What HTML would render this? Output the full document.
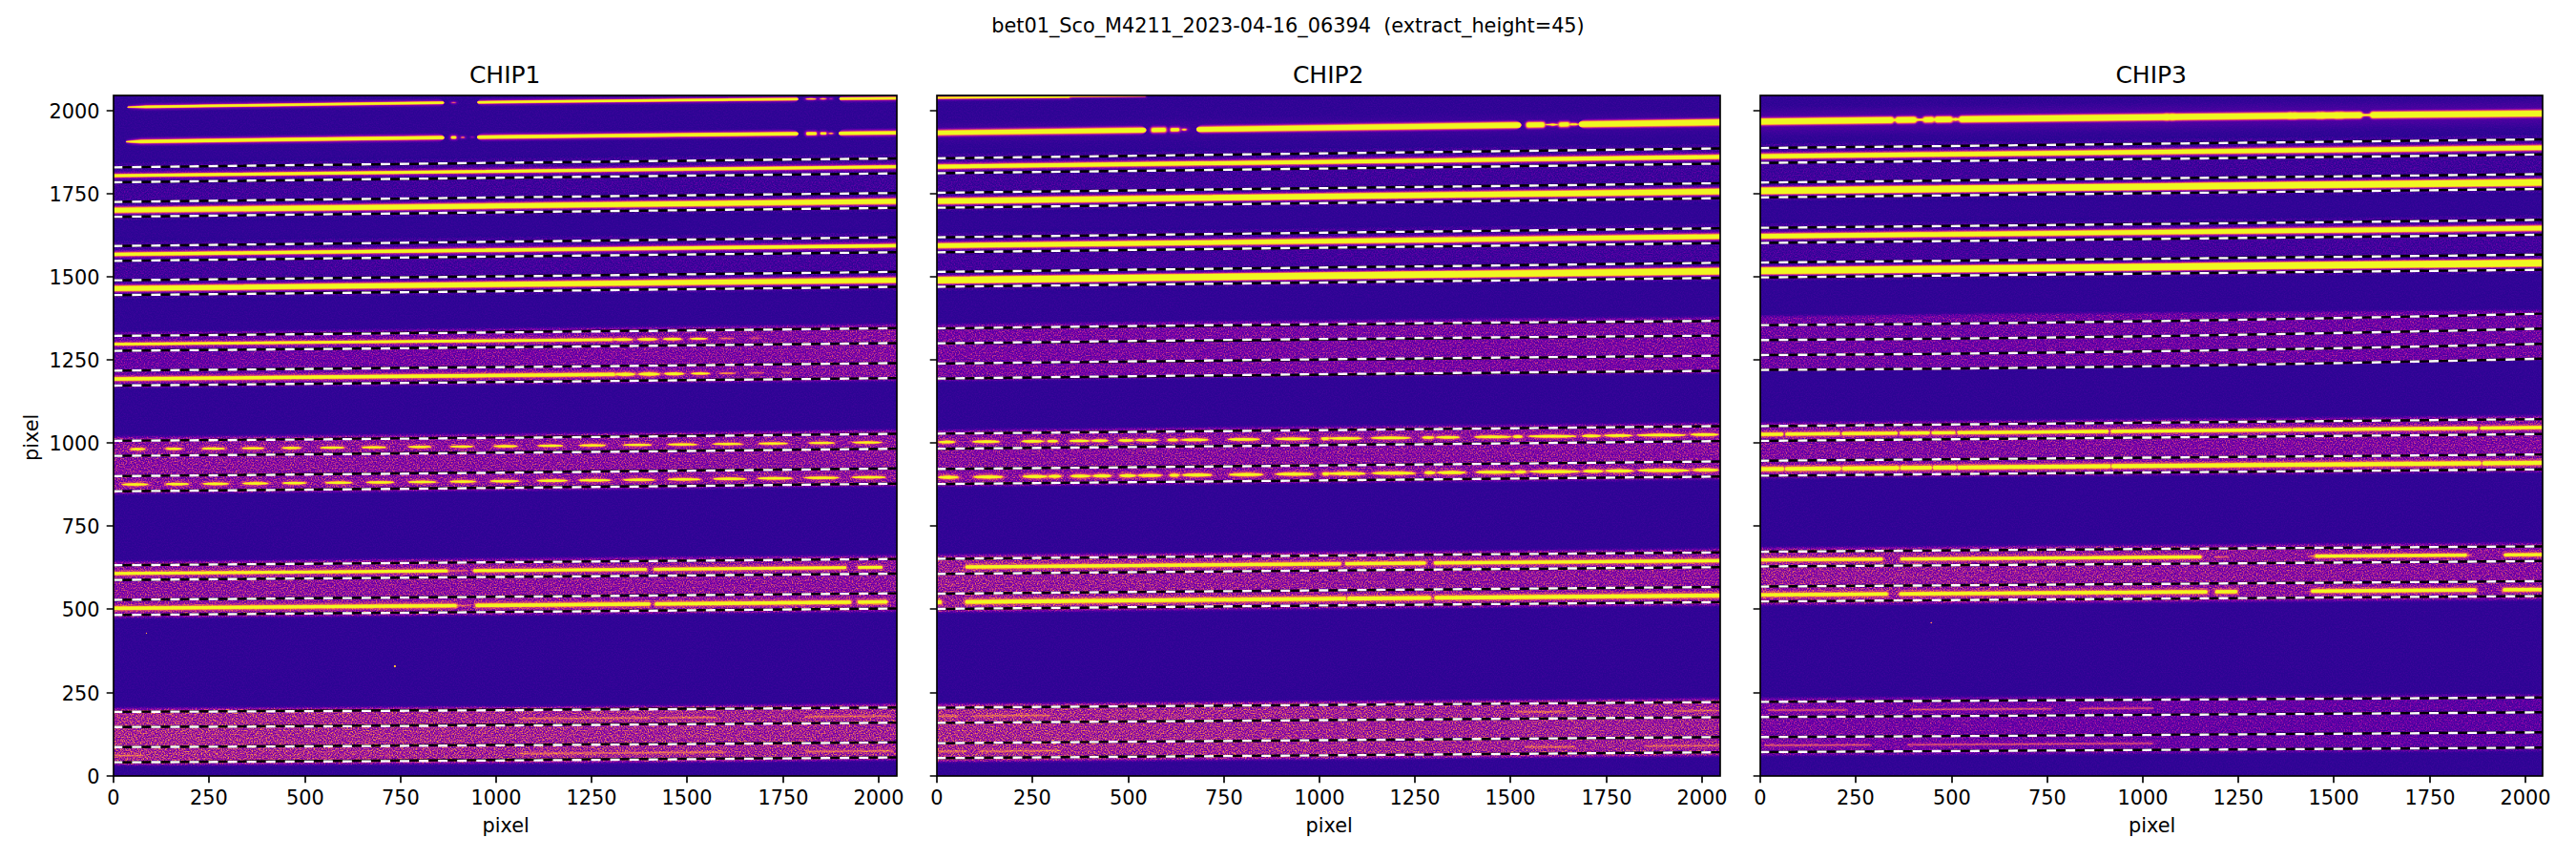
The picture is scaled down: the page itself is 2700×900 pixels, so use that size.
<!DOCTYPE html>
<html lang="en"><head><meta charset="utf-8"><title>bet01_Sco_M4211_2023-04-16_06394</title>
<style>html,body{margin:0;padding:0;background:#fff}svg{display:block}text{font-family:"DejaVu Sans","Liberation Sans",sans-serif;fill:#000}</style></head><body>
<svg width="2700" height="900" viewBox="0 0 2700 900">
<defs>
<filter id="cm" filterUnits="userSpaceOnUse" x="0" y="0" width="2700" height="900" color-interpolation-filters="sRGB">
<feComponentTransfer><feFuncR type="table" tableValues="0.0504 0.1324 0.1934 0.2480 0.2999 0.3502 0.3994 0.4477 0.4949 0.5406 0.5844 0.6260 0.6651 0.7018 0.7360 0.7681 0.7982 0.8266 0.8533 0.8784 0.9018 0.9233 0.9426 0.9594 0.9734 0.9842 0.9914 0.9945 0.9930 0.9865 0.9744 0.9568 0.9400"/><feFuncG type="table" tableValues="0.0298 0.0223 0.0184 0.0144 0.0096 0.0044 0.0009 0.0021 0.0120 0.0350 0.0686 0.1033 0.1386 0.1740 0.2094 0.2448 0.2802 0.3157 0.3516 0.3879 0.4251 0.4633 0.5026 0.5434 0.5858 0.6297 0.6754 0.7227 0.7717 0.8224 0.8746 0.9282 0.9752"/><feFuncB type="table" tableValues="0.5280 0.5633 0.5903 0.6129 0.6316 0.6463 0.6561 0.6602 0.6579 0.6486 0.6328 0.6113 0.5856 0.5573 0.5279 0.4985 0.4695 0.4413 0.4137 0.3866 0.3597 0.3328 0.3058 0.2787 0.2515 0.2246 0.1985 0.1744 0.1548 0.1436 0.1441 0.1524 0.1313"/><feFuncA type="linear" slope="0" intercept="1"/></feComponentTransfer>
</filter>
<filter id="noiseLo" filterUnits="userSpaceOnUse" x="0" y="0" width="2700" height="900" color-interpolation-filters="sRGB">
<feTurbulence type="fractalNoise" baseFrequency="0.72" numOctaves="2" seed="7" result="t"/>
<feColorMatrix in="t" type="matrix" values="2.1 0 0 0 -0.55  2.1 0 0 0 -0.55  2.1 0 0 0 -0.55  0 0 0 0 1" result="n0"/>
<feComponentTransfer in="n0" result="n"><feFuncR type="gamma" exponent="1.6"/><feFuncG type="gamma" exponent="1.6"/><feFuncB type="gamma" exponent="1.6"/></feComponentTransfer>
<feComposite in="SourceGraphic" in2="n" operator="arithmetic" k1="0.6" k2="0.79" k3="0" k4="0" result="m"/>
<feComposite in="m" in2="SourceGraphic" operator="in"/>
</filter>
<filter id="noiseHi" filterUnits="userSpaceOnUse" x="0" y="0" width="2700" height="900" color-interpolation-filters="sRGB">
<feTurbulence type="fractalNoise" baseFrequency="0.72" numOctaves="2" seed="7" result="t"/>
<feColorMatrix in="t" type="matrix" values="2.1 0 0 0 -0.55  2.1 0 0 0 -0.55  2.1 0 0 0 -0.55  0 0 0 0 1" result="n0"/>
<feComponentTransfer in="n0" result="n"><feFuncR type="gamma" exponent="1.6"/><feFuncG type="gamma" exponent="1.6"/><feFuncB type="gamma" exponent="1.6"/></feComponentTransfer>
<feComposite in="SourceGraphic" in2="n" operator="arithmetic" k1="1.45" k2="0.49" k3="0" k4="0" result="m"/>
<feComposite in="m" in2="SourceGraphic" operator="in"/>
</filter>
<filter id="tsm" filterUnits="userSpaceOnUse" x="0" y="0" width="2700" height="900" color-interpolation-filters="sRGB"><feGaussianBlur stdDeviation="0.7 0.4"/></filter>
<filter id="soft" filterUnits="userSpaceOnUse" x="0" y="0" width="2700" height="900" color-interpolation-filters="sRGB">
<feGaussianBlur stdDeviation="1 1.5"/></filter>
<filter id="halo" filterUnits="userSpaceOnUse" x="0" y="0" width="2700" height="900" color-interpolation-filters="sRGB">
<feGaussianBlur stdDeviation="2 3"/></filter>
<clipPath id="c0"><rect x="119" y="100" width="821" height="713"/></clipPath>
<linearGradient id="g0_2" gradientUnits="userSpaceOnUse" x1="119" y1="0" x2="940" y2="0"><stop offset="0" stop-color="#303030"/><stop offset="1" stop-color="#474747"/></linearGradient>
<linearGradient id="g0_5" gradientUnits="userSpaceOnUse" x1="119" y1="0" x2="940" y2="0"><stop offset="0" stop-color="#636363"/><stop offset="1" stop-color="#5c5c5c"/></linearGradient>
<clipPath id="c1"><rect x="982" y="100" width="821" height="713"/></clipPath>
<linearGradient id="g1_4" gradientUnits="userSpaceOnUse" x1="982" y1="0" x2="1803" y2="0"><stop offset="0" stop-color="#575757"/><stop offset="1" stop-color="#4a4a4a"/></linearGradient>
<linearGradient id="g1_5" gradientUnits="userSpaceOnUse" x1="982" y1="0" x2="1803" y2="0"><stop offset="0" stop-color="#636363"/><stop offset="1" stop-color="#575757"/></linearGradient>
<clipPath id="c2"><rect x="1845" y="100" width="820" height="713"/></clipPath>
<linearGradient id="g2_4" gradientUnits="userSpaceOnUse" x1="1845" y1="0" x2="2665" y2="0"><stop offset="0" stop-color="#545454"/><stop offset="1" stop-color="#474747"/></linearGradient>
<linearGradient id="g2_5" gradientUnits="userSpaceOnUse" x1="1845" y1="0" x2="2665" y2="0"><stop offset="0" stop-color="#3d3d3d"/><stop offset="1" stop-color="#292929"/></linearGradient>
</defs>
<rect width="2700" height="900" fill="#fff"/>
<g clip-path="url(#c0)">
<g filter="url(#cm)">
<rect x="117" y="98" width="825" height="717" fill="#101010" filter="url(#noiseLo)"/>
<g filter="url(#noiseHi)">
<g filter="url(#soft)">
<path d="M115 169.41Q529.5 164.21 944 159.99L944 222.79Q529.5 227.21 115 232.21Z" fill="#181818"/>
<path d="M115 251.8Q529.5 247.12 944 242.59L944 305.48Q529.5 310.47 115 314.19Z" fill="#1a1a1a"/>
<path d="M115 346.89Q529.5 343.67 944 338.78L944 399.49Q529.5 403.87 115 407.39Z" fill="url(#g0_2)"/>
<path d="M115 456.88Q529.5 454.33 944 449.48L944 510.08Q529.5 514.97 115 518.19Z" fill="#4a4a4a"/>
<path d="M115 587.69Q529.5 584.56 944 581L944 641.5Q529.5 645.37 115 648.38Z" fill="#4c4c4c"/>
<path d="M115 741.46Q529.5 740.37 944 736.8L944 797.1Q529.5 801.03 115 802.26Z" fill="url(#g0_5)"/>
</g>
</g>
<g filter="url(#tsm)" fill="none" stroke="#fff" stroke-linecap="round">
<path d="M138.55 108.56L141 108.3L153 107.34L178.55 106.95L218.56 106.35L258.57 105.77L298.57 105.21L338.58 104.66L378.59 104.12L418.59 103.61L458.6 103.11A6.9 4.6 0 0 1 458.6 112.3L418.59 112.8L378.59 113.32L338.58 113.85L298.57 114.4L258.57 114.97L218.56 115.55L178.55 116.15L153 116.54L141 115.95L138.55 115.76A5.05 3.36 0 0 1 138.55 108.56ZM507.2 102.52L547.54 102.05L587.87 101.6L628.21 101.16L668.55 100.74L708.89 100.34L749.23 99.95L789.56 99.58L829.9 99.22A6.9 4.6 0 0 1 829.9 108.42L789.56 108.78L749.23 109.15L708.89 109.53L668.55 109.94L628.21 110.36L587.87 110.79L547.54 111.25L507.2 111.72A6.9 4.6 0 0 1 507.2 102.52ZM886.5 98.75L940 98.34L943 98.32L943 107.51L940 107.54L886.5 107.95A6.9 4.6 0 0 1 886.5 98.75Z" stroke="none" fill="#fff" fill-opacity="0.04"/>
<path d="M137.03 109.7L141 109.24L153 108.1L177.37 107.73L217.71 107.13L258.05 106.54L298.38 105.97L338.72 105.41L379.06 104.88L419.4 104.36L459.74 103.85A5.76 3.84 0 0 1 459.74 111.53L419.4 112.03L379.06 112.56L338.72 113.09L298.38 113.65L258.05 114.22L217.71 114.8L177.37 115.41L153 115.78L141 115.01L137.03 114.67A3.53 2.35 0 0 1 137.03 109.7ZM506.06 103.29L546.68 102.82L587.3 102.36L627.93 101.92L668.55 101.5L709.17 101.09L749.8 100.7L790.42 100.33L831.04 99.97A5.76 3.84 0 0 1 831.04 107.65L790.42 108.01L749.8 108.38L709.17 108.77L668.55 109.18L627.93 109.6L587.3 110.04L546.68 110.5L506.06 110.97A5.76 3.84 0 0 1 506.06 103.29ZM885.36 99.52L940 99.1L943 99.08L943 106.75L940 106.78L885.36 107.2A5.76 3.84 0 0 1 885.36 99.52Z" stroke="none" fill="#fff" fill-opacity="0.042"/>
<path d="M136.26 110.31L141 109.93L153 108.74L176.81 108.37L217.37 107.77L257.92 107.18L298.47 106.6L339.03 106.05L379.58 105.5L420.14 104.98L460.69 104.47A4.81 3.2 0 0 1 460.69 110.88L420.14 111.39L379.58 111.91L339.03 112.45L298.47 113.01L257.92 113.58L217.37 114.17L176.81 114.78L153 115.14L141 114.32L136.26 114.09A2.76 1.84 0 0 1 136.26 110.31ZM505.11 103.94L545.97 103.46L586.83 103L627.69 102.56L668.55 102.13L709.41 101.73L750.27 101.33L791.13 100.96L831.99 100.6A4.81 3.2 0 0 1 831.99 107.01L791.13 107.37L750.27 107.74L709.41 108.13L668.55 108.54L627.69 108.97L586.83 109.41L545.97 109.87L505.11 110.35A4.81 3.2 0 0 1 505.11 103.94ZM884.41 100.16L940 99.73L943 99.71L943 106.12L940 106.14L884.41 106.57A4.81 3.2 0 0 1 884.41 100.16Z" stroke="none" fill="#fff" fill-opacity="0.054"/>
<path d="M135.82 110.63L141 110.3L153 109.3L176.54 108.94L217.25 108.33L257.97 107.74L298.68 107.17L339.4 106.61L380.11 106.07L420.83 105.54L461.54 105.03A3.96 2.64 0 0 1 461.54 110.31L420.83 110.81L380.11 111.34L339.4 111.88L298.68 112.44L257.97 113.02L217.25 113.61L176.54 114.22L153 114.58L141 113.95L135.82 113.79A2.32 1.55 0 0 1 135.82 110.63ZM504.26 104.51L545.33 104.04L586.4 103.57L627.48 103.13L668.55 102.7L709.62 102.29L750.7 101.9L791.77 101.52L832.84 101.16A3.96 2.64 0 0 1 832.84 106.43L791.77 106.79L750.7 107.17L709.62 107.57L668.55 107.98L627.48 108.4L586.4 108.85L545.33 109.31L504.26 109.79A3.96 2.64 0 0 1 504.26 104.51ZM883.56 100.74L940 100.3L943 100.28L943 105.55L940 105.57L883.56 106.01A3.96 2.64 0 0 1 883.56 100.74Z" stroke="none" fill="#fff" fill-opacity="0.069"/>
<path d="M135.46 110.88L141 110.57L153 109.78L176.31 109.42L217.16 108.81L258.01 108.22L298.86 107.64L339.71 107.08L380.56 106.53L421.41 106.01L462.26 105.5A3.24 2.16 0 0 1 462.26 109.82L421.41 110.33L380.56 110.86L339.71 111.4L298.86 111.96L258.01 112.54L217.16 113.14L176.31 113.75L153 114.1L141 113.68L135.46 113.54A1.96 1.31 0 0 1 135.46 110.88ZM503.54 105L544.8 104.52L586.05 104.05L627.3 103.61L668.55 103.18L709.8 102.76L751.05 102.37L792.3 101.99L833.56 101.63A3.24 2.16 0 0 1 833.56 105.95L792.3 106.31L751.05 106.69L709.8 107.09L668.55 107.5L627.3 107.93L586.05 108.38L544.8 108.84L503.54 109.32A3.24 2.16 0 0 1 503.54 105ZM882.84 101.22L940 100.77L943 100.75L943 105.08L940 105.1L882.84 105.54A3.24 2.16 0 0 1 882.84 101.22Z" stroke="none" fill="#fff" fill-opacity="0.099"/>
<path d="M135.13 111.11L141 110.79L153 110.09L176.08 109.73L217.03 109.12L257.98 108.53L298.93 107.95L339.87 107.39L380.82 106.84L421.77 106.31L462.72 105.8A2.78 1.85 0 0 1 462.72 109.51L421.77 110.02L380.82 110.55L339.87 111.09L298.93 111.65L257.98 112.23L217.03 112.83L176.08 113.44L153 113.79L141 113.46L135.13 113.32A1.63 1.09 0 0 1 135.13 111.11ZM503.08 105.31L544.45 104.83L585.81 104.37L627.18 103.92L668.55 103.49L709.92 103.07L751.29 102.68L792.65 102.3L834.02 101.93A2.78 1.85 0 0 1 834.02 105.64L792.65 106L751.29 106.38L709.92 106.78L668.55 107.19L627.18 107.62L585.81 108.07L544.45 108.54L503.08 109.02A2.78 1.85 0 0 1 503.08 105.31ZM882.38 101.53L940 101.08L943 101.06L943 104.77L940 104.79L882.38 105.24A2.78 1.85 0 0 1 882.38 101.53Z" stroke="none" fill="#fff" fill-opacity="0.137"/>
<path d="M134.81 111.34L141 110.98L153 110.31L175.84 109.96L216.87 109.35L257.9 108.75L298.93 108.17L339.96 107.61L380.99 107.06L422.02 106.53L463.05 106.02A2.45 1.63 0 0 1 463.05 109.28L422.02 109.79L380.99 110.32L339.96 110.87L298.93 111.43L257.9 112.01L216.87 112.61L175.84 113.22L153 113.57L141 113.27L134.81 113.11A1.31 0.87 0 0 1 134.81 111.34ZM502.75 105.54L544.2 105.05L585.65 104.59L627.1 104.14L668.55 103.71L710 103.29L751.45 102.89L792.9 102.51L834.35 102.15A2.45 1.63 0 0 1 834.35 105.42L792.9 105.78L751.45 106.16L710 106.56L668.55 106.97L627.1 107.4L585.65 107.85L544.2 108.32L502.75 108.8A2.45 1.63 0 0 1 502.75 105.54ZM882.05 101.76L940 101.31L943 101.28L943 104.55L940 104.57L882.05 105.02A2.45 1.63 0 0 1 882.05 101.76Z" stroke="none" fill="#fff" fill-opacity="0.19"/>
<path d="M134.45 111.58L141 111.17L153 110.49L175.56 110.14L216.67 109.53L257.78 108.93L298.89 108.35L339.99 107.78L381.1 107.24L422.21 106.71L463.32 106.19A2.18 1.45 0 0 1 463.32 109.1L422.21 109.61L381.1 110.14L339.99 110.69L298.89 111.26L257.78 111.84L216.67 112.43L175.56 113.05L153 113.39L141 113.09L134.45 112.88A0.95 0.64 0 0 1 134.45 111.58ZM502.48 105.72L544 105.23L585.52 104.77L627.03 104.32L668.55 103.88L710.07 103.47L751.58 103.07L793.1 102.69L834.62 102.33A2.18 1.45 0 0 1 834.62 105.24L793.1 105.6L751.58 105.98L710.07 106.38L668.55 106.79L627.03 107.23L585.52 107.68L544 108.14L502.48 108.63A2.18 1.45 0 0 1 502.48 105.72ZM881.78 101.94L940 101.48L943 101.46L943 104.37L940 104.39L881.78 104.84A2.18 1.45 0 0 1 881.78 101.94Z" stroke="none" fill="#fff" fill-opacity="0.275"/>
<path d="M133.93 111.94L141 111.37L153 110.65L175.13 110.31L216.34 109.69L257.54 109.09L298.75 108.51L339.95 107.95L381.15 107.4L422.36 106.87L463.56 106.35A1.94 1.29 0 0 1 463.56 108.93L422.36 109.45L381.15 109.98L339.95 110.53L298.75 111.09L257.54 111.68L216.34 112.28L175.13 112.89L153 113.23L141 112.88L133.93 112.53A0.43 0.29 0 0 1 133.93 111.94ZM502.24 105.88L543.82 105.4L585.39 104.93L626.97 104.48L668.55 104.05L710.13 103.63L751.71 103.23L793.28 102.85L834.86 102.49A1.94 1.29 0 0 1 834.86 105.07L793.28 105.43L751.71 105.82L710.13 106.21L668.55 106.63L626.97 107.06L585.39 107.51L543.82 107.98L502.24 108.47A1.94 1.29 0 0 1 502.24 105.88ZM881.54 102.1L940 101.65L943 101.62L943 104.21L940 104.23L881.54 104.68A1.94 1.29 0 0 1 881.54 102.1Z" stroke="none" fill="#fff" fill-opacity="0.459"/>
<path d="M134.18 111.78L141 111.61L153 110.8L175.38 110.46L216.58 109.84L257.78 109.24L298.98 108.66L340.19 108.1L381.39 107.55L422.59 107.02L463.79 106.5A1.71 1.14 0 0 1 463.79 108.78L422.59 109.29L381.39 109.82L340.19 110.37L298.98 110.94L257.78 111.52L216.58 112.12L175.38 112.73L153 113.08L141 112.64L134.18 112.68A0.68 0.45 0 0 1 134.18 111.78ZM502.01 106.04L543.64 105.56L585.28 105.09L626.91 104.64L668.55 104.2L710.19 103.79L751.82 103.39L793.46 103L835.09 102.64A1.71 1.14 0 0 1 835.09 104.91L793.46 105.28L751.82 105.66L710.19 106.06L668.55 106.48L626.91 106.91L585.28 107.36L543.64 107.83L502.01 108.32A1.71 1.14 0 0 1 502.01 106.04ZM881.31 102.26L940 101.8L943 101.78L943 104.05L940 104.07L881.31 104.53A1.71 1.14 0 0 1 881.31 102.26Z" stroke="none" fill="#fff" fill-opacity="1"/>
<path d="M137.1 144.2L138 143.99L148 143.02L177.2 142.62L217.3 142.07L257.4 141.53L297.5 141L337.6 140.49L377.7 139.98L417.79 139.48L457.89 139A7.81 5.2 0 0 1 457.89 149.4L417.79 149.89L377.7 150.39L337.6 150.9L297.5 151.41L257.4 151.94L217.3 152.48L177.2 153.03L148 153.43L138 152.74L137.1 152.56A5.1 3.4 0 0 1 137.1 144.2ZM507.81 138.4L547.96 137.94L588.1 137.48L628.25 137.04L668.4 136.6L708.55 136.18L748.7 135.77L788.84 135.36L828.99 134.97A7.81 5.2 0 0 1 828.99 145.38L788.84 145.77L748.7 146.17L708.55 146.59L668.4 147.01L628.25 147.45L588.1 147.89L547.96 148.35L507.81 148.81A7.81 5.2 0 0 1 507.81 138.4ZM886.81 134.42L940 133.93L943 133.9L943 144.31L940 144.34L886.81 144.83A7.81 5.2 0 0 1 886.81 134.42Z" stroke="none" fill="#fff" fill-opacity="0.04"/>
<path d="M135.59 145.46L138 144.79L148 143.68L176 143.29L216.41 142.74L256.82 142.2L297.23 141.66L337.64 141.14L378.06 140.63L418.47 140.13L458.88 139.64A6.82 4.55 0 0 1 458.88 148.74L418.47 149.23L378.06 149.73L337.64 150.24L297.23 150.76L256.82 151.29L216.41 151.83L176 152.38L148 152.77L138 151.94L135.59 151.34A3.59 2.39 0 0 1 135.59 145.46ZM506.82 139.07L547.22 138.6L587.61 138.15L628.01 137.7L668.4 137.26L708.79 136.83L749.19 136.42L789.58 136.01L829.98 135.62A6.82 4.55 0 0 1 829.98 144.71L789.58 145.11L749.19 145.51L708.79 145.93L668.4 146.36L628.01 146.79L587.61 147.24L547.22 147.7L506.82 148.17A6.82 4.55 0 0 1 506.82 139.07ZM885.82 135.08L940 134.59L943 134.56L943 143.66L940 143.68L885.82 144.18A6.82 4.55 0 0 1 885.82 135.08Z" stroke="none" fill="#fff" fill-opacity="0.042"/>
<path d="M134.79 146.3L138 145.48L148 144.2L175.4 143.82L216.01 143.27L256.62 142.72L297.23 142.19L337.84 141.66L378.45 141.15L419.06 140.65L459.66 140.16A6.04 4.02 0 0 1 459.66 148.2L419.06 148.7L378.45 149.2L337.84 149.71L297.23 150.24L256.62 150.77L216.01 151.31L175.4 151.87L148 152.25L138 151.25L134.79 150.52A2.79 1.86 0 0 1 134.79 146.3ZM506.04 139.61L546.63 139.13L587.22 138.67L627.81 138.22L668.4 137.79L708.99 137.36L749.58 136.94L790.17 136.53L830.76 136.13A6.04 4.02 0 0 1 830.76 144.18L790.17 144.58L749.58 144.99L708.99 145.4L668.4 145.83L627.81 146.27L587.22 146.72L546.63 147.18L506.04 147.65A6.04 4.02 0 0 1 506.04 139.61ZM885.04 135.61L940 135.11L943 135.08L943 143.13L940 143.16L885.04 143.66A6.04 4.02 0 0 1 885.04 135.61Z" stroke="none" fill="#fff" fill-opacity="0.054"/>
<path d="M134.35 146.7L138 146.03L148 144.66L175.1 144.29L215.85 143.73L256.6 143.19L297.35 142.65L338.11 142.12L378.86 141.61L419.61 141.1L460.36 140.61A5.34 3.56 0 0 1 460.36 147.73L419.61 148.23L378.86 148.73L338.11 149.25L297.35 149.77L256.6 150.31L215.85 150.85L175.1 151.41L148 151.79L138 150.7L134.35 150.13A2.35 1.57 0 0 1 134.35 146.7ZM505.34 140.08L546.11 139.6L586.87 139.14L627.64 138.69L668.4 138.25L709.16 137.82L749.93 137.4L790.69 136.99L831.46 136.59A5.34 3.56 0 0 1 831.46 143.71L790.69 144.11L749.93 144.52L709.16 144.94L668.4 145.37L627.64 145.81L586.87 146.26L546.11 146.73L505.34 147.2A5.34 3.56 0 0 1 505.34 140.08ZM884.34 136.08L940 135.57L943 135.55L943 142.67L940 142.7L884.34 143.21A5.34 3.56 0 0 1 884.34 136.08Z" stroke="none" fill="#fff" fill-opacity="0.069"/>
<path d="M133.99 146.99L138 146.42L148 145.15L174.88 144.78L215.76 144.22L256.65 143.67L297.54 143.13L338.42 142.6L379.31 142.09L420.2 141.58L461.09 141.09A4.61 3.08 0 0 1 461.09 147.24L420.2 147.73L379.31 148.24L338.42 148.76L297.54 149.28L256.65 149.82L215.76 150.37L174.88 150.93L148 151.3L138 150.31L133.99 149.85A1.99 1.33 0 0 1 133.99 146.99ZM504.61 140.57L545.56 140.09L586.51 139.63L627.45 139.18L668.4 138.73L709.35 138.3L750.29 137.88L791.24 137.47L832.19 137.06A4.61 3.08 0 0 1 832.19 143.22L791.24 143.62L750.29 144.03L709.35 144.45L668.4 144.89L627.45 145.33L586.51 145.78L545.56 146.25L504.61 146.72A4.61 3.08 0 0 1 504.61 140.57ZM883.61 136.58L940 136.06L943 136.03L943 142.18L940 142.21L883.61 142.73A4.61 3.08 0 0 1 883.61 136.58Z" stroke="none" fill="#fff" fill-opacity="0.099"/>
<path d="M133.66 147.23L138 146.68L148 145.62L174.68 145.25L215.7 144.69L256.71 144.14L297.73 143.6L338.75 143.08L379.76 142.56L420.78 142.05L461.8 141.55A3.9 2.6 0 0 1 461.8 146.75L420.78 147.25L379.76 147.76L338.75 148.28L297.73 148.81L256.71 149.35L215.7 149.9L174.68 150.46L148 150.83L138 150.05L133.66 149.62A1.66 1.11 0 0 1 133.66 147.23ZM503.9 141.05L545.03 140.58L586.15 140.11L627.28 139.65L668.4 139.21L709.52 138.77L750.65 138.35L791.77 137.94L832.9 137.53A3.9 2.6 0 0 1 832.9 142.73L791.77 143.14L750.65 143.55L709.52 143.98L668.4 144.41L627.28 144.86L586.15 145.31L545.03 145.78L503.9 146.25A3.9 2.6 0 0 1 503.9 141.05ZM882.9 137.06L940 136.53L943 136.51L943 141.71L940 141.74L882.9 142.26A3.9 2.6 0 0 1 882.9 137.06Z" stroke="none" fill="#fff" fill-opacity="0.137"/>
<path d="M133.34 147.46L138 146.89L148 146.01L174.47 145.64L215.6 145.08L256.73 144.53L297.86 143.99L338.99 143.46L380.12 142.94L421.25 142.43L462.37 141.93A3.33 2.22 0 0 1 462.37 146.36L421.25 146.86L380.12 147.37L338.99 147.89L297.86 148.42L256.73 148.96L215.6 149.51L174.47 150.08L148 150.44L138 149.85L133.34 149.4A1.34 0.89 0 0 1 133.34 147.46ZM503.33 141.44L544.59 140.96L585.86 140.5L627.13 140.04L668.4 139.59L709.67 139.16L750.94 138.73L792.21 138.32L833.47 137.91A3.33 2.22 0 0 1 833.47 142.35L792.21 142.75L750.94 143.16L709.67 143.59L668.4 144.03L627.13 144.47L585.86 144.93L544.59 145.4L503.33 145.88A3.33 2.22 0 0 1 503.33 141.44ZM882.33 137.45L940 136.92L943 136.89L943 141.32L940 141.35L882.33 141.88A3.33 2.22 0 0 1 882.33 137.45Z" stroke="none" fill="#fff" fill-opacity="0.19"/>
<path d="M133 147.71L138 147.06L148 146.27L174.22 145.91L215.44 145.35L256.66 144.79L297.89 144.25L339.11 143.72L380.33 143.2L421.55 142.69L462.77 142.19A2.93 1.95 0 0 1 462.77 146.09L421.55 146.59L380.33 147.1L339.11 147.62L297.89 148.15L256.66 148.7L215.44 149.25L174.22 149.81L148 150.18L138 149.67L133 149.16A1 0.67 0 0 1 133 147.71ZM502.93 141.71L544.29 141.23L585.66 140.76L627.03 140.31L668.4 139.86L709.77 139.42L751.14 138.99L792.51 138.58L833.87 138.17A2.93 1.95 0 0 1 833.87 142.08L792.51 142.48L751.14 142.9L709.77 143.32L668.4 143.76L627.03 144.21L585.66 144.67L544.29 145.14L502.93 145.62A2.93 1.95 0 0 1 502.93 141.71ZM881.93 137.72L940 137.18L943 137.16L943 141.06L940 141.09L881.93 141.62A2.93 1.95 0 0 1 881.93 137.72Z" stroke="none" fill="#fff" fill-opacity="0.275"/>
<path d="M132.52 148.05L138 147.22L148 146.48L173.84 146.12L215.16 145.56L256.48 145L297.8 144.46L339.12 143.93L380.44 143.4L421.76 142.89L463.08 142.39A2.62 1.75 0 0 1 463.08 145.89L421.76 146.39L380.44 146.9L339.12 147.42L297.8 147.95L256.48 148.5L215.16 149.05L173.84 149.61L148 149.97L138 149.51L132.52 148.84A0.52 0.35 0 0 1 132.52 148.05ZM502.62 141.92L544.07 141.44L585.51 140.97L626.96 140.51L668.4 140.06L709.84 139.62L751.29 139.2L792.73 138.78L834.18 138.37A2.62 1.75 0 0 1 834.18 141.87L792.73 142.27L751.29 142.69L709.84 143.12L668.4 143.56L626.96 144.01L585.51 144.46L544.07 144.93L502.62 145.42A2.62 1.75 0 0 1 502.62 141.92ZM881.62 137.92L940 137.39L943 137.36L943 140.85L940 140.88L881.62 141.42A2.62 1.75 0 0 1 881.62 137.92Z" stroke="none" fill="#fff" fill-opacity="0.459"/>
<path d="M132.68 147.99L138 147.39L148 146.65L174.01 146.28L215.34 145.72L256.67 145.17L298 144.62L339.33 144.09L380.67 143.57L422 143.06L463.33 142.55A2.37 1.58 0 0 1 463.33 145.72L422 146.22L380.67 146.73L339.33 147.25L298 147.78L256.67 148.33L215.34 148.88L174.01 149.45L148 149.81L138 149.35L132.68 148.89A0.68 0.45 0 0 1 132.68 147.99ZM502.37 142.09L543.88 141.61L585.39 141.14L626.89 140.68L668.4 140.23L709.91 139.79L751.41 139.36L792.92 138.95L834.43 138.54A2.37 1.58 0 0 1 834.43 141.7L792.92 142.11L751.41 142.52L709.91 142.95L668.4 143.39L626.89 143.84L585.39 144.3L543.88 144.77L502.37 145.25A2.37 1.58 0 0 1 502.37 142.09ZM881.37 138.09L940 137.55L943 137.53L943 140.69L940 140.71L881.37 141.25A2.37 1.58 0 0 1 881.37 138.09Z" stroke="none" fill="#fff" fill-opacity="1"/>
<g stroke="none" fill="#fff" fill-opacity="0.04"><ellipse cx="475.5" cy="107.5" rx="5.53" ry="2.86"/></g>
<g stroke="none" fill="#fff" fill-opacity="0.042"><ellipse cx="475.5" cy="107.5" rx="4.19" ry="1.96"/></g>
<g stroke="none" fill="#fff" fill-opacity="0.054"><ellipse cx="475.5" cy="107.5" rx="3.6" ry="1.57"/></g>
<g stroke="none" fill="#fff" fill-opacity="0.069"><ellipse cx="475.5" cy="107.5" rx="3.21" ry="1.31"/></g>
<g stroke="none" fill="#fff" fill-opacity="0.099"><ellipse cx="475.5" cy="107.5" rx="2.84" ry="1.06"/></g>
<g stroke="none" fill="#fff" fill-opacity="0.137"><ellipse cx="475.5" cy="107.5" rx="2.47" ry="0.81"/></g>
<g stroke="none" fill="#fff" fill-opacity="0.19"><ellipse cx="475.5" cy="107.5" rx="2.03" ry="0.52"/></g>
<g stroke="none" fill="#fff" fill-opacity="0.216"><ellipse cx="475.5" cy="107.5" rx="1.93" ry="0.45"/></g>
<defs><path id="t0_3" d="M474 144.01Q475.5 143.99 477 143.97"/></defs>
<use href="#t0_3" stroke-width="9.34" stroke-opacity="0.04"/>
<use href="#t0_3" stroke-width="7.85" stroke-opacity="0.042"/>
<use href="#t0_3" stroke-width="6.61" stroke-opacity="0.054"/>
<use href="#t0_3" stroke-width="5.5" stroke-opacity="0.069"/>
<use href="#t0_3" stroke-width="4.5" stroke-opacity="0.099"/>
<use href="#t0_3" stroke-width="3.83" stroke-opacity="0.137"/>
<use href="#t0_3" stroke-width="3.37" stroke-opacity="0.19"/>
<use href="#t0_3" stroke-width="3.01" stroke-opacity="0.275"/>
<use href="#t0_3" stroke-width="2.68" stroke-opacity="0.459"/>
<use href="#t0_3" stroke-width="2.38" stroke-opacity="1"/>
<g stroke="none" fill="#fff" fill-opacity="0.04"><ellipse cx="485" cy="143.88" rx="5.53" ry="3.19"/></g>
<g stroke="none" fill="#fff" fill-opacity="0.042"><ellipse cx="485" cy="143.88" rx="4.04" ry="2.19"/></g>
<g stroke="none" fill="#fff" fill-opacity="0.054"><ellipse cx="485" cy="143.88" rx="3.35" ry="1.73"/></g>
<g stroke="none" fill="#fff" fill-opacity="0.069"><ellipse cx="485" cy="143.88" rx="2.94" ry="1.46"/></g>
<g stroke="none" fill="#fff" fill-opacity="0.099"><ellipse cx="485" cy="143.88" rx="2.58" ry="1.22"/></g>
<g stroke="none" fill="#fff" fill-opacity="0.137"><ellipse cx="485" cy="143.88" rx="2.24" ry="0.99"/></g>
<g stroke="none" fill="#fff" fill-opacity="0.19"><ellipse cx="485" cy="143.88" rx="1.89" ry="0.76"/></g>
<g stroke="none" fill="#fff" fill-opacity="0.275"><ellipse cx="485" cy="143.88" rx="1.47" ry="0.48"/></g>
<g stroke="none" fill="#fff" fill-opacity="0.324"><ellipse cx="485" cy="143.88" rx="1.43" ry="0.45"/></g>
<g stroke="none" fill="#fff" fill-opacity="0.04"><ellipse cx="495" cy="143.76" rx="3.69" ry="1.96"/></g>
<g stroke="none" fill="#fff" fill-opacity="0.042"><ellipse cx="495" cy="143.76" rx="2.89" ry="1.42"/></g>
<g stroke="none" fill="#fff" fill-opacity="0.054"><ellipse cx="495" cy="143.76" rx="2.38" ry="1.09"/></g>
<g stroke="none" fill="#fff" fill-opacity="0.069"><ellipse cx="495" cy="143.76" rx="1.93" ry="0.79"/></g>
<g stroke="none" fill="#fff" fill-opacity="0.099"><ellipse cx="495" cy="143.76" rx="1.31" ry="0.45"/></g>
<g stroke="none" fill="#fff" fill-opacity="0.041"><ellipse cx="495" cy="143.76" rx="1.43" ry="0.45"/></g>
<g stroke="none" fill="#fff" fill-opacity="0.04"><ellipse cx="850" cy="103.65" rx="9.67" ry="3.66"/></g>
<g stroke="none" fill="#fff" fill-opacity="0.042"><ellipse cx="850" cy="103.65" rx="8.19" ry="2.68"/></g>
<g stroke="none" fill="#fff" fill-opacity="0.054"><ellipse cx="850" cy="103.65" rx="7.24" ry="2.05"/></g>
<g stroke="none" fill="#fff" fill-opacity="0.069"><ellipse cx="850" cy="103.65" rx="6.74" ry="1.71"/></g>
<g stroke="none" fill="#fff" fill-opacity="0.099"><ellipse cx="850" cy="103.65" rx="6.37" ry="1.46"/></g>
<g stroke="none" fill="#fff" fill-opacity="0.137"><ellipse cx="850" cy="103.65" rx="6.04" ry="1.25"/></g>
<g stroke="none" fill="#fff" fill-opacity="0.19"><ellipse cx="850" cy="103.65" rx="5.74" ry="1.05"/></g>
<g stroke="none" fill="#fff" fill-opacity="0.275"><ellipse cx="850" cy="103.65" rx="5.45" ry="0.85"/></g>
<g stroke="none" fill="#fff" fill-opacity="0.459"><ellipse cx="850" cy="103.65" rx="5.11" ry="0.62"/></g>
<g stroke="none" fill="#fff" fill-opacity="1"><ellipse cx="850" cy="103.65" rx="4.61" ry="0.45"/></g>
<g stroke="none" fill="#fff" fill-opacity="0.04"><ellipse cx="862.75" cy="103.55" rx="7.46" ry="3.49"/></g>
<g stroke="none" fill="#fff" fill-opacity="0.042"><ellipse cx="862.75" cy="103.55" rx="5.94" ry="2.48"/></g>
<g stroke="none" fill="#fff" fill-opacity="0.054"><ellipse cx="862.75" cy="103.55" rx="5.1" ry="1.92"/></g>
<g stroke="none" fill="#fff" fill-opacity="0.069"><ellipse cx="862.75" cy="103.55" rx="4.64" ry="1.61"/></g>
<g stroke="none" fill="#fff" fill-opacity="0.099"><ellipse cx="862.75" cy="103.55" rx="4.28" ry="1.37"/></g>
<g stroke="none" fill="#fff" fill-opacity="0.137"><ellipse cx="862.75" cy="103.55" rx="3.95" ry="1.15"/></g>
<g stroke="none" fill="#fff" fill-opacity="0.19"><ellipse cx="862.75" cy="103.55" rx="3.64" ry="0.94"/></g>
<g stroke="none" fill="#fff" fill-opacity="0.275"><ellipse cx="862.75" cy="103.55" rx="3.32" ry="0.73"/></g>
<g stroke="none" fill="#fff" fill-opacity="0.459"><ellipse cx="862.75" cy="103.55" rx="2.9" ry="0.45"/></g>
<g stroke="none" fill="#fff" fill-opacity="0.664"><ellipse cx="862.75" cy="103.55" rx="2.9" ry="0.45"/></g>
<g stroke="none" fill="#fff" fill-opacity="0.04"><ellipse cx="871" cy="103.48" rx="4.16" ry="2.27"/></g>
<g stroke="none" fill="#fff" fill-opacity="0.042"><ellipse cx="871" cy="103.48" rx="3.19" ry="1.63"/></g>
<g stroke="none" fill="#fff" fill-opacity="0.054"><ellipse cx="871" cy="103.48" rx="2.68" ry="1.29"/></g>
<g stroke="none" fill="#fff" fill-opacity="0.069"><ellipse cx="871" cy="103.48" rx="2.28" ry="1.02"/></g>
<g stroke="none" fill="#fff" fill-opacity="0.099"><ellipse cx="871" cy="103.48" rx="1.84" ry="0.73"/></g>
<g stroke="none" fill="#fff" fill-opacity="0.137"><ellipse cx="871" cy="103.48" rx="1.23" ry="0.45"/></g>
<g stroke="none" fill="#fff" fill-opacity="0.048"><ellipse cx="871" cy="103.48" rx="1.43" ry="0.45"/></g>
<defs><path id="t0_9" d="M846.5 140Q850.5 139.96 854.5 139.93"/></defs>
<use href="#t0_9" stroke-width="9.91" stroke-opacity="0.04"/>
<use href="#t0_9" stroke-width="8.51" stroke-opacity="0.042"/>
<use href="#t0_9" stroke-width="7.39" stroke-opacity="0.054"/>
<use href="#t0_9" stroke-width="6.37" stroke-opacity="0.069"/>
<use href="#t0_9" stroke-width="5.32" stroke-opacity="0.099"/>
<use href="#t0_9" stroke-width="4.44" stroke-opacity="0.137"/>
<use href="#t0_9" stroke-width="3.86" stroke-opacity="0.19"/>
<use href="#t0_9" stroke-width="3.44" stroke-opacity="0.275"/>
<use href="#t0_9" stroke-width="3.08" stroke-opacity="0.459"/>
<use href="#t0_9" stroke-width="2.78" stroke-opacity="1"/>
<defs><path id="t0_10" d="M861 139.86Q863 139.85 865 139.83"/></defs>
<use href="#t0_10" stroke-width="9.05" stroke-opacity="0.04"/>
<use href="#t0_10" stroke-width="7.5" stroke-opacity="0.042"/>
<use href="#t0_10" stroke-width="6.2" stroke-opacity="0.054"/>
<use href="#t0_10" stroke-width="5.06" stroke-opacity="0.069"/>
<use href="#t0_10" stroke-width="4.17" stroke-opacity="0.099"/>
<use href="#t0_10" stroke-width="3.58" stroke-opacity="0.137"/>
<use href="#t0_10" stroke-width="3.16" stroke-opacity="0.19"/>
<use href="#t0_10" stroke-width="2.81" stroke-opacity="0.275"/>
<use href="#t0_10" stroke-width="2.48" stroke-opacity="0.459"/>
<use href="#t0_10" stroke-width="2.17" stroke-opacity="1"/>
<g stroke="none" fill="#fff" fill-opacity="0.04"><ellipse cx="871" cy="139.77" rx="6.41" ry="3.44"/></g>
<g stroke="none" fill="#fff" fill-opacity="0.042"><ellipse cx="871" cy="139.77" rx="4.89" ry="2.43"/></g>
<g stroke="none" fill="#fff" fill-opacity="0.054"><ellipse cx="871" cy="139.77" rx="4.08" ry="1.88"/></g>
<g stroke="none" fill="#fff" fill-opacity="0.069"><ellipse cx="871" cy="139.77" rx="3.63" ry="1.59"/></g>
<g stroke="none" fill="#fff" fill-opacity="0.099"><ellipse cx="871" cy="139.77" rx="3.27" ry="1.34"/></g>
<g stroke="none" fill="#fff" fill-opacity="0.137"><ellipse cx="871" cy="139.77" rx="2.94" ry="1.13"/></g>
<g stroke="none" fill="#fff" fill-opacity="0.19"><ellipse cx="871" cy="139.77" rx="2.62" ry="0.92"/></g>
<g stroke="none" fill="#fff" fill-opacity="0.275"><ellipse cx="871" cy="139.77" rx="2.29" ry="0.69"/></g>
<g stroke="none" fill="#fff" fill-opacity="0.459"><ellipse cx="871" cy="139.77" rx="1.84" ry="0.45"/></g>
<g stroke="none" fill="#fff" fill-opacity="0.5"><ellipse cx="871" cy="139.77" rx="1.93" ry="0.45"/></g>
<defs><path id="t0_12" d="M119 184.06Q529.5 179.02 940 174.73"/></defs>
<use href="#t0_12" stroke-width="9.91" stroke-opacity="0.04"/>
<use href="#t0_12" stroke-width="8.51" stroke-opacity="0.042"/>
<use href="#t0_12" stroke-width="7.39" stroke-opacity="0.054"/>
<use href="#t0_12" stroke-width="6.37" stroke-opacity="0.069"/>
<use href="#t0_12" stroke-width="5.32" stroke-opacity="0.099"/>
<use href="#t0_12" stroke-width="4.44" stroke-opacity="0.137"/>
<use href="#t0_12" stroke-width="3.86" stroke-opacity="0.19"/>
<use href="#t0_12" stroke-width="3.44" stroke-opacity="0.275"/>
<use href="#t0_12" stroke-width="3.08" stroke-opacity="0.459"/>
<use href="#t0_12" stroke-width="2.78" stroke-opacity="1"/>
<defs><path id="t0_13" d="M119 220.26Q529.5 215.32 940 210.93"/></defs>
<use href="#t0_13" stroke-width="11.79" stroke-opacity="0.04"/>
<use href="#t0_13" stroke-width="10.65" stroke-opacity="0.042"/>
<use href="#t0_13" stroke-width="9.77" stroke-opacity="0.054"/>
<use href="#t0_13" stroke-width="9.03" stroke-opacity="0.069"/>
<use href="#t0_13" stroke-width="8.27" stroke-opacity="0.099"/>
<use href="#t0_13" stroke-width="7.54" stroke-opacity="0.137"/>
<use href="#t0_13" stroke-width="6.82" stroke-opacity="0.19"/>
<use href="#t0_13" stroke-width="6.1" stroke-opacity="0.275"/>
<use href="#t0_13" stroke-width="5.38" stroke-opacity="0.459"/>
<use href="#t0_13" stroke-width="4.73" stroke-opacity="1"/>
<defs><path id="t0_14" d="M119 266.46Q529.5 261.69 940 257.38"/></defs>
<use href="#t0_14" stroke-width="10.41" stroke-opacity="0.04"/>
<use href="#t0_14" stroke-width="9.09" stroke-opacity="0.042"/>
<use href="#t0_14" stroke-width="8.05" stroke-opacity="0.054"/>
<use href="#t0_14" stroke-width="7.12" stroke-opacity="0.069"/>
<use href="#t0_14" stroke-width="6.15" stroke-opacity="0.099"/>
<use href="#t0_14" stroke-width="5.2" stroke-opacity="0.137"/>
<use href="#t0_14" stroke-width="4.43" stroke-opacity="0.19"/>
<use href="#t0_14" stroke-width="3.9" stroke-opacity="0.275"/>
<use href="#t0_14" stroke-width="3.49" stroke-opacity="0.459"/>
<use href="#t0_14" stroke-width="3.16" stroke-opacity="1"/>
<defs><path id="t0_15" d="M119 302.31Q529.5 298.57 940 293.58"/></defs>
<use href="#t0_15" stroke-width="11.79" stroke-opacity="0.04"/>
<use href="#t0_15" stroke-width="10.65" stroke-opacity="0.042"/>
<use href="#t0_15" stroke-width="9.77" stroke-opacity="0.054"/>
<use href="#t0_15" stroke-width="9.03" stroke-opacity="0.069"/>
<use href="#t0_15" stroke-width="8.27" stroke-opacity="0.099"/>
<use href="#t0_15" stroke-width="7.54" stroke-opacity="0.137"/>
<use href="#t0_15" stroke-width="6.82" stroke-opacity="0.19"/>
<use href="#t0_15" stroke-width="6.1" stroke-opacity="0.275"/>
<use href="#t0_15" stroke-width="5.38" stroke-opacity="0.459"/>
<use href="#t0_15" stroke-width="4.73" stroke-opacity="1"/>
<defs><path id="t0_16" d="M119 360.61Q380 358.53 641 355.83"/></defs>
<use href="#t0_16" stroke-width="9.34" stroke-opacity="0.04"/>
<use href="#t0_16" stroke-width="7.85" stroke-opacity="0.042"/>
<use href="#t0_16" stroke-width="6.61" stroke-opacity="0.054"/>
<use href="#t0_16" stroke-width="5.5" stroke-opacity="0.069"/>
<use href="#t0_16" stroke-width="4.5" stroke-opacity="0.099"/>
<use href="#t0_16" stroke-width="3.83" stroke-opacity="0.137"/>
<use href="#t0_16" stroke-width="3.37" stroke-opacity="0.19"/>
<use href="#t0_16" stroke-width="3.01" stroke-opacity="0.275"/>
<use href="#t0_16" stroke-width="2.68" stroke-opacity="0.459"/>
<use href="#t0_16" stroke-width="2.38" stroke-opacity="1"/>
<g stroke="none" fill="#fff" fill-opacity="0.04"><ellipse cx="652.85" cy="355.71" rx="15.51" ry="4.82"/><ellipse cx="678.51" cy="355.44" rx="15.51" ry="4.82"/></g>
<g stroke="none" fill="#fff" fill-opacity="0.042"><ellipse cx="652.85" cy="355.71" rx="14.43" ry="4.1"/><ellipse cx="678.51" cy="355.44" rx="14.43" ry="4.1"/></g>
<g stroke="none" fill="#fff" fill-opacity="0.054"><ellipse cx="652.85" cy="355.71" rx="13.55" ry="3.51"/><ellipse cx="678.51" cy="355.44" rx="13.55" ry="3.51"/></g>
<g stroke="none" fill="#fff" fill-opacity="0.069"><ellipse cx="652.85" cy="355.71" rx="12.75" ry="2.97"/><ellipse cx="678.51" cy="355.44" rx="12.75" ry="2.97"/></g>
<g stroke="none" fill="#fff" fill-opacity="0.099"><ellipse cx="652.85" cy="355.71" rx="11.96" ry="2.44"/><ellipse cx="678.51" cy="355.44" rx="11.96" ry="2.44"/></g>
<g stroke="none" fill="#fff" fill-opacity="0.137"><ellipse cx="652.85" cy="355.71" rx="11.38" ry="2.06"/><ellipse cx="678.51" cy="355.44" rx="11.38" ry="2.06"/></g>
<g stroke="none" fill="#fff" fill-opacity="0.19"><ellipse cx="652.85" cy="355.71" rx="10.99" ry="1.8"/><ellipse cx="678.51" cy="355.44" rx="10.99" ry="1.8"/></g>
<g stroke="none" fill="#fff" fill-opacity="0.275"><ellipse cx="652.85" cy="355.71" rx="10.7" ry="1.61"/><ellipse cx="678.51" cy="355.44" rx="10.7" ry="1.61"/></g>
<g stroke="none" fill="#fff" fill-opacity="0.459"><ellipse cx="652.85" cy="355.71" rx="10.45" ry="1.44"/><ellipse cx="678.51" cy="355.44" rx="10.45" ry="1.44"/></g>
<g stroke="none" fill="#fff" fill-opacity="1"><ellipse cx="652.85" cy="355.71" rx="10.22" ry="1.29"/><ellipse cx="678.51" cy="355.44" rx="10.22" ry="1.29"/></g>
<g stroke="none" fill="#fff" fill-opacity="0.04"><ellipse cx="704.8" cy="355.16" rx="14.77" ry="4.53"/></g>
<g stroke="none" fill="#fff" fill-opacity="0.042"><ellipse cx="704.8" cy="355.16" rx="13.61" ry="3.75"/></g>
<g stroke="none" fill="#fff" fill-opacity="0.054"><ellipse cx="704.8" cy="355.16" rx="12.63" ry="3.1"/></g>
<g stroke="none" fill="#fff" fill-opacity="0.069"><ellipse cx="704.8" cy="355.16" rx="11.77" ry="2.53"/></g>
<g stroke="none" fill="#fff" fill-opacity="0.099"><ellipse cx="704.8" cy="355.16" rx="11.1" ry="2.08"/></g>
<g stroke="none" fill="#fff" fill-opacity="0.137"><ellipse cx="704.8" cy="355.16" rx="10.67" ry="1.79"/></g>
<g stroke="none" fill="#fff" fill-opacity="0.19"><ellipse cx="704.8" cy="355.16" rx="10.35" ry="1.58"/></g>
<g stroke="none" fill="#fff" fill-opacity="0.275"><ellipse cx="704.8" cy="355.16" rx="10.09" ry="1.4"/></g>
<g stroke="none" fill="#fff" fill-opacity="0.459"><ellipse cx="704.8" cy="355.16" rx="9.84" ry="1.24"/></g>
<g stroke="none" fill="#fff" fill-opacity="1"><ellipse cx="704.8" cy="355.16" rx="9.61" ry="1.09"/></g>
<g stroke="none" fill="#fff" fill-opacity="0.04"><ellipse cx="732.3" cy="354.87" rx="13.95" ry="4.09"/></g>
<g stroke="none" fill="#fff" fill-opacity="0.042"><ellipse cx="732.3" cy="354.87" rx="12.64" ry="3.22"/></g>
<g stroke="none" fill="#fff" fill-opacity="0.054"><ellipse cx="732.3" cy="354.87" rx="11.56" ry="2.49"/></g>
<g stroke="none" fill="#fff" fill-opacity="0.069"><ellipse cx="732.3" cy="354.87" rx="10.86" ry="2.03"/></g>
<g stroke="none" fill="#fff" fill-opacity="0.099"><ellipse cx="732.3" cy="354.87" rx="10.4" ry="1.72"/></g>
<g stroke="none" fill="#fff" fill-opacity="0.137"><ellipse cx="732.3" cy="354.87" rx="10.06" ry="1.49"/></g>
<g stroke="none" fill="#fff" fill-opacity="0.19"><ellipse cx="732.3" cy="354.87" rx="9.77" ry="1.3"/></g>
<g stroke="none" fill="#fff" fill-opacity="0.275"><ellipse cx="732.3" cy="354.87" rx="9.51" ry="1.13"/></g>
<g stroke="none" fill="#fff" fill-opacity="0.459"><ellipse cx="732.3" cy="354.87" rx="9.24" ry="0.95"/></g>
<g stroke="none" fill="#fff" fill-opacity="1"><ellipse cx="732.3" cy="354.87" rx="8.96" ry="0.76"/></g>
<g stroke="none" fill="#fff" fill-opacity="0.04"><ellipse cx="761.02" cy="354.55" rx="10.67" ry="2.72"/></g>
<g stroke="none" fill="#fff" fill-opacity="0.042"><ellipse cx="761.02" cy="354.55" rx="9.4" ry="1.88"/></g>
<g stroke="none" fill="#fff" fill-opacity="0.054"><ellipse cx="761.02" cy="354.55" rx="8.85" ry="1.51"/></g>
<g stroke="none" fill="#fff" fill-opacity="0.069"><ellipse cx="761.02" cy="354.55" rx="8.46" ry="1.25"/></g>
<g stroke="none" fill="#fff" fill-opacity="0.099"><ellipse cx="761.02" cy="354.55" rx="8.08" ry="1"/></g>
<g stroke="none" fill="#fff" fill-opacity="0.137"><ellipse cx="761.02" cy="354.55" rx="7.68" ry="0.73"/></g>
<g stroke="none" fill="#fff" fill-opacity="0.19"><ellipse cx="761.02" cy="354.55" rx="7.17" ry="0.45"/></g>
<g stroke="none" fill="#fff" fill-opacity="0.118"><ellipse cx="761.02" cy="354.55" rx="7.26" ry="0.45"/></g>
<g stroke="none" fill="#fff" fill-opacity="0.04"><ellipse cx="790.97" cy="354.23" rx="8.16" ry="2.27"/></g>
<g stroke="none" fill="#fff" fill-opacity="0.042"><ellipse cx="790.97" cy="354.23" rx="7.19" ry="1.63"/></g>
<g stroke="none" fill="#fff" fill-opacity="0.054"><ellipse cx="790.97" cy="354.23" rx="6.68" ry="1.29"/></g>
<g stroke="none" fill="#fff" fill-opacity="0.069"><ellipse cx="790.97" cy="354.23" rx="6.28" ry="1.02"/></g>
<g stroke="none" fill="#fff" fill-opacity="0.099"><ellipse cx="790.97" cy="354.23" rx="5.84" ry="0.73"/></g>
<g stroke="none" fill="#fff" fill-opacity="0.137"><ellipse cx="790.97" cy="354.23" rx="5.23" ry="0.45"/></g>
<g stroke="none" fill="#fff" fill-opacity="0.048"><ellipse cx="790.97" cy="354.23" rx="5.43" ry="0.45"/></g>
<defs><path id="t0_22" d="M119 397.06Q381 394.84 643 392.25"/></defs>
<use href="#t0_22" stroke-width="10.41" stroke-opacity="0.04"/>
<use href="#t0_22" stroke-width="9.09" stroke-opacity="0.042"/>
<use href="#t0_22" stroke-width="8.05" stroke-opacity="0.054"/>
<use href="#t0_22" stroke-width="7.12" stroke-opacity="0.069"/>
<use href="#t0_22" stroke-width="6.15" stroke-opacity="0.099"/>
<use href="#t0_22" stroke-width="5.2" stroke-opacity="0.137"/>
<use href="#t0_22" stroke-width="4.43" stroke-opacity="0.19"/>
<use href="#t0_22" stroke-width="3.9" stroke-opacity="0.275"/>
<use href="#t0_22" stroke-width="3.49" stroke-opacity="0.459"/>
<use href="#t0_22" stroke-width="3.16" stroke-opacity="1"/>
<g stroke="none" fill="#fff" fill-opacity="0.04"><ellipse cx="655.29" cy="392.13" rx="15.65" ry="5.2"/><ellipse cx="680.35" cy="391.88" rx="16.26" ry="5.2"/></g>
<g stroke="none" fill="#fff" fill-opacity="0.042"><ellipse cx="655.29" cy="392.13" rx="14.66" ry="4.55"/><ellipse cx="680.35" cy="391.88" rx="15.27" ry="4.55"/></g>
<g stroke="none" fill="#fff" fill-opacity="0.054"><ellipse cx="655.29" cy="392.13" rx="13.88" ry="4.02"/><ellipse cx="680.35" cy="391.88" rx="14.49" ry="4.02"/></g>
<g stroke="none" fill="#fff" fill-opacity="0.069"><ellipse cx="655.29" cy="392.13" rx="13.18" ry="3.56"/><ellipse cx="680.35" cy="391.88" rx="13.79" ry="3.56"/></g>
<g stroke="none" fill="#fff" fill-opacity="0.099"><ellipse cx="655.29" cy="392.13" rx="12.45" ry="3.08"/><ellipse cx="680.35" cy="391.88" rx="13.07" ry="3.08"/></g>
<g stroke="none" fill="#fff" fill-opacity="0.137"><ellipse cx="655.29" cy="392.13" rx="11.74" ry="2.6"/><ellipse cx="680.35" cy="391.88" rx="12.35" ry="2.6"/></g>
<g stroke="none" fill="#fff" fill-opacity="0.19"><ellipse cx="655.29" cy="392.13" rx="11.17" ry="2.22"/><ellipse cx="680.35" cy="391.88" rx="11.78" ry="2.22"/></g>
<g stroke="none" fill="#fff" fill-opacity="0.275"><ellipse cx="655.29" cy="392.13" rx="10.77" ry="1.95"/><ellipse cx="680.35" cy="391.88" rx="11.38" ry="1.95"/></g>
<g stroke="none" fill="#fff" fill-opacity="0.459"><ellipse cx="655.29" cy="392.13" rx="10.46" ry="1.75"/><ellipse cx="680.35" cy="391.88" rx="11.07" ry="1.75"/></g>
<g stroke="none" fill="#fff" fill-opacity="1"><ellipse cx="655.29" cy="392.13" rx="10.21" ry="1.58"/><ellipse cx="680.35" cy="391.88" rx="10.82" ry="1.58"/></g>
<g stroke="none" fill="#fff" fill-opacity="0.04"><ellipse cx="706.63" cy="391.61" rx="15.51" ry="4.82"/></g>
<g stroke="none" fill="#fff" fill-opacity="0.042"><ellipse cx="706.63" cy="391.61" rx="14.43" ry="4.1"/></g>
<g stroke="none" fill="#fff" fill-opacity="0.054"><ellipse cx="706.63" cy="391.61" rx="13.55" ry="3.51"/></g>
<g stroke="none" fill="#fff" fill-opacity="0.069"><ellipse cx="706.63" cy="391.61" rx="12.75" ry="2.97"/></g>
<g stroke="none" fill="#fff" fill-opacity="0.099"><ellipse cx="706.63" cy="391.61" rx="11.96" ry="2.44"/></g>
<g stroke="none" fill="#fff" fill-opacity="0.137"><ellipse cx="706.63" cy="391.61" rx="11.38" ry="2.06"/></g>
<g stroke="none" fill="#fff" fill-opacity="0.19"><ellipse cx="706.63" cy="391.61" rx="10.99" ry="1.8"/></g>
<g stroke="none" fill="#fff" fill-opacity="0.275"><ellipse cx="706.63" cy="391.61" rx="10.7" ry="1.61"/></g>
<g stroke="none" fill="#fff" fill-opacity="0.459"><ellipse cx="706.63" cy="391.61" rx="10.45" ry="1.44"/></g>
<g stroke="none" fill="#fff" fill-opacity="1"><ellipse cx="706.63" cy="391.61" rx="10.22" ry="1.29"/></g>
<g stroke="none" fill="#fff" fill-opacity="0.04"><ellipse cx="734.13" cy="391.33" rx="14.7" ry="4.38"/></g>
<g stroke="none" fill="#fff" fill-opacity="0.042"><ellipse cx="734.13" cy="391.33" rx="13.49" ry="3.57"/></g>
<g stroke="none" fill="#fff" fill-opacity="0.054"><ellipse cx="734.13" cy="391.33" rx="12.46" ry="2.89"/></g>
<g stroke="none" fill="#fff" fill-opacity="0.069"><ellipse cx="734.13" cy="391.33" rx="11.63" ry="2.33"/></g>
<g stroke="none" fill="#fff" fill-opacity="0.099"><ellipse cx="734.13" cy="391.33" rx="11.04" ry="1.94"/></g>
<g stroke="none" fill="#fff" fill-opacity="0.137"><ellipse cx="734.13" cy="391.33" rx="10.65" ry="1.68"/></g>
<g stroke="none" fill="#fff" fill-opacity="0.19"><ellipse cx="734.13" cy="391.33" rx="10.35" ry="1.48"/></g>
<g stroke="none" fill="#fff" fill-opacity="0.275"><ellipse cx="734.13" cy="391.33" rx="10.09" ry="1.31"/></g>
<g stroke="none" fill="#fff" fill-opacity="0.459"><ellipse cx="734.13" cy="391.33" rx="9.84" ry="1.14"/></g>
<g stroke="none" fill="#fff" fill-opacity="1"><ellipse cx="734.13" cy="391.33" rx="9.6" ry="0.98"/></g>
<g stroke="none" fill="#fff" fill-opacity="0.04"><ellipse cx="762.25" cy="391.05" rx="12.59" ry="3.19"/></g>
<g stroke="none" fill="#fff" fill-opacity="0.042"><ellipse cx="762.25" cy="391.05" rx="11.09" ry="2.19"/></g>
<g stroke="none" fill="#fff" fill-opacity="0.054"><ellipse cx="762.25" cy="391.05" rx="10.41" ry="1.73"/></g>
<g stroke="none" fill="#fff" fill-opacity="0.069"><ellipse cx="762.25" cy="391.05" rx="10" ry="1.46"/></g>
<g stroke="none" fill="#fff" fill-opacity="0.099"><ellipse cx="762.25" cy="391.05" rx="9.64" ry="1.22"/></g>
<g stroke="none" fill="#fff" fill-opacity="0.137"><ellipse cx="762.25" cy="391.05" rx="9.3" ry="0.99"/></g>
<g stroke="none" fill="#fff" fill-opacity="0.19"><ellipse cx="762.25" cy="391.05" rx="8.95" ry="0.76"/></g>
<g stroke="none" fill="#fff" fill-opacity="0.275"><ellipse cx="762.25" cy="391.05" rx="8.53" ry="0.48"/></g>
<g stroke="none" fill="#fff" fill-opacity="0.324"><ellipse cx="762.25" cy="391.05" rx="8.48" ry="0.45"/></g>
<g stroke="none" fill="#fff" fill-opacity="0.04"><ellipse cx="792.8" cy="390.73" rx="10.45" ry="2.58"/></g>
<g stroke="none" fill="#fff" fill-opacity="0.042"><ellipse cx="792.8" cy="390.73" rx="9.28" ry="1.8"/></g>
<g stroke="none" fill="#fff" fill-opacity="0.054"><ellipse cx="792.8" cy="390.73" rx="8.75" ry="1.44"/></g>
<g stroke="none" fill="#fff" fill-opacity="0.069"><ellipse cx="792.8" cy="390.73" rx="8.36" ry="1.18"/></g>
<g stroke="none" fill="#fff" fill-opacity="0.099"><ellipse cx="792.8" cy="390.73" rx="7.97" ry="0.92"/></g>
<g stroke="none" fill="#fff" fill-opacity="0.137"><ellipse cx="792.8" cy="390.73" rx="7.54" ry="0.64"/></g>
<g stroke="none" fill="#fff" fill-opacity="0.19"><ellipse cx="792.8" cy="390.73" rx="6.83" ry="0.45"/></g>
<g stroke="none" fill="#fff" fill-opacity="0.04"><ellipse cx="823.97" cy="390.41" rx="6.84" ry="2.21"/></g>
<g stroke="none" fill="#fff" fill-opacity="0.042"><ellipse cx="823.97" cy="390.41" rx="5.91" ry="1.59"/></g>
<g stroke="none" fill="#fff" fill-opacity="0.054"><ellipse cx="823.97" cy="390.41" rx="5.41" ry="1.25"/></g>
<g stroke="none" fill="#fff" fill-opacity="0.069"><ellipse cx="823.97" cy="390.41" rx="5" ry="0.98"/></g>
<g stroke="none" fill="#fff" fill-opacity="0.099"><ellipse cx="823.97" cy="390.41" rx="4.54" ry="0.68"/></g>
<g stroke="none" fill="#fff" fill-opacity="0.137"><ellipse cx="823.97" cy="390.41" rx="3.81" ry="0.45"/></g>
<g stroke="none" fill="#fff" fill-opacity="0.04"><ellipse cx="144.2" cy="470.49" rx="12.92" ry="4.38"/><ellipse cx="182.1" cy="470.23" rx="13.42" ry="4.38"/><ellipse cx="223.7" cy="469.94" rx="16.92" ry="4.38"/><ellipse cx="265.2" cy="469.63" rx="16.42" ry="4.38"/><ellipse cx="305.6" cy="469.33" rx="14.92" ry="4.38"/><ellipse cx="348.4" cy="468.99" rx="17.42" ry="4.38"/><ellipse cx="392" cy="468.64" rx="17.42" ry="4.38"/><ellipse cx="440" cy="468.24" rx="16.92" ry="4.38"/><ellipse cx="484" cy="467.86" rx="16.92" ry="4.38"/><ellipse cx="530" cy="467.45" rx="17.42" ry="4.38"/><ellipse cx="576.9" cy="467.02" rx="17.92" ry="4.38"/><ellipse cx="620.9" cy="466.6" rx="18.92" ry="4.38"/><ellipse cx="668.1" cy="466.14" rx="19.42" ry="4.38"/><ellipse cx="715.1" cy="465.67" rx="19.92" ry="4.38"/><ellipse cx="762.7" cy="465.18" rx="19.92" ry="4.38"/><ellipse cx="810.4" cy="464.67" rx="19.92" ry="4.38"/><ellipse cx="861.3" cy="464.12" rx="18.42" ry="4.38"/><ellipse cx="908.9" cy="463.59" rx="20.42" ry="4.38"/></g>
<g stroke="none" fill="#fff" fill-opacity="0.042"><ellipse cx="144.2" cy="470.49" rx="11.71" ry="3.57"/><ellipse cx="182.1" cy="470.23" rx="12.21" ry="3.57"/><ellipse cx="223.7" cy="469.94" rx="15.71" ry="3.57"/><ellipse cx="265.2" cy="469.63" rx="15.21" ry="3.57"/><ellipse cx="305.6" cy="469.33" rx="13.71" ry="3.57"/><ellipse cx="348.4" cy="468.99" rx="16.21" ry="3.57"/><ellipse cx="392" cy="468.64" rx="16.21" ry="3.57"/><ellipse cx="440" cy="468.24" rx="15.71" ry="3.57"/><ellipse cx="484" cy="467.86" rx="15.71" ry="3.57"/><ellipse cx="530" cy="467.45" rx="16.21" ry="3.57"/><ellipse cx="576.9" cy="467.02" rx="16.71" ry="3.57"/><ellipse cx="620.9" cy="466.6" rx="17.71" ry="3.57"/><ellipse cx="668.1" cy="466.14" rx="18.21" ry="3.57"/><ellipse cx="715.1" cy="465.67" rx="18.71" ry="3.57"/><ellipse cx="762.7" cy="465.18" rx="18.71" ry="3.57"/><ellipse cx="810.4" cy="464.67" rx="18.71" ry="3.57"/><ellipse cx="861.3" cy="464.12" rx="17.21" ry="3.57"/><ellipse cx="908.9" cy="463.59" rx="19.21" ry="3.57"/></g>
<g stroke="none" fill="#fff" fill-opacity="0.054"><ellipse cx="144.2" cy="470.49" rx="10.68" ry="2.89"/><ellipse cx="182.1" cy="470.23" rx="11.18" ry="2.89"/><ellipse cx="223.7" cy="469.94" rx="14.68" ry="2.89"/><ellipse cx="265.2" cy="469.63" rx="14.18" ry="2.89"/><ellipse cx="305.6" cy="469.33" rx="12.68" ry="2.89"/><ellipse cx="348.4" cy="468.99" rx="15.18" ry="2.89"/><ellipse cx="392" cy="468.64" rx="15.18" ry="2.89"/><ellipse cx="440" cy="468.24" rx="14.68" ry="2.89"/><ellipse cx="484" cy="467.86" rx="14.68" ry="2.89"/><ellipse cx="530" cy="467.45" rx="15.18" ry="2.89"/><ellipse cx="576.9" cy="467.02" rx="15.68" ry="2.89"/><ellipse cx="620.9" cy="466.6" rx="16.68" ry="2.89"/><ellipse cx="668.1" cy="466.14" rx="17.18" ry="2.89"/><ellipse cx="715.1" cy="465.67" rx="17.68" ry="2.89"/><ellipse cx="762.7" cy="465.18" rx="17.68" ry="2.89"/><ellipse cx="810.4" cy="464.67" rx="17.68" ry="2.89"/><ellipse cx="861.3" cy="464.12" rx="16.18" ry="2.89"/><ellipse cx="908.9" cy="463.59" rx="18.18" ry="2.89"/></g>
<g stroke="none" fill="#fff" fill-opacity="0.069"><ellipse cx="144.2" cy="470.49" rx="9.85" ry="2.33"/><ellipse cx="182.1" cy="470.23" rx="10.35" ry="2.33"/><ellipse cx="223.7" cy="469.94" rx="13.85" ry="2.33"/><ellipse cx="265.2" cy="469.63" rx="13.35" ry="2.33"/><ellipse cx="305.6" cy="469.33" rx="11.85" ry="2.33"/><ellipse cx="348.4" cy="468.99" rx="14.35" ry="2.33"/><ellipse cx="392" cy="468.64" rx="14.35" ry="2.33"/><ellipse cx="440" cy="468.24" rx="13.85" ry="2.33"/><ellipse cx="484" cy="467.86" rx="13.85" ry="2.33"/><ellipse cx="530" cy="467.45" rx="14.35" ry="2.33"/><ellipse cx="576.9" cy="467.02" rx="14.85" ry="2.33"/><ellipse cx="620.9" cy="466.6" rx="15.85" ry="2.33"/><ellipse cx="668.1" cy="466.14" rx="16.35" ry="2.33"/><ellipse cx="715.1" cy="465.67" rx="16.85" ry="2.33"/><ellipse cx="762.7" cy="465.18" rx="16.85" ry="2.33"/><ellipse cx="810.4" cy="464.67" rx="16.85" ry="2.33"/><ellipse cx="861.3" cy="464.12" rx="15.35" ry="2.33"/><ellipse cx="908.9" cy="463.59" rx="17.35" ry="2.33"/></g>
<g stroke="none" fill="#fff" fill-opacity="0.099"><ellipse cx="144.2" cy="470.49" rx="9.26" ry="1.94"/><ellipse cx="182.1" cy="470.23" rx="9.76" ry="1.94"/><ellipse cx="223.7" cy="469.94" rx="13.26" ry="1.94"/><ellipse cx="265.2" cy="469.63" rx="12.76" ry="1.94"/><ellipse cx="305.6" cy="469.33" rx="11.26" ry="1.94"/><ellipse cx="348.4" cy="468.99" rx="13.76" ry="1.94"/><ellipse cx="392" cy="468.64" rx="13.76" ry="1.94"/><ellipse cx="440" cy="468.24" rx="13.26" ry="1.94"/><ellipse cx="484" cy="467.86" rx="13.26" ry="1.94"/><ellipse cx="530" cy="467.45" rx="13.76" ry="1.94"/><ellipse cx="576.9" cy="467.02" rx="14.26" ry="1.94"/><ellipse cx="620.9" cy="466.6" rx="15.26" ry="1.94"/><ellipse cx="668.1" cy="466.14" rx="15.76" ry="1.94"/><ellipse cx="715.1" cy="465.67" rx="16.26" ry="1.94"/><ellipse cx="762.7" cy="465.18" rx="16.26" ry="1.94"/><ellipse cx="810.4" cy="464.67" rx="16.26" ry="1.94"/><ellipse cx="861.3" cy="464.12" rx="14.76" ry="1.94"/><ellipse cx="908.9" cy="463.59" rx="16.76" ry="1.94"/></g>
<g stroke="none" fill="#fff" fill-opacity="0.137"><ellipse cx="144.2" cy="470.49" rx="8.87" ry="1.68"/><ellipse cx="182.1" cy="470.23" rx="9.37" ry="1.68"/><ellipse cx="223.7" cy="469.94" rx="12.87" ry="1.68"/><ellipse cx="265.2" cy="469.63" rx="12.37" ry="1.68"/><ellipse cx="305.6" cy="469.33" rx="10.87" ry="1.68"/><ellipse cx="348.4" cy="468.99" rx="13.37" ry="1.68"/><ellipse cx="392" cy="468.64" rx="13.37" ry="1.68"/><ellipse cx="440" cy="468.24" rx="12.87" ry="1.68"/><ellipse cx="484" cy="467.86" rx="12.87" ry="1.68"/><ellipse cx="530" cy="467.45" rx="13.37" ry="1.68"/><ellipse cx="576.9" cy="467.02" rx="13.87" ry="1.68"/><ellipse cx="620.9" cy="466.6" rx="14.87" ry="1.68"/><ellipse cx="668.1" cy="466.14" rx="15.37" ry="1.68"/><ellipse cx="715.1" cy="465.67" rx="15.87" ry="1.68"/><ellipse cx="762.7" cy="465.18" rx="15.87" ry="1.68"/><ellipse cx="810.4" cy="464.67" rx="15.87" ry="1.68"/><ellipse cx="861.3" cy="464.12" rx="14.37" ry="1.68"/><ellipse cx="908.9" cy="463.59" rx="16.37" ry="1.68"/></g>
<g stroke="none" fill="#fff" fill-opacity="0.19"><ellipse cx="144.2" cy="470.49" rx="8.57" ry="1.48"/><ellipse cx="182.1" cy="470.23" rx="9.07" ry="1.48"/><ellipse cx="223.7" cy="469.94" rx="12.57" ry="1.48"/><ellipse cx="265.2" cy="469.63" rx="12.07" ry="1.48"/><ellipse cx="305.6" cy="469.33" rx="10.57" ry="1.48"/><ellipse cx="348.4" cy="468.99" rx="13.07" ry="1.48"/><ellipse cx="392" cy="468.64" rx="13.07" ry="1.48"/><ellipse cx="440" cy="468.24" rx="12.57" ry="1.48"/><ellipse cx="484" cy="467.86" rx="12.57" ry="1.48"/><ellipse cx="530" cy="467.45" rx="13.07" ry="1.48"/><ellipse cx="576.9" cy="467.02" rx="13.57" ry="1.48"/><ellipse cx="620.9" cy="466.6" rx="14.57" ry="1.48"/><ellipse cx="668.1" cy="466.14" rx="15.07" ry="1.48"/><ellipse cx="715.1" cy="465.67" rx="15.57" ry="1.48"/><ellipse cx="762.7" cy="465.18" rx="15.57" ry="1.48"/><ellipse cx="810.4" cy="464.67" rx="15.57" ry="1.48"/><ellipse cx="861.3" cy="464.12" rx="14.07" ry="1.48"/><ellipse cx="908.9" cy="463.59" rx="16.07" ry="1.48"/></g>
<g stroke="none" fill="#fff" fill-opacity="0.275"><ellipse cx="144.2" cy="470.49" rx="8.31" ry="1.31"/><ellipse cx="182.1" cy="470.23" rx="8.81" ry="1.31"/><ellipse cx="223.7" cy="469.94" rx="12.31" ry="1.31"/><ellipse cx="265.2" cy="469.63" rx="11.81" ry="1.31"/><ellipse cx="305.6" cy="469.33" rx="10.31" ry="1.31"/><ellipse cx="348.4" cy="468.99" rx="12.81" ry="1.31"/><ellipse cx="392" cy="468.64" rx="12.81" ry="1.31"/><ellipse cx="440" cy="468.24" rx="12.31" ry="1.31"/><ellipse cx="484" cy="467.86" rx="12.31" ry="1.31"/><ellipse cx="530" cy="467.45" rx="12.81" ry="1.31"/><ellipse cx="576.9" cy="467.02" rx="13.31" ry="1.31"/><ellipse cx="620.9" cy="466.6" rx="14.31" ry="1.31"/><ellipse cx="668.1" cy="466.14" rx="14.81" ry="1.31"/><ellipse cx="715.1" cy="465.67" rx="15.31" ry="1.31"/><ellipse cx="762.7" cy="465.18" rx="15.31" ry="1.31"/><ellipse cx="810.4" cy="464.67" rx="15.31" ry="1.31"/><ellipse cx="861.3" cy="464.12" rx="13.81" ry="1.31"/><ellipse cx="908.9" cy="463.59" rx="15.81" ry="1.31"/></g>
<g stroke="none" fill="#fff" fill-opacity="0.459"><ellipse cx="144.2" cy="470.49" rx="8.06" ry="1.14"/><ellipse cx="182.1" cy="470.23" rx="8.56" ry="1.14"/><ellipse cx="223.7" cy="469.94" rx="12.06" ry="1.14"/><ellipse cx="265.2" cy="469.63" rx="11.56" ry="1.14"/><ellipse cx="305.6" cy="469.33" rx="10.06" ry="1.14"/><ellipse cx="348.4" cy="468.99" rx="12.56" ry="1.14"/><ellipse cx="392" cy="468.64" rx="12.56" ry="1.14"/><ellipse cx="440" cy="468.24" rx="12.06" ry="1.14"/><ellipse cx="484" cy="467.86" rx="12.06" ry="1.14"/><ellipse cx="530" cy="467.45" rx="12.56" ry="1.14"/><ellipse cx="576.9" cy="467.02" rx="13.06" ry="1.14"/><ellipse cx="620.9" cy="466.6" rx="14.06" ry="1.14"/><ellipse cx="668.1" cy="466.14" rx="14.56" ry="1.14"/><ellipse cx="715.1" cy="465.67" rx="15.06" ry="1.14"/><ellipse cx="762.7" cy="465.18" rx="15.06" ry="1.14"/><ellipse cx="810.4" cy="464.67" rx="15.06" ry="1.14"/><ellipse cx="861.3" cy="464.12" rx="13.56" ry="1.14"/><ellipse cx="908.9" cy="463.59" rx="15.56" ry="1.14"/></g>
<g stroke="none" fill="#fff" fill-opacity="1"><ellipse cx="144.2" cy="470.49" rx="7.82" ry="0.98"/><ellipse cx="182.1" cy="470.23" rx="8.32" ry="0.98"/><ellipse cx="223.7" cy="469.94" rx="11.82" ry="0.98"/><ellipse cx="265.2" cy="469.63" rx="11.32" ry="0.98"/><ellipse cx="305.6" cy="469.33" rx="9.82" ry="0.98"/><ellipse cx="348.4" cy="468.99" rx="12.32" ry="0.98"/><ellipse cx="392" cy="468.64" rx="12.32" ry="0.98"/><ellipse cx="440" cy="468.24" rx="11.82" ry="0.98"/><ellipse cx="484" cy="467.86" rx="11.82" ry="0.98"/><ellipse cx="530" cy="467.45" rx="12.32" ry="0.98"/><ellipse cx="576.9" cy="467.02" rx="12.82" ry="0.98"/><ellipse cx="620.9" cy="466.6" rx="13.82" ry="0.98"/><ellipse cx="668.1" cy="466.14" rx="14.32" ry="0.98"/><ellipse cx="715.1" cy="465.67" rx="14.82" ry="0.98"/><ellipse cx="762.7" cy="465.18" rx="14.82" ry="0.98"/><ellipse cx="810.4" cy="464.67" rx="14.82" ry="0.98"/><ellipse cx="861.3" cy="464.12" rx="13.32" ry="0.98"/><ellipse cx="908.9" cy="463.59" rx="15.32" ry="0.98"/></g>
<g stroke="none" fill="#fff" fill-opacity="0.04"><ellipse cx="141.8" cy="507.53" rx="18.52" ry="4.6"/><ellipse cx="185.8" cy="507.18" rx="17.02" ry="4.6"/><ellipse cx="226.1" cy="506.85" rx="18.52" ry="4.6"/><ellipse cx="267.7" cy="506.5" rx="18.52" ry="4.6"/><ellipse cx="308.5" cy="506.15" rx="17.02" ry="4.6"/><ellipse cx="355" cy="505.74" rx="19.02" ry="4.6"/><ellipse cx="398.5" cy="505.34" rx="19.52" ry="4.6"/><ellipse cx="442.5" cy="504.94" rx="19.52" ry="4.6"/><ellipse cx="485.3" cy="504.53" rx="18.52" ry="4.6"/><ellipse cx="529" cy="504.11" rx="20.02" ry="4.6"/><ellipse cx="578.9" cy="503.62" rx="21.02" ry="4.6"/><ellipse cx="623.4" cy="503.17" rx="21.52" ry="4.6"/><ellipse cx="669.8" cy="502.69" rx="21.52" ry="4.6"/><ellipse cx="717" cy="502.19" rx="22.02" ry="4.6"/><ellipse cx="764.7" cy="501.67" rx="22.02" ry="4.6"/><ellipse cx="812.4" cy="501.14" rx="23.02" ry="4.6"/><ellipse cx="861.3" cy="500.59" rx="23.02" ry="4.6"/><ellipse cx="910.6" cy="500.02" rx="22.52" ry="4.6"/></g>
<g stroke="none" fill="#fff" fill-opacity="0.042"><ellipse cx="141.8" cy="507.53" rx="17.38" ry="3.84"/><ellipse cx="185.8" cy="507.18" rx="15.88" ry="3.84"/><ellipse cx="226.1" cy="506.85" rx="17.38" ry="3.84"/><ellipse cx="267.7" cy="506.5" rx="17.38" ry="3.84"/><ellipse cx="308.5" cy="506.15" rx="15.88" ry="3.84"/><ellipse cx="355" cy="505.74" rx="17.88" ry="3.84"/><ellipse cx="398.5" cy="505.34" rx="18.38" ry="3.84"/><ellipse cx="442.5" cy="504.94" rx="18.38" ry="3.84"/><ellipse cx="485.3" cy="504.53" rx="17.38" ry="3.84"/><ellipse cx="529" cy="504.11" rx="18.88" ry="3.84"/><ellipse cx="578.9" cy="503.62" rx="19.88" ry="3.84"/><ellipse cx="623.4" cy="503.17" rx="20.38" ry="3.84"/><ellipse cx="669.8" cy="502.69" rx="20.38" ry="3.84"/><ellipse cx="717" cy="502.19" rx="20.88" ry="3.84"/><ellipse cx="764.7" cy="501.67" rx="20.88" ry="3.84"/><ellipse cx="812.4" cy="501.14" rx="21.88" ry="3.84"/><ellipse cx="861.3" cy="500.59" rx="21.88" ry="3.84"/><ellipse cx="910.6" cy="500.02" rx="21.38" ry="3.84"/></g>
<g stroke="none" fill="#fff" fill-opacity="0.054"><ellipse cx="141.8" cy="507.53" rx="16.43" ry="3.2"/><ellipse cx="185.8" cy="507.18" rx="14.93" ry="3.2"/><ellipse cx="226.1" cy="506.85" rx="16.43" ry="3.2"/><ellipse cx="267.7" cy="506.5" rx="16.43" ry="3.2"/><ellipse cx="308.5" cy="506.15" rx="14.93" ry="3.2"/><ellipse cx="355" cy="505.74" rx="16.93" ry="3.2"/><ellipse cx="398.5" cy="505.34" rx="17.43" ry="3.2"/><ellipse cx="442.5" cy="504.94" rx="17.43" ry="3.2"/><ellipse cx="485.3" cy="504.53" rx="16.43" ry="3.2"/><ellipse cx="529" cy="504.11" rx="17.93" ry="3.2"/><ellipse cx="578.9" cy="503.62" rx="18.93" ry="3.2"/><ellipse cx="623.4" cy="503.17" rx="19.43" ry="3.2"/><ellipse cx="669.8" cy="502.69" rx="19.43" ry="3.2"/><ellipse cx="717" cy="502.19" rx="19.93" ry="3.2"/><ellipse cx="764.7" cy="501.67" rx="19.93" ry="3.2"/><ellipse cx="812.4" cy="501.14" rx="20.93" ry="3.2"/><ellipse cx="861.3" cy="500.59" rx="20.93" ry="3.2"/><ellipse cx="910.6" cy="500.02" rx="20.43" ry="3.2"/></g>
<g stroke="none" fill="#fff" fill-opacity="0.069"><ellipse cx="141.8" cy="507.53" rx="15.58" ry="2.64"/><ellipse cx="185.8" cy="507.18" rx="14.08" ry="2.64"/><ellipse cx="226.1" cy="506.85" rx="15.58" ry="2.64"/><ellipse cx="267.7" cy="506.5" rx="15.58" ry="2.64"/><ellipse cx="308.5" cy="506.15" rx="14.08" ry="2.64"/><ellipse cx="355" cy="505.74" rx="16.08" ry="2.64"/><ellipse cx="398.5" cy="505.34" rx="16.58" ry="2.64"/><ellipse cx="442.5" cy="504.94" rx="16.58" ry="2.64"/><ellipse cx="485.3" cy="504.53" rx="15.58" ry="2.64"/><ellipse cx="529" cy="504.11" rx="17.08" ry="2.64"/><ellipse cx="578.9" cy="503.62" rx="18.08" ry="2.64"/><ellipse cx="623.4" cy="503.17" rx="18.58" ry="2.64"/><ellipse cx="669.8" cy="502.69" rx="18.58" ry="2.64"/><ellipse cx="717" cy="502.19" rx="19.08" ry="2.64"/><ellipse cx="764.7" cy="501.67" rx="19.08" ry="2.64"/><ellipse cx="812.4" cy="501.14" rx="20.08" ry="2.64"/><ellipse cx="861.3" cy="500.59" rx="20.08" ry="2.64"/><ellipse cx="910.6" cy="500.02" rx="19.58" ry="2.64"/></g>
<g stroke="none" fill="#fff" fill-opacity="0.099"><ellipse cx="141.8" cy="507.53" rx="14.87" ry="2.16"/><ellipse cx="185.8" cy="507.18" rx="13.37" ry="2.16"/><ellipse cx="226.1" cy="506.85" rx="14.87" ry="2.16"/><ellipse cx="267.7" cy="506.5" rx="14.87" ry="2.16"/><ellipse cx="308.5" cy="506.15" rx="13.37" ry="2.16"/><ellipse cx="355" cy="505.74" rx="15.37" ry="2.16"/><ellipse cx="398.5" cy="505.34" rx="15.87" ry="2.16"/><ellipse cx="442.5" cy="504.94" rx="15.87" ry="2.16"/><ellipse cx="485.3" cy="504.53" rx="14.87" ry="2.16"/><ellipse cx="529" cy="504.11" rx="16.37" ry="2.16"/><ellipse cx="578.9" cy="503.62" rx="17.37" ry="2.16"/><ellipse cx="623.4" cy="503.17" rx="17.87" ry="2.16"/><ellipse cx="669.8" cy="502.69" rx="17.87" ry="2.16"/><ellipse cx="717" cy="502.19" rx="18.37" ry="2.16"/><ellipse cx="764.7" cy="501.67" rx="18.37" ry="2.16"/><ellipse cx="812.4" cy="501.14" rx="19.37" ry="2.16"/><ellipse cx="861.3" cy="500.59" rx="19.37" ry="2.16"/><ellipse cx="910.6" cy="500.02" rx="18.87" ry="2.16"/></g>
<g stroke="none" fill="#fff" fill-opacity="0.137"><ellipse cx="141.8" cy="507.53" rx="14.4" ry="1.85"/><ellipse cx="185.8" cy="507.18" rx="12.9" ry="1.85"/><ellipse cx="226.1" cy="506.85" rx="14.4" ry="1.85"/><ellipse cx="267.7" cy="506.5" rx="14.4" ry="1.85"/><ellipse cx="308.5" cy="506.15" rx="12.9" ry="1.85"/><ellipse cx="355" cy="505.74" rx="14.9" ry="1.85"/><ellipse cx="398.5" cy="505.34" rx="15.4" ry="1.85"/><ellipse cx="442.5" cy="504.94" rx="15.4" ry="1.85"/><ellipse cx="485.3" cy="504.53" rx="14.4" ry="1.85"/><ellipse cx="529" cy="504.11" rx="15.9" ry="1.85"/><ellipse cx="578.9" cy="503.62" rx="16.9" ry="1.85"/><ellipse cx="623.4" cy="503.17" rx="17.4" ry="1.85"/><ellipse cx="669.8" cy="502.69" rx="17.4" ry="1.85"/><ellipse cx="717" cy="502.19" rx="17.9" ry="1.85"/><ellipse cx="764.7" cy="501.67" rx="17.9" ry="1.85"/><ellipse cx="812.4" cy="501.14" rx="18.9" ry="1.85"/><ellipse cx="861.3" cy="500.59" rx="18.9" ry="1.85"/><ellipse cx="910.6" cy="500.02" rx="18.4" ry="1.85"/></g>
<g stroke="none" fill="#fff" fill-opacity="0.19"><ellipse cx="141.8" cy="507.53" rx="14.07" ry="1.63"/><ellipse cx="185.8" cy="507.18" rx="12.57" ry="1.63"/><ellipse cx="226.1" cy="506.85" rx="14.07" ry="1.63"/><ellipse cx="267.7" cy="506.5" rx="14.07" ry="1.63"/><ellipse cx="308.5" cy="506.15" rx="12.57" ry="1.63"/><ellipse cx="355" cy="505.74" rx="14.57" ry="1.63"/><ellipse cx="398.5" cy="505.34" rx="15.07" ry="1.63"/><ellipse cx="442.5" cy="504.94" rx="15.07" ry="1.63"/><ellipse cx="485.3" cy="504.53" rx="14.07" ry="1.63"/><ellipse cx="529" cy="504.11" rx="15.57" ry="1.63"/><ellipse cx="578.9" cy="503.62" rx="16.57" ry="1.63"/><ellipse cx="623.4" cy="503.17" rx="17.07" ry="1.63"/><ellipse cx="669.8" cy="502.69" rx="17.07" ry="1.63"/><ellipse cx="717" cy="502.19" rx="17.57" ry="1.63"/><ellipse cx="764.7" cy="501.67" rx="17.57" ry="1.63"/><ellipse cx="812.4" cy="501.14" rx="18.57" ry="1.63"/><ellipse cx="861.3" cy="500.59" rx="18.57" ry="1.63"/><ellipse cx="910.6" cy="500.02" rx="18.07" ry="1.63"/></g>
<g stroke="none" fill="#fff" fill-opacity="0.275"><ellipse cx="141.8" cy="507.53" rx="13.81" ry="1.45"/><ellipse cx="185.8" cy="507.18" rx="12.31" ry="1.45"/><ellipse cx="226.1" cy="506.85" rx="13.81" ry="1.45"/><ellipse cx="267.7" cy="506.5" rx="13.81" ry="1.45"/><ellipse cx="308.5" cy="506.15" rx="12.31" ry="1.45"/><ellipse cx="355" cy="505.74" rx="14.31" ry="1.45"/><ellipse cx="398.5" cy="505.34" rx="14.81" ry="1.45"/><ellipse cx="442.5" cy="504.94" rx="14.81" ry="1.45"/><ellipse cx="485.3" cy="504.53" rx="13.81" ry="1.45"/><ellipse cx="529" cy="504.11" rx="15.31" ry="1.45"/><ellipse cx="578.9" cy="503.62" rx="16.31" ry="1.45"/><ellipse cx="623.4" cy="503.17" rx="16.81" ry="1.45"/><ellipse cx="669.8" cy="502.69" rx="16.81" ry="1.45"/><ellipse cx="717" cy="502.19" rx="17.31" ry="1.45"/><ellipse cx="764.7" cy="501.67" rx="17.31" ry="1.45"/><ellipse cx="812.4" cy="501.14" rx="18.31" ry="1.45"/><ellipse cx="861.3" cy="500.59" rx="18.31" ry="1.45"/><ellipse cx="910.6" cy="500.02" rx="17.81" ry="1.45"/></g>
<g stroke="none" fill="#fff" fill-opacity="0.459"><ellipse cx="141.8" cy="507.53" rx="13.56" ry="1.29"/><ellipse cx="185.8" cy="507.18" rx="12.06" ry="1.29"/><ellipse cx="226.1" cy="506.85" rx="13.56" ry="1.29"/><ellipse cx="267.7" cy="506.5" rx="13.56" ry="1.29"/><ellipse cx="308.5" cy="506.15" rx="12.06" ry="1.29"/><ellipse cx="355" cy="505.74" rx="14.06" ry="1.29"/><ellipse cx="398.5" cy="505.34" rx="14.56" ry="1.29"/><ellipse cx="442.5" cy="504.94" rx="14.56" ry="1.29"/><ellipse cx="485.3" cy="504.53" rx="13.56" ry="1.29"/><ellipse cx="529" cy="504.11" rx="15.06" ry="1.29"/><ellipse cx="578.9" cy="503.62" rx="16.06" ry="1.29"/><ellipse cx="623.4" cy="503.17" rx="16.56" ry="1.29"/><ellipse cx="669.8" cy="502.69" rx="16.56" ry="1.29"/><ellipse cx="717" cy="502.19" rx="17.06" ry="1.29"/><ellipse cx="764.7" cy="501.67" rx="17.06" ry="1.29"/><ellipse cx="812.4" cy="501.14" rx="18.06" ry="1.29"/><ellipse cx="861.3" cy="500.59" rx="18.06" ry="1.29"/><ellipse cx="910.6" cy="500.02" rx="17.56" ry="1.29"/></g>
<g stroke="none" fill="#fff" fill-opacity="1"><ellipse cx="141.8" cy="507.53" rx="13.33" ry="1.14"/><ellipse cx="185.8" cy="507.18" rx="11.83" ry="1.14"/><ellipse cx="226.1" cy="506.85" rx="13.33" ry="1.14"/><ellipse cx="267.7" cy="506.5" rx="13.33" ry="1.14"/><ellipse cx="308.5" cy="506.15" rx="11.83" ry="1.14"/><ellipse cx="355" cy="505.74" rx="13.83" ry="1.14"/><ellipse cx="398.5" cy="505.34" rx="14.33" ry="1.14"/><ellipse cx="442.5" cy="504.94" rx="14.33" ry="1.14"/><ellipse cx="485.3" cy="504.53" rx="13.33" ry="1.14"/><ellipse cx="529" cy="504.11" rx="14.83" ry="1.14"/><ellipse cx="578.9" cy="503.62" rx="15.83" ry="1.14"/><ellipse cx="623.4" cy="503.17" rx="16.33" ry="1.14"/><ellipse cx="669.8" cy="502.69" rx="16.33" ry="1.14"/><ellipse cx="717" cy="502.19" rx="16.83" ry="1.14"/><ellipse cx="764.7" cy="501.67" rx="16.83" ry="1.14"/><ellipse cx="812.4" cy="501.14" rx="17.83" ry="1.14"/><ellipse cx="861.3" cy="500.59" rx="17.83" ry="1.14"/><ellipse cx="910.6" cy="500.02" rx="17.33" ry="1.14"/></g>
<defs><path id="t0_31" d="M119 600.86Q293.5 599.54 468 598.15M497.5 597.91Q587.1 597.19 676.7 596.45M686.5 596.37Q786.1 595.55 885.7 594.7M900.5 594.57Q912.05 594.48 923.6 594.38"/></defs>
<use href="#t0_31" stroke-width="9.63" stroke-opacity="0.04"/>
<use href="#t0_31" stroke-width="8.19" stroke-opacity="0.042"/>
<use href="#t0_31" stroke-width="7.01" stroke-opacity="0.054"/>
<use href="#t0_31" stroke-width="5.94" stroke-opacity="0.069"/>
<use href="#t0_31" stroke-width="4.89" stroke-opacity="0.099"/>
<use href="#t0_31" stroke-width="4.12" stroke-opacity="0.137"/>
<use href="#t0_31" stroke-width="3.6" stroke-opacity="0.19"/>
<use href="#t0_31" stroke-width="3.22" stroke-opacity="0.275"/>
<use href="#t0_31" stroke-width="2.88" stroke-opacity="0.459"/>
<use href="#t0_31" stroke-width="2.58" stroke-opacity="1"/>
<defs><path id="t0_32" d="M119 637.31Q298 636 477 634.54M500 634.35Q590 633.61 680 632.83M688 632.76Q789.3 631.87 890.6 630.94M900.5 630.85Q914.5 630.72 928.5 630.59"/></defs>
<use href="#t0_32" stroke-width="10.41" stroke-opacity="0.04"/>
<use href="#t0_32" stroke-width="9.09" stroke-opacity="0.042"/>
<use href="#t0_32" stroke-width="8.05" stroke-opacity="0.054"/>
<use href="#t0_32" stroke-width="7.12" stroke-opacity="0.069"/>
<use href="#t0_32" stroke-width="6.15" stroke-opacity="0.099"/>
<use href="#t0_32" stroke-width="5.2" stroke-opacity="0.137"/>
<use href="#t0_32" stroke-width="4.43" stroke-opacity="0.19"/>
<use href="#t0_32" stroke-width="3.9" stroke-opacity="0.275"/>
<use href="#t0_32" stroke-width="3.49" stroke-opacity="0.459"/>
<use href="#t0_32" stroke-width="3.16" stroke-opacity="1"/>
<defs><path id="t0_33" d="M471 598.12Q480 598.05 489 597.98"/></defs>
<use href="#t0_33" stroke-width="4.85" stroke-opacity="0.04"/>
<use href="#t0_33" stroke-width="3.43" stroke-opacity="0.042"/>
<use href="#t0_33" stroke-width="2.74" stroke-opacity="0.054"/>
<use href="#t0_33" stroke-width="2.22" stroke-opacity="0.069"/>
<use href="#t0_33" stroke-width="1.67" stroke-opacity="0.099"/>
<use href="#t0_33" stroke-width="1.02" stroke-opacity="0.137"/>
<use href="#t0_33" stroke-width="0.9" stroke-opacity="0.127"/>
<defs><path id="t0_34" d="M478 634.53Q485 634.47 492 634.41"/></defs>
<use href="#t0_34" stroke-width="4.85" stroke-opacity="0.04"/>
<use href="#t0_34" stroke-width="3.43" stroke-opacity="0.042"/>
<use href="#t0_34" stroke-width="2.74" stroke-opacity="0.054"/>
<use href="#t0_34" stroke-width="2.22" stroke-opacity="0.069"/>
<use href="#t0_34" stroke-width="1.67" stroke-opacity="0.099"/>
<use href="#t0_34" stroke-width="1.02" stroke-opacity="0.137"/>
<use href="#t0_34" stroke-width="0.9" stroke-opacity="0.127"/>
<defs><path id="t0_35" d="M545 752.91Q612.5 752.53 680 752.07M690 752.01Q720 751.8 750 751.59M845 750.87Q889 750.52 933 750.15"/></defs>
<use href="#t0_35" stroke-width="4.85" stroke-opacity="0.04"/>
<use href="#t0_35" stroke-width="3.43" stroke-opacity="0.042"/>
<use href="#t0_35" stroke-width="2.74" stroke-opacity="0.054"/>
<use href="#t0_35" stroke-width="2.22" stroke-opacity="0.069"/>
<use href="#t0_35" stroke-width="1.67" stroke-opacity="0.099"/>
<use href="#t0_35" stroke-width="1.02" stroke-opacity="0.137"/>
<use href="#t0_35" stroke-width="0.9" stroke-opacity="0.127"/>
<defs><path id="t0_36" d="M120 791.6Q135 791.55 150 791.5M545 789.61Q652.5 788.94 760 788.1M845 787.41Q890 787.04 935 786.63"/></defs>
<use href="#t0_36" stroke-width="4.85" stroke-opacity="0.04"/>
<use href="#t0_36" stroke-width="3.43" stroke-opacity="0.042"/>
<use href="#t0_36" stroke-width="2.74" stroke-opacity="0.054"/>
<use href="#t0_36" stroke-width="2.22" stroke-opacity="0.069"/>
<use href="#t0_36" stroke-width="1.67" stroke-opacity="0.099"/>
<use href="#t0_36" stroke-width="1.02" stroke-opacity="0.137"/>
<use href="#t0_36" stroke-width="0.9" stroke-opacity="0.127"/>
</g>
<circle cx="413.9" cy="698.05" r="1.1" fill="#fff"/>
<circle cx="153.5" cy="663.3" r="0.6" fill="#fff"/>
</g>
<path d="M119.2 175.36Q529.5 170.22 939.8 166.03M119.2 190.96Q529.5 186.02 939.8 181.63M119.2 211.56Q529.5 206.62 939.8 202.23M119.2 227.16Q529.5 222.22 939.8 217.83M119.2 257.76Q529.5 253.12 939.8 248.63M119.2 273.36Q529.5 268.46 939.8 264.33M119.2 293.66Q529.5 289.87 939.8 284.83M119.2 309.16Q529.5 305.47 939.8 300.53M119.2 351.85Q529.5 348.67 939.8 343.83M119.2 367.55Q529.5 364.22 939.8 359.43M119.2 388.36Q529.5 384.92 939.8 380.43M119.2 403.96Q529.5 400.46 939.8 396.13M119.2 461.85Q529.5 459.32 939.8 454.53M119.2 477.65Q529.5 474.82 939.8 470.13M119.2 498.85Q529.5 495.67 939.8 490.83M119.2 514.75Q529.5 511.57 939.8 506.73M119.2 592.25Q529.5 589.16 939.8 585.64M119.2 607.65Q529.5 604.56 939.8 601.04M119.2 628.45Q529.5 625.46 939.8 621.64M119.2 644.35Q529.5 641.36 939.8 637.54M119.2 745.85Q529.5 744.76 939.8 741.24M119.2 761.75Q529.5 760.66 939.8 757.14M119.2 782.75Q529.5 781.41 939.8 777.84M119.2 798.65Q529.5 797.41 939.8 793.54" fill="none" stroke="#000" stroke-width="2.45"/>
<path d="M119.2 175.36Q529.5 170.22 939.8 166.03M119.2 190.96Q529.5 186.02 939.8 181.63M119.2 211.56Q529.5 206.62 939.8 202.23M119.2 227.16Q529.5 222.22 939.8 217.83M119.2 257.76Q529.5 253.12 939.8 248.63M119.2 273.36Q529.5 268.46 939.8 264.33M119.2 293.66Q529.5 289.87 939.8 284.83M119.2 309.16Q529.5 305.47 939.8 300.53M119.2 351.85Q529.5 348.67 939.8 343.83M119.2 367.55Q529.5 364.22 939.8 359.43M119.2 388.36Q529.5 384.92 939.8 380.43M119.2 403.96Q529.5 400.46 939.8 396.13M119.2 461.85Q529.5 459.32 939.8 454.53M119.2 477.65Q529.5 474.82 939.8 470.13M119.2 498.85Q529.5 495.67 939.8 490.83M119.2 514.75Q529.5 511.57 939.8 506.73M119.2 592.25Q529.5 589.16 939.8 585.64M119.2 607.65Q529.5 604.56 939.8 601.04M119.2 628.45Q529.5 625.46 939.8 621.64M119.2 644.35Q529.5 641.36 939.8 637.54M119.2 745.85Q529.5 744.76 939.8 741.24M119.2 761.75Q529.5 760.66 939.8 757.14M119.2 782.75Q529.5 781.41 939.8 777.84M119.2 798.65Q529.5 797.41 939.8 793.54" fill="none" stroke="#fff" stroke-width="2.35" stroke-dasharray="10 10.05" stroke-dashoffset="0.9"/>
</g>
<rect x="119" y="100" width="821" height="713" fill="none" stroke="#000" stroke-width="1.67"/>
<path d="M119 813v7.3M119 813h-7.3M219 813v7.3M119 726h-7.3M320 813v7.3M119 638h-7.3M420 813v7.3M119 551h-7.3M520 813v7.3M119 464h-7.3M620 813v7.3M119 377h-7.3M720 813v7.3M119 290h-7.3M821 813v7.3M119 203h-7.3M921 813v7.3M119 116h-7.3" fill="none" stroke="#000" stroke-width="1.67"/>
<g font-size="20.83" text-anchor="middle">
<text x="119" y="842.8">0</text>
<text x="219" y="842.8">250</text>
<text x="320" y="842.8">500</text>
<text x="420" y="842.8">750</text>
<text x="520" y="842.8">1000</text>
<text x="620" y="842.8">1250</text>
<text x="720" y="842.8">1500</text>
<text x="821" y="842.8">1750</text>
<text x="921" y="842.8">2000</text>
<text x="530.1" y="871.8">pixel</text>
</g>
<text x="529.2" y="86.7" font-size="25" text-anchor="middle">CHIP1</text>
<g clip-path="url(#c1)">
<g filter="url(#cm)">
<rect x="980" y="98" width="825" height="717" fill="#101010" filter="url(#noiseLo)"/>
<g filter="url(#noiseHi)">
<g filter="url(#soft)">
<path d="M978 159.92Q1392.5 154.61 1807 149.48L1807 212.58Q1392.5 217.87 978 222.71Z" fill="#181818"/>
<path d="M978 242.72Q1392.5 237.61 1807 233.09L1807 296.08Q1392.5 301.12 978 305.51Z" fill="#1a1a1a"/>
<path d="M978 339.32Q1392.5 333.94 1807 331.42L1807 391.91Q1392.5 394.69 978 400.12Z" fill="#3d3d3d"/>
<path d="M978 449.89Q1392.5 446.42 1807 441.89L1807 502.7Q1392.5 506.66 978 510.6Z" fill="#474747"/>
<path d="M978 580.9Q1392.5 577.36 1807 574.21L1807 635.05Q1392.5 638.48 978 642.2Z" fill="url(#g1_4)"/>
<path d="M978 736.89Q1392.5 733.96 1807 731.01L1807 792.7Q1392.5 796.11 978 798.89Z" fill="url(#g1_5)"/>
</g>
</g>
<g filter="url(#halo)" fill="none" stroke="#fff">
<path d="M977 139.23Q1392.5 133.87 1808 128.06" stroke-width="22" stroke-opacity="0.02"/>
<path d="M977 139.23Q1392.5 133.87 1808 128.06" stroke-width="12.1" stroke-opacity="0.02"/>
</g>
<g filter="url(#tsm)" fill="none" stroke="#fff" stroke-linecap="round">
<defs><path id="t1_0" d="M982 102.46Q1051 101.99 1120 101.53"/></defs>
<use href="#t1_0" stroke-width="8.18" stroke-opacity="0.04"/>
<use href="#t1_0" stroke-width="6.43" stroke-opacity="0.042"/>
<use href="#t1_0" stroke-width="4.98" stroke-opacity="0.054"/>
<use href="#t1_0" stroke-width="4.05" stroke-opacity="0.069"/>
<use href="#t1_0" stroke-width="3.44" stroke-opacity="0.099"/>
<use href="#t1_0" stroke-width="2.98" stroke-opacity="0.137"/>
<use href="#t1_0" stroke-width="2.6" stroke-opacity="0.19"/>
<use href="#t1_0" stroke-width="2.25" stroke-opacity="0.275"/>
<use href="#t1_0" stroke-width="1.9" stroke-opacity="0.459"/>
<use href="#t1_0" stroke-width="1.52" stroke-opacity="1"/>
<defs><path id="t1_1" d="M1120 101.03Q1160 100.77 1200 100.5"/></defs>
<use href="#t1_1" stroke-width="7.05" stroke-opacity="0.04"/>
<use href="#t1_1" stroke-width="5.04" stroke-opacity="0.042"/>
<use href="#t1_1" stroke-width="3.89" stroke-opacity="0.054"/>
<use href="#t1_1" stroke-width="3.27" stroke-opacity="0.069"/>
<use href="#t1_1" stroke-width="2.78" stroke-opacity="0.099"/>
<use href="#t1_1" stroke-width="2.34" stroke-opacity="0.137"/>
<use href="#t1_1" stroke-width="1.93" stroke-opacity="0.19"/>
<use href="#t1_1" stroke-width="1.51" stroke-opacity="0.275"/>
<use href="#t1_1" stroke-width="0.98" stroke-opacity="0.459"/>
<use href="#t1_1" stroke-width="0.9" stroke-opacity="0.798"/>
<path d="M979 133.48L982 133.44L1021.76 132.9L1064.53 132.32L1107.29 131.74L1150.06 131.16L1192.82 130.57A8.78 5.85 0 0 1 1192.82 142.26L1150.06 142.8L1107.29 143.34L1064.53 143.87L1021.76 144.4L982 144.89L979 144.93ZM1262.82 129.61L1303.17 129.05L1343.52 128.49L1383.87 127.93L1424.22 127.37L1464.57 126.8L1504.93 126.23L1545.28 125.66L1585.63 125.09A9.07 6.05 0 0 1 1585.63 137.18L1545.28 137.71L1504.93 138.24L1464.57 138.77L1424.22 139.29L1383.87 139.82L1343.52 140.34L1303.17 140.86L1262.82 141.37A8.82 5.88 0 0 1 1262.82 129.61ZM1663.72 123.98L1711.14 123.3L1758.57 122.62L1803 121.97L1806 121.93L1806 134.24L1803 134.28L1758.57 134.88L1711.14 135.51L1663.72 136.14A9.12 6.08 0 0 1 1663.72 123.98Z" stroke="none" fill="#fff" fill-opacity="0.04"/>
<path d="M979 134.07L982 134.03L1021.94 133.49L1064.88 132.9L1107.81 132.31L1150.75 131.72L1193.69 131.13A7.91 5.27 0 0 1 1193.69 141.67L1150.75 142.21L1107.81 142.75L1064.88 143.28L1021.94 143.81L982 144.3L979 144.34ZM1261.96 130.19L1302.52 129.63L1343.08 129.06L1383.65 128.5L1424.21 127.93L1464.77 127.36L1505.34 126.79L1545.9 126.21L1586.46 125.64A8.24 5.49 0 0 1 1586.46 136.61L1545.9 137.14L1505.34 137.68L1464.77 138.2L1424.21 138.73L1383.65 139.25L1343.08 139.78L1302.52 140.29L1261.96 140.81A7.96 5.31 0 0 1 1261.96 130.19ZM1662.89 124.54L1710.59 123.86L1758.3 123.17L1803 122.52L1806 122.48L1806 133.69L1803 133.73L1758.3 134.33L1710.59 134.97L1662.89 135.6A8.29 5.53 0 0 1 1662.89 124.54Z" stroke="none" fill="#fff" fill-opacity="0.042"/>
<path d="M979 134.53L982 134.49L1022.07 133.94L1065.14 133.35L1108.21 132.76L1151.28 132.16L1194.35 131.57A7.25 4.83 0 0 1 1194.35 141.22L1151.28 141.76L1108.21 142.3L1065.14 142.83L1022.07 143.36L982 143.85L979 143.89ZM1261.3 130.64L1302.02 130.07L1342.75 129.51L1383.47 128.94L1424.2 128.36L1464.92 127.79L1505.65 127.21L1546.37 126.63L1587.1 126.05A7.6 5.07 0 0 1 1587.1 136.18L1546.37 136.71L1505.65 137.24L1464.92 137.77L1424.2 138.3L1383.47 138.82L1342.75 139.34L1302.02 139.86L1261.3 140.38A7.3 4.86 0 0 1 1261.3 130.64ZM1662.25 124.97L1710.17 124.28L1758.08 123.59L1803 122.94L1806 122.89L1806 133.27L1803 133.32L1758.08 133.92L1710.17 134.55L1662.25 135.19A7.65 5.1 0 0 1 1662.25 124.97Z" stroke="none" fill="#fff" fill-opacity="0.054"/>
<path d="M979 134.92L982 134.88L1022.18 134.33L1065.37 133.73L1108.55 133.14L1151.74 132.54L1194.92 131.94A6.68 4.45 0 0 1 1194.92 140.84L1151.74 141.37L1108.55 141.91L1065.37 142.44L1022.18 142.97L982 143.46L979 143.49ZM1260.73 131.02L1301.6 130.45L1342.46 129.88L1383.32 129.31L1424.18 128.73L1465.05 128.15L1505.91 127.57L1546.77 126.99L1587.64 126.4A7.06 4.71 0 0 1 1587.64 135.81L1546.77 136.35L1505.91 136.88L1465.05 137.4L1424.18 137.93L1383.32 138.45L1342.46 138.98L1301.6 139.49L1260.73 140.01A6.73 4.49 0 0 1 1260.73 131.02ZM1661.72 125.34L1709.81 124.64L1757.91 123.94L1803 123.29L1806 123.24L1806 132.93L1803 132.97L1757.91 133.57L1709.81 134.21L1661.72 134.84A7.12 4.75 0 0 1 1661.72 125.34Z" stroke="none" fill="#fff" fill-opacity="0.069"/>
<path d="M979 135.31L982 135.28L1022.3 134.72L1065.6 134.12L1108.9 133.52L1152.19 132.92L1195.49 132.31A6.11 4.07 0 0 1 1195.49 140.45L1152.19 140.98L1108.9 141.52L1065.6 142.05L1022.3 142.57L982 143.06L979 143.1ZM1260.17 131.41L1301.17 130.83L1342.17 130.26L1383.17 129.68L1424.17 129.1L1465.17 128.51L1506.17 127.93L1547.17 127.34L1588.17 126.75A6.53 4.35 0 0 1 1588.17 135.45L1547.17 135.98L1506.17 136.51L1465.17 137.04L1424.17 137.56L1383.17 138.09L1342.17 138.61L1301.17 139.12L1260.17 139.64A6.17 4.11 0 0 1 1260.17 131.41ZM1661.19 125.7L1709.46 125L1757.73 124.3L1803 123.63L1806 123.59L1806 132.58L1803 132.62L1757.73 133.22L1709.46 133.86L1661.19 134.49A6.59 4.39 0 0 1 1661.19 125.7Z" stroke="none" fill="#fff" fill-opacity="0.099"/>
<path d="M979 135.71L982 135.67L1022.41 135.11L1065.82 134.5L1109.23 133.9L1152.64 133.29L1196.05 132.68A5.55 3.7 0 0 1 1196.05 140.07L1152.64 140.6L1109.23 141.13L1065.82 141.66L1022.41 142.18L982 142.66L979 142.7ZM1259.61 131.79L1300.75 131.21L1341.88 130.63L1383.02 130.04L1424.15 129.46L1465.29 128.87L1506.43 128.28L1547.56 127.69L1588.7 127.1A6 4 0 0 1 1588.7 135.09L1547.56 135.62L1506.43 136.15L1465.29 136.68L1424.15 137.2L1383.02 137.73L1341.88 138.25L1300.75 138.76L1259.61 139.28A5.61 3.74 0 0 1 1259.61 131.79ZM1660.67 126.05L1709.11 125.35L1757.56 124.64L1803 123.97L1806 123.93L1806 132.24L1803 132.28L1757.56 132.88L1709.11 133.52L1660.67 134.15A6.07 4.05 0 0 1 1660.67 126.05Z" stroke="none" fill="#fff" fill-opacity="0.137"/>
<path d="M979 136.1L982 136.06L1022.52 135.49L1066.04 134.88L1109.56 134.27L1153.09 133.66L1196.61 133.04A4.99 3.33 0 0 1 1196.61 139.69L1153.09 140.22L1109.56 140.75L1066.04 141.27L1022.52 141.79L982 142.27L979 142.31ZM1259.06 132.16L1300.33 131.57L1341.6 130.99L1382.87 130.4L1424.13 129.81L1465.4 129.22L1506.67 128.62L1547.94 128.03L1589.21 127.43A5.49 3.66 0 0 1 1589.21 134.74L1547.94 135.28L1506.67 135.8L1465.4 136.33L1424.13 136.85L1382.87 137.37L1341.6 137.89L1300.33 138.41L1259.06 138.92A5.06 3.38 0 0 1 1259.06 132.16ZM1660.17 126.39L1708.78 125.68L1757.39 124.97L1803 124.3L1806 124.25L1806 131.92L1803 131.96L1757.39 132.56L1708.78 133.19L1660.17 133.83A5.57 3.71 0 0 1 1660.17 126.39Z" stroke="none" fill="#fff" fill-opacity="0.19"/>
<path d="M979 136.48L982 136.44L1022.63 135.87L1066.26 135.25L1109.89 134.63L1153.52 134.02L1197.15 133.4A4.45 2.97 0 0 1 1197.15 139.32L1153.52 139.85L1109.89 140.38L1066.26 140.9L1022.63 141.42L982 141.9L979 141.94ZM1258.53 132.52L1299.92 131.93L1341.32 131.34L1382.72 130.75L1424.11 130.15L1465.51 129.56L1506.91 128.96L1548.31 128.36L1589.7 127.75A5 3.33 0 0 1 1589.7 134.41L1548.31 134.94L1506.91 135.46L1465.51 135.99L1424.11 136.51L1382.72 137.03L1341.32 137.54L1299.92 138.06L1258.53 138.57A4.53 3.02 0 0 1 1258.53 132.52ZM1659.68 126.73L1708.45 126.01L1757.23 125.29L1803 124.61L1806 124.57L1806 131.6L1803 131.64L1757.23 132.24L1708.45 132.87L1659.68 133.51A5.08 3.38 0 0 1 1659.68 126.73Z" stroke="none" fill="#fff" fill-opacity="0.275"/>
<path d="M979 136.83L982 136.79L1022.74 136.22L1066.48 135.6L1110.22 134.99L1153.96 134.37L1197.69 133.75A3.91 2.6 0 0 1 1197.69 138.95L1153.96 139.48L1110.22 140.01L1066.48 140.54L1022.74 141.06L982 141.55L979 141.59ZM1257.98 132.89L1299.51 132.3L1341.04 131.71L1382.57 131.11L1424.1 130.51L1465.63 129.91L1507.16 129.3L1548.69 128.7L1590.22 128.09A4.48 2.99 0 0 1 1590.22 134.06L1548.69 134.58L1507.16 135.11L1465.63 135.63L1424.1 136.15L1382.57 136.67L1341.04 137.19L1299.51 137.7L1257.98 138.21A3.98 2.66 0 0 1 1257.98 132.89ZM1659.17 127.07L1708.11 126.35L1757.06 125.62L1803 124.94L1806 124.9L1806 131.27L1803 131.31L1757.06 131.91L1708.11 132.54L1659.17 133.17A4.57 3.05 0 0 1 1659.17 127.07Z" stroke="none" fill="#fff" fill-opacity="0.459"/>
<path d="M979 137.1L982 137.06L1022.83 136.5L1066.67 135.89L1110.5 135.28L1154.33 134.67L1198.16 134.06A3.44 2.29 0 0 1 1198.16 138.63L1154.33 139.17L1110.5 139.71L1066.67 140.25L1022.83 140.78L982 141.27L979 141.31ZM1257.5 133.22L1299.16 132.63L1340.81 132.04L1382.46 131.44L1424.11 130.84L1465.77 130.24L1507.42 129.64L1549.07 129.03L1590.73 128.42A3.97 2.65 0 0 1 1590.73 133.71L1549.07 134.24L1507.42 134.77L1465.77 135.29L1424.11 135.82L1382.46 136.34L1340.81 136.86L1299.16 137.38L1257.5 137.9A3.5 2.34 0 0 1 1257.5 133.22ZM1658.66 127.42L1707.78 126.69L1756.89 125.96L1803 125.27L1806 125.23L1806 130.94L1803 130.98L1756.89 131.58L1707.78 132.21L1658.66 132.84A4.06 2.71 0 0 1 1658.66 127.42Z" stroke="none" fill="#fff" fill-opacity="1"/>
<defs><path id="t1_3" d="M1209 136.2Q1214.5 136.13 1220 136.06"/></defs>
<use href="#t1_3" stroke-width="11.32" stroke-opacity="0.04"/>
<use href="#t1_3" stroke-width="10.13" stroke-opacity="0.042"/>
<use href="#t1_3" stroke-width="9.2" stroke-opacity="0.054"/>
<use href="#t1_3" stroke-width="8.4" stroke-opacity="0.069"/>
<use href="#t1_3" stroke-width="7.59" stroke-opacity="0.099"/>
<use href="#t1_3" stroke-width="6.78" stroke-opacity="0.137"/>
<use href="#t1_3" stroke-width="5.98" stroke-opacity="0.19"/>
<use href="#t1_3" stroke-width="5.21" stroke-opacity="0.275"/>
<use href="#t1_3" stroke-width="4.55" stroke-opacity="0.459"/>
<use href="#t1_3" stroke-width="4.05" stroke-opacity="1"/>
<defs><path id="t1_4" d="M1228.5 135.94Q1231.5 135.9 1234.5 135.87"/></defs>
<use href="#t1_4" stroke-width="10.41" stroke-opacity="0.04"/>
<use href="#t1_4" stroke-width="9.09" stroke-opacity="0.042"/>
<use href="#t1_4" stroke-width="8.05" stroke-opacity="0.054"/>
<use href="#t1_4" stroke-width="7.12" stroke-opacity="0.069"/>
<use href="#t1_4" stroke-width="6.15" stroke-opacity="0.099"/>
<use href="#t1_4" stroke-width="5.2" stroke-opacity="0.137"/>
<use href="#t1_4" stroke-width="4.43" stroke-opacity="0.19"/>
<use href="#t1_4" stroke-width="3.9" stroke-opacity="0.275"/>
<use href="#t1_4" stroke-width="3.49" stroke-opacity="0.459"/>
<use href="#t1_4" stroke-width="3.16" stroke-opacity="1"/>
<g stroke="none" fill="#fff" fill-opacity="0.04"><ellipse cx="1241.25" cy="135.78" rx="6.98" ry="3.96"/></g>
<g stroke="none" fill="#fff" fill-opacity="0.042"><ellipse cx="1241.25" cy="135.78" rx="5.62" ry="3.04"/></g>
<g stroke="none" fill="#fff" fill-opacity="0.054"><ellipse cx="1241.25" cy="135.78" rx="4.54" ry="2.33"/></g>
<g stroke="none" fill="#fff" fill-opacity="0.069"><ellipse cx="1241.25" cy="135.78" rx="3.92" ry="1.92"/></g>
<g stroke="none" fill="#fff" fill-opacity="0.099"><ellipse cx="1241.25" cy="135.78" rx="3.5" ry="1.63"/></g>
<g stroke="none" fill="#fff" fill-opacity="0.137"><ellipse cx="1241.25" cy="135.78" rx="3.17" ry="1.41"/></g>
<g stroke="none" fill="#fff" fill-opacity="0.19"><ellipse cx="1241.25" cy="135.78" rx="2.88" ry="1.22"/></g>
<g stroke="none" fill="#fff" fill-opacity="0.275"><ellipse cx="1241.25" cy="135.78" rx="2.61" ry="1.04"/></g>
<g stroke="none" fill="#fff" fill-opacity="0.459"><ellipse cx="1241.25" cy="135.78" rx="2.33" ry="0.85"/></g>
<g stroke="none" fill="#fff" fill-opacity="1"><ellipse cx="1241.25" cy="135.78" rx="2.01" ry="0.64"/></g>
<defs><path id="t1_6" d="M1602.4 130.91Q1609.4 130.81 1616.4 130.71"/></defs>
<use href="#t1_6" stroke-width="11.79" stroke-opacity="0.04"/>
<use href="#t1_6" stroke-width="10.65" stroke-opacity="0.042"/>
<use href="#t1_6" stroke-width="9.77" stroke-opacity="0.054"/>
<use href="#t1_6" stroke-width="9.03" stroke-opacity="0.069"/>
<use href="#t1_6" stroke-width="8.27" stroke-opacity="0.099"/>
<use href="#t1_6" stroke-width="7.54" stroke-opacity="0.137"/>
<use href="#t1_6" stroke-width="6.82" stroke-opacity="0.19"/>
<use href="#t1_6" stroke-width="6.1" stroke-opacity="0.275"/>
<use href="#t1_6" stroke-width="5.38" stroke-opacity="0.459"/>
<use href="#t1_6" stroke-width="4.73" stroke-opacity="1"/>
<g stroke="none" fill="#fff" fill-opacity="0.04"><ellipse cx="1627.75" cy="130.56" rx="6.98" ry="3.96"/></g>
<g stroke="none" fill="#fff" fill-opacity="0.042"><ellipse cx="1627.75" cy="130.56" rx="5.62" ry="3.04"/></g>
<g stroke="none" fill="#fff" fill-opacity="0.054"><ellipse cx="1627.75" cy="130.56" rx="4.54" ry="2.33"/></g>
<g stroke="none" fill="#fff" fill-opacity="0.069"><ellipse cx="1627.75" cy="130.56" rx="3.92" ry="1.92"/></g>
<g stroke="none" fill="#fff" fill-opacity="0.099"><ellipse cx="1627.75" cy="130.56" rx="3.5" ry="1.63"/></g>
<g stroke="none" fill="#fff" fill-opacity="0.137"><ellipse cx="1627.75" cy="130.56" rx="3.17" ry="1.41"/></g>
<g stroke="none" fill="#fff" fill-opacity="0.19"><ellipse cx="1627.75" cy="130.56" rx="2.88" ry="1.22"/></g>
<g stroke="none" fill="#fff" fill-opacity="0.275"><ellipse cx="1627.75" cy="130.56" rx="2.61" ry="1.04"/></g>
<g stroke="none" fill="#fff" fill-opacity="0.459"><ellipse cx="1627.75" cy="130.56" rx="2.33" ry="0.85"/></g>
<g stroke="none" fill="#fff" fill-opacity="1"><ellipse cx="1627.75" cy="130.56" rx="2.01" ry="0.64"/></g>
<defs><path id="t1_8" d="M1636.2 130.44Q1639.4 130.4 1642.6 130.35"/></defs>
<use href="#t1_8" stroke-width="11.32" stroke-opacity="0.04"/>
<use href="#t1_8" stroke-width="10.13" stroke-opacity="0.042"/>
<use href="#t1_8" stroke-width="9.2" stroke-opacity="0.054"/>
<use href="#t1_8" stroke-width="8.4" stroke-opacity="0.069"/>
<use href="#t1_8" stroke-width="7.59" stroke-opacity="0.099"/>
<use href="#t1_8" stroke-width="6.78" stroke-opacity="0.137"/>
<use href="#t1_8" stroke-width="5.98" stroke-opacity="0.19"/>
<use href="#t1_8" stroke-width="5.21" stroke-opacity="0.275"/>
<use href="#t1_8" stroke-width="4.55" stroke-opacity="0.459"/>
<use href="#t1_8" stroke-width="4.05" stroke-opacity="1"/>
<g stroke="none" fill="#fff" fill-opacity="0.04"><ellipse cx="1626.5" cy="130.57" rx="11.12" ry="3.58"/><ellipse cx="1649.5" cy="130.26" rx="9.12" ry="3.58"/></g>
<g stroke="none" fill="#fff" fill-opacity="0.042"><ellipse cx="1626.5" cy="130.57" rx="9.62" ry="2.58"/><ellipse cx="1649.5" cy="130.26" rx="7.62" ry="2.58"/></g>
<g stroke="none" fill="#fff" fill-opacity="0.054"><ellipse cx="1626.5" cy="130.57" rx="8.72" ry="1.98"/><ellipse cx="1649.5" cy="130.26" rx="6.72" ry="1.98"/></g>
<g stroke="none" fill="#fff" fill-opacity="0.069"><ellipse cx="1626.5" cy="130.57" rx="8.25" ry="1.66"/><ellipse cx="1649.5" cy="130.26" rx="6.25" ry="1.66"/></g>
<g stroke="none" fill="#fff" fill-opacity="0.099"><ellipse cx="1626.5" cy="130.57" rx="7.87" ry="1.42"/><ellipse cx="1649.5" cy="130.26" rx="5.87" ry="1.42"/></g>
<g stroke="none" fill="#fff" fill-opacity="0.137"><ellipse cx="1626.5" cy="130.57" rx="7.55" ry="1.2"/><ellipse cx="1649.5" cy="130.26" rx="5.55" ry="1.2"/></g>
<g stroke="none" fill="#fff" fill-opacity="0.19"><ellipse cx="1626.5" cy="130.57" rx="7.25" ry="1"/><ellipse cx="1649.5" cy="130.26" rx="5.25" ry="1"/></g>
<g stroke="none" fill="#fff" fill-opacity="0.275"><ellipse cx="1626.5" cy="130.57" rx="6.94" ry="0.79"/><ellipse cx="1649.5" cy="130.26" rx="4.94" ry="0.79"/></g>
<g stroke="none" fill="#fff" fill-opacity="0.459"><ellipse cx="1626.5" cy="130.57" rx="6.57" ry="0.54"/><ellipse cx="1649.5" cy="130.26" rx="4.57" ry="0.54"/></g>
<g stroke="none" fill="#fff" fill-opacity="1"><ellipse cx="1626.5" cy="130.57" rx="6.42" ry="0.45"/><ellipse cx="1649.5" cy="130.26" rx="4.42" ry="0.45"/></g>
<g stroke="none" fill="#fff" fill-opacity="0.04"><ellipse cx="1648" cy="130.28" rx="5.89" ry="3.83"/></g>
<g stroke="none" fill="#fff" fill-opacity="0.042"><ellipse cx="1648" cy="130.28" rx="4.48" ry="2.88"/></g>
<g stroke="none" fill="#fff" fill-opacity="0.054"><ellipse cx="1648" cy="130.28" rx="3.44" ry="2.2"/></g>
<g stroke="none" fill="#fff" fill-opacity="0.069"><ellipse cx="1648" cy="130.28" rx="2.88" ry="1.82"/></g>
<g stroke="none" fill="#fff" fill-opacity="0.099"><ellipse cx="1648" cy="130.28" rx="2.48" ry="1.56"/></g>
<g stroke="none" fill="#fff" fill-opacity="0.137"><ellipse cx="1648" cy="130.28" rx="2.16" ry="1.34"/></g>
<g stroke="none" fill="#fff" fill-opacity="0.19"><ellipse cx="1648" cy="130.28" rx="1.87" ry="1.14"/></g>
<g stroke="none" fill="#fff" fill-opacity="0.275"><ellipse cx="1648" cy="130.28" rx="1.59" ry="0.96"/></g>
<g stroke="none" fill="#fff" fill-opacity="0.459"><ellipse cx="1648" cy="130.28" rx="1.29" ry="0.76"/></g>
<g stroke="none" fill="#fff" fill-opacity="1"><ellipse cx="1648" cy="130.28" rx="0.93" ry="0.52"/></g>
<g stroke="none" fill="#fff" fill-opacity="0.04"><ellipse cx="1651.3" cy="130.23" rx="5.67" ry="3.71"/></g>
<g stroke="none" fill="#fff" fill-opacity="0.042"><ellipse cx="1651.3" cy="130.23" rx="4.21" ry="2.74"/></g>
<g stroke="none" fill="#fff" fill-opacity="0.054"><ellipse cx="1651.3" cy="130.23" rx="3.24" ry="2.09"/></g>
<g stroke="none" fill="#fff" fill-opacity="0.069"><ellipse cx="1651.3" cy="130.23" rx="2.72" ry="1.75"/></g>
<g stroke="none" fill="#fff" fill-opacity="0.099"><ellipse cx="1651.3" cy="130.23" rx="2.33" ry="1.49"/></g>
<g stroke="none" fill="#fff" fill-opacity="0.137"><ellipse cx="1651.3" cy="130.23" rx="2.01" ry="1.27"/></g>
<g stroke="none" fill="#fff" fill-opacity="0.19"><ellipse cx="1651.3" cy="130.23" rx="1.72" ry="1.08"/></g>
<g stroke="none" fill="#fff" fill-opacity="0.275"><ellipse cx="1651.3" cy="130.23" rx="1.43" ry="0.88"/></g>
<g stroke="none" fill="#fff" fill-opacity="0.459"><ellipse cx="1651.3" cy="130.23" rx="1.1" ry="0.67"/></g>
<g stroke="none" fill="#fff" fill-opacity="1"><ellipse cx="1651.3" cy="130.23" rx="0.66" ry="0.45"/></g>
<defs><path id="t1_12" d="M982 174.57Q1392.5 169.54 1803 164.38"/></defs>
<use href="#t1_12" stroke-width="11.01" stroke-opacity="0.04"/>
<use href="#t1_12" stroke-width="9.78" stroke-opacity="0.042"/>
<use href="#t1_12" stroke-width="8.82" stroke-opacity="0.054"/>
<use href="#t1_12" stroke-width="7.98" stroke-opacity="0.069"/>
<use href="#t1_12" stroke-width="7.12" stroke-opacity="0.099"/>
<use href="#t1_12" stroke-width="6.26" stroke-opacity="0.137"/>
<use href="#t1_12" stroke-width="5.41" stroke-opacity="0.19"/>
<use href="#t1_12" stroke-width="4.69" stroke-opacity="0.275"/>
<use href="#t1_12" stroke-width="4.12" stroke-opacity="0.459"/>
<use href="#t1_12" stroke-width="3.7" stroke-opacity="1"/>
<defs><path id="t1_13" d="M982 210.72Q1392.5 205.92 1803 200.68"/></defs>
<use href="#t1_13" stroke-width="12.1" stroke-opacity="0.04"/>
<use href="#t1_13" stroke-width="10.99" stroke-opacity="0.042"/>
<use href="#t1_13" stroke-width="10.14" stroke-opacity="0.054"/>
<use href="#t1_13" stroke-width="9.42" stroke-opacity="0.069"/>
<use href="#t1_13" stroke-width="8.7" stroke-opacity="0.099"/>
<use href="#t1_13" stroke-width="8.01" stroke-opacity="0.137"/>
<use href="#t1_13" stroke-width="7.33" stroke-opacity="0.19"/>
<use href="#t1_13" stroke-width="6.67" stroke-opacity="0.275"/>
<use href="#t1_13" stroke-width="5.98" stroke-opacity="0.459"/>
<use href="#t1_13" stroke-width="5.31" stroke-opacity="1"/>
<defs><path id="t1_14" d="M982 257.42Q1392.5 252.39 1803 247.83"/></defs>
<use href="#t1_14" stroke-width="11.57" stroke-opacity="0.04"/>
<use href="#t1_14" stroke-width="10.41" stroke-opacity="0.042"/>
<use href="#t1_14" stroke-width="9.51" stroke-opacity="0.054"/>
<use href="#t1_14" stroke-width="8.74" stroke-opacity="0.069"/>
<use href="#t1_14" stroke-width="7.96" stroke-opacity="0.099"/>
<use href="#t1_14" stroke-width="7.19" stroke-opacity="0.137"/>
<use href="#t1_14" stroke-width="6.43" stroke-opacity="0.19"/>
<use href="#t1_14" stroke-width="5.69" stroke-opacity="0.275"/>
<use href="#t1_14" stroke-width="4.97" stroke-opacity="0.459"/>
<use href="#t1_14" stroke-width="4.38" stroke-opacity="1"/>
<defs><path id="t1_15" d="M982 293.56Q1392.5 289.16 1803 284.13"/></defs>
<use href="#t1_15" stroke-width="12.62" stroke-opacity="0.04"/>
<use href="#t1_15" stroke-width="11.56" stroke-opacity="0.042"/>
<use href="#t1_15" stroke-width="10.75" stroke-opacity="0.054"/>
<use href="#t1_15" stroke-width="10.08" stroke-opacity="0.069"/>
<use href="#t1_15" stroke-width="9.41" stroke-opacity="0.099"/>
<use href="#t1_15" stroke-width="8.77" stroke-opacity="0.137"/>
<use href="#t1_15" stroke-width="8.16" stroke-opacity="0.19"/>
<use href="#t1_15" stroke-width="7.57" stroke-opacity="0.275"/>
<use href="#t1_15" stroke-width="6.96" stroke-opacity="0.459"/>
<use href="#t1_15" stroke-width="6.35" stroke-opacity="1"/>
<g stroke="none" fill="#fff" fill-opacity="0.04"><ellipse cx="992.19" cy="463.08" rx="14.01" ry="4.74"/><ellipse cx="1033.51" cy="462.73" rx="19.15" ry="4.74"/><ellipse cx="1082.4" cy="462.31" rx="16.7" ry="4.74"/><ellipse cx="1103.18" cy="462.13" rx="10.59" ry="4.74"/><ellipse cx="1131.29" cy="461.88" rx="15.48" ry="4.74"/><ellipse cx="1152.68" cy="461.69" rx="13.65" ry="4.74"/><ellipse cx="1180.19" cy="461.44" rx="13.04" ry="4.74"/><ellipse cx="1202.19" cy="461.24" rx="16.7" ry="4.74"/><ellipse cx="1229.08" cy="461" rx="10.59" ry="4.74"/><ellipse cx="1252.31" cy="460.78" rx="19.15" ry="4.74"/><ellipse cx="1303.64" cy="460.31" rx="21.59" ry="4.74"/><ellipse cx="1354.98" cy="459.82" rx="24.04" ry="4.74"/><ellipse cx="1388.96" cy="459.49" rx="9.12" ry="4.74"/><ellipse cx="1410.11" cy="459.28" rx="22.2" ry="4.74"/><ellipse cx="1457.78" cy="458.81" rx="25.87" ry="4.74"/><ellipse cx="1496.9" cy="458.42" rx="11.2" ry="4.74"/><ellipse cx="1517.68" cy="458.21" rx="17.31" ry="4.74"/><ellipse cx="1564.74" cy="457.73" rx="24.04" ry="4.74"/><ellipse cx="1591.02" cy="457.46" rx="9.98" ry="4.74"/><ellipse cx="1627.08" cy="457.08" rx="30.15" ry="4.74"/><ellipse cx="1668.03" cy="456.65" rx="14.87" ry="4.74"/><ellipse cx="1696.14" cy="456.35" rx="19.76" ry="4.74"/><ellipse cx="1741.37" cy="455.86" rx="30.76" ry="4.74"/><ellipse cx="1786.59" cy="455.36" rx="19.76" ry="4.74"/></g>
<g stroke="none" fill="#fff" fill-opacity="0.042"><ellipse cx="992.19" cy="463.08" rx="12.92" ry="4.01"/><ellipse cx="1033.51" cy="462.73" rx="18.05" ry="4.01"/><ellipse cx="1082.4" cy="462.31" rx="15.61" ry="4.01"/><ellipse cx="1103.18" cy="462.13" rx="9.49" ry="4.01"/><ellipse cx="1131.29" cy="461.88" rx="14.38" ry="4.01"/><ellipse cx="1152.68" cy="461.69" rx="12.55" ry="4.01"/><ellipse cx="1180.19" cy="461.44" rx="11.94" ry="4.01"/><ellipse cx="1202.19" cy="461.24" rx="15.61" ry="4.01"/><ellipse cx="1229.08" cy="461" rx="9.49" ry="4.01"/><ellipse cx="1252.31" cy="460.78" rx="18.05" ry="4.01"/><ellipse cx="1303.64" cy="460.31" rx="20.49" ry="4.01"/><ellipse cx="1354.98" cy="459.82" rx="22.94" ry="4.01"/><ellipse cx="1388.96" cy="459.49" rx="8.03" ry="4.01"/><ellipse cx="1410.11" cy="459.28" rx="21.11" ry="4.01"/><ellipse cx="1457.78" cy="458.81" rx="24.77" ry="4.01"/><ellipse cx="1496.9" cy="458.42" rx="10.11" ry="4.01"/><ellipse cx="1517.68" cy="458.21" rx="16.22" ry="4.01"/><ellipse cx="1564.74" cy="457.73" rx="22.94" ry="4.01"/><ellipse cx="1591.02" cy="457.46" rx="8.88" ry="4.01"/><ellipse cx="1627.08" cy="457.08" rx="29.05" ry="4.01"/><ellipse cx="1668.03" cy="456.65" rx="13.77" ry="4.01"/><ellipse cx="1696.14" cy="456.35" rx="18.66" ry="4.01"/><ellipse cx="1741.37" cy="455.86" rx="29.66" ry="4.01"/><ellipse cx="1786.59" cy="455.36" rx="18.66" ry="4.01"/></g>
<g stroke="none" fill="#fff" fill-opacity="0.054"><ellipse cx="992.19" cy="463.08" rx="12.01" ry="3.41"/><ellipse cx="1033.51" cy="462.73" rx="17.14" ry="3.41"/><ellipse cx="1082.4" cy="462.31" rx="14.7" ry="3.41"/><ellipse cx="1103.18" cy="462.13" rx="8.59" ry="3.41"/><ellipse cx="1131.29" cy="461.88" rx="13.48" ry="3.41"/><ellipse cx="1152.68" cy="461.69" rx="11.64" ry="3.41"/><ellipse cx="1180.19" cy="461.44" rx="11.03" ry="3.41"/><ellipse cx="1202.19" cy="461.24" rx="14.7" ry="3.41"/><ellipse cx="1229.08" cy="461" rx="8.59" ry="3.41"/><ellipse cx="1252.31" cy="460.78" rx="17.14" ry="3.41"/><ellipse cx="1303.64" cy="460.31" rx="19.59" ry="3.41"/><ellipse cx="1354.98" cy="459.82" rx="22.03" ry="3.41"/><ellipse cx="1388.96" cy="459.49" rx="7.12" ry="3.41"/><ellipse cx="1410.11" cy="459.28" rx="20.2" ry="3.41"/><ellipse cx="1457.78" cy="458.81" rx="23.87" ry="3.41"/><ellipse cx="1496.9" cy="458.42" rx="9.2" ry="3.41"/><ellipse cx="1517.68" cy="458.21" rx="15.31" ry="3.41"/><ellipse cx="1564.74" cy="457.73" rx="22.03" ry="3.41"/><ellipse cx="1591.02" cy="457.46" rx="7.98" ry="3.41"/><ellipse cx="1627.08" cy="457.08" rx="28.15" ry="3.41"/><ellipse cx="1668.03" cy="456.65" rx="12.87" ry="3.41"/><ellipse cx="1696.14" cy="456.35" rx="17.76" ry="3.41"/><ellipse cx="1741.37" cy="455.86" rx="28.76" ry="3.41"/><ellipse cx="1786.59" cy="455.36" rx="17.76" ry="3.41"/></g>
<g stroke="none" fill="#fff" fill-opacity="0.069"><ellipse cx="992.19" cy="463.08" rx="11.19" ry="2.86"/><ellipse cx="1033.51" cy="462.73" rx="16.32" ry="2.86"/><ellipse cx="1082.4" cy="462.31" rx="13.88" ry="2.86"/><ellipse cx="1103.18" cy="462.13" rx="7.77" ry="2.86"/><ellipse cx="1131.29" cy="461.88" rx="12.66" ry="2.86"/><ellipse cx="1152.68" cy="461.69" rx="10.82" ry="2.86"/><ellipse cx="1180.19" cy="461.44" rx="10.21" ry="2.86"/><ellipse cx="1202.19" cy="461.24" rx="13.88" ry="2.86"/><ellipse cx="1229.08" cy="461" rx="7.77" ry="2.86"/><ellipse cx="1252.31" cy="460.78" rx="16.32" ry="2.86"/><ellipse cx="1303.64" cy="460.31" rx="18.77" ry="2.86"/><ellipse cx="1354.98" cy="459.82" rx="21.21" ry="2.86"/><ellipse cx="1388.96" cy="459.49" rx="6.3" ry="2.86"/><ellipse cx="1410.11" cy="459.28" rx="19.38" ry="2.86"/><ellipse cx="1457.78" cy="458.81" rx="23.05" ry="2.86"/><ellipse cx="1496.9" cy="458.42" rx="8.38" ry="2.86"/><ellipse cx="1517.68" cy="458.21" rx="14.49" ry="2.86"/><ellipse cx="1564.74" cy="457.73" rx="21.21" ry="2.86"/><ellipse cx="1591.02" cy="457.46" rx="7.16" ry="2.86"/><ellipse cx="1627.08" cy="457.08" rx="27.32" ry="2.86"/><ellipse cx="1668.03" cy="456.65" rx="12.04" ry="2.86"/><ellipse cx="1696.14" cy="456.35" rx="16.93" ry="2.86"/><ellipse cx="1741.37" cy="455.86" rx="27.93" ry="2.86"/><ellipse cx="1786.59" cy="455.36" rx="16.93" ry="2.86"/></g>
<g stroke="none" fill="#fff" fill-opacity="0.099"><ellipse cx="992.19" cy="463.08" rx="10.41" ry="2.34"/><ellipse cx="1033.51" cy="462.73" rx="15.55" ry="2.34"/><ellipse cx="1082.4" cy="462.31" rx="13.1" ry="2.34"/><ellipse cx="1103.18" cy="462.13" rx="6.99" ry="2.34"/><ellipse cx="1131.29" cy="461.88" rx="11.88" ry="2.34"/><ellipse cx="1152.68" cy="461.69" rx="10.05" ry="2.34"/><ellipse cx="1180.19" cy="461.44" rx="9.44" ry="2.34"/><ellipse cx="1202.19" cy="461.24" rx="13.1" ry="2.34"/><ellipse cx="1229.08" cy="461" rx="6.99" ry="2.34"/><ellipse cx="1252.31" cy="460.78" rx="15.55" ry="2.34"/><ellipse cx="1303.64" cy="460.31" rx="17.99" ry="2.34"/><ellipse cx="1354.98" cy="459.82" rx="20.44" ry="2.34"/><ellipse cx="1388.96" cy="459.49" rx="5.53" ry="2.34"/><ellipse cx="1410.11" cy="459.28" rx="18.6" ry="2.34"/><ellipse cx="1457.78" cy="458.81" rx="22.27" ry="2.34"/><ellipse cx="1496.9" cy="458.42" rx="7.6" ry="2.34"/><ellipse cx="1517.68" cy="458.21" rx="13.71" ry="2.34"/><ellipse cx="1564.74" cy="457.73" rx="20.44" ry="2.34"/><ellipse cx="1591.02" cy="457.46" rx="6.38" ry="2.34"/><ellipse cx="1627.08" cy="457.08" rx="26.55" ry="2.34"/><ellipse cx="1668.03" cy="456.65" rx="11.27" ry="2.34"/><ellipse cx="1696.14" cy="456.35" rx="16.16" ry="2.34"/><ellipse cx="1741.37" cy="455.86" rx="27.16" ry="2.34"/><ellipse cx="1786.59" cy="455.36" rx="16.16" ry="2.34"/></g>
<g stroke="none" fill="#fff" fill-opacity="0.137"><ellipse cx="992.19" cy="463.08" rx="9.88" ry="1.99"/><ellipse cx="1033.51" cy="462.73" rx="15.01" ry="1.99"/><ellipse cx="1082.4" cy="462.31" rx="12.57" ry="1.99"/><ellipse cx="1103.18" cy="462.13" rx="6.45" ry="1.99"/><ellipse cx="1131.29" cy="461.88" rx="11.34" ry="1.99"/><ellipse cx="1152.68" cy="461.69" rx="9.51" ry="1.99"/><ellipse cx="1180.19" cy="461.44" rx="8.9" ry="1.99"/><ellipse cx="1202.19" cy="461.24" rx="12.57" ry="1.99"/><ellipse cx="1229.08" cy="461" rx="6.45" ry="1.99"/><ellipse cx="1252.31" cy="460.78" rx="15.01" ry="1.99"/><ellipse cx="1303.64" cy="460.31" rx="17.46" ry="1.99"/><ellipse cx="1354.98" cy="459.82" rx="19.9" ry="1.99"/><ellipse cx="1388.96" cy="459.49" rx="4.99" ry="1.99"/><ellipse cx="1410.11" cy="459.28" rx="18.07" ry="1.99"/><ellipse cx="1457.78" cy="458.81" rx="21.73" ry="1.99"/><ellipse cx="1496.9" cy="458.42" rx="7.07" ry="1.99"/><ellipse cx="1517.68" cy="458.21" rx="13.18" ry="1.99"/><ellipse cx="1564.74" cy="457.73" rx="19.9" ry="1.99"/><ellipse cx="1591.02" cy="457.46" rx="5.84" ry="1.99"/><ellipse cx="1627.08" cy="457.08" rx="26.01" ry="1.99"/><ellipse cx="1668.03" cy="456.65" rx="10.73" ry="1.99"/><ellipse cx="1696.14" cy="456.35" rx="15.62" ry="1.99"/><ellipse cx="1741.37" cy="455.86" rx="26.62" ry="1.99"/><ellipse cx="1786.59" cy="455.36" rx="15.62" ry="1.99"/></g>
<g stroke="none" fill="#fff" fill-opacity="0.19"><ellipse cx="992.19" cy="463.08" rx="9.51" ry="1.74"/><ellipse cx="1033.51" cy="462.73" rx="14.65" ry="1.74"/><ellipse cx="1082.4" cy="462.31" rx="12.2" ry="1.74"/><ellipse cx="1103.18" cy="462.13" rx="6.09" ry="1.74"/><ellipse cx="1131.29" cy="461.88" rx="10.98" ry="1.74"/><ellipse cx="1152.68" cy="461.69" rx="9.15" ry="1.74"/><ellipse cx="1180.19" cy="461.44" rx="8.53" ry="1.74"/><ellipse cx="1202.19" cy="461.24" rx="12.2" ry="1.74"/><ellipse cx="1229.08" cy="461" rx="6.09" ry="1.74"/><ellipse cx="1252.31" cy="460.78" rx="14.65" ry="1.74"/><ellipse cx="1303.64" cy="460.31" rx="17.09" ry="1.74"/><ellipse cx="1354.98" cy="459.82" rx="19.54" ry="1.74"/><ellipse cx="1388.96" cy="459.49" rx="4.62" ry="1.74"/><ellipse cx="1410.11" cy="459.28" rx="17.7" ry="1.74"/><ellipse cx="1457.78" cy="458.81" rx="21.37" ry="1.74"/><ellipse cx="1496.9" cy="458.42" rx="6.7" ry="1.74"/><ellipse cx="1517.68" cy="458.21" rx="12.81" ry="1.74"/><ellipse cx="1564.74" cy="457.73" rx="19.54" ry="1.74"/><ellipse cx="1591.02" cy="457.46" rx="5.48" ry="1.74"/><ellipse cx="1627.08" cy="457.08" rx="25.65" ry="1.74"/><ellipse cx="1668.03" cy="456.65" rx="10.37" ry="1.74"/><ellipse cx="1696.14" cy="456.35" rx="15.26" ry="1.74"/><ellipse cx="1741.37" cy="455.86" rx="26.26" ry="1.74"/><ellipse cx="1786.59" cy="455.36" rx="15.26" ry="1.74"/></g>
<g stroke="none" fill="#fff" fill-opacity="0.275"><ellipse cx="992.19" cy="463.08" rx="9.23" ry="1.56"/><ellipse cx="1033.51" cy="462.73" rx="14.37" ry="1.56"/><ellipse cx="1082.4" cy="462.31" rx="11.92" ry="1.56"/><ellipse cx="1103.18" cy="462.13" rx="5.81" ry="1.56"/><ellipse cx="1131.29" cy="461.88" rx="10.7" ry="1.56"/><ellipse cx="1152.68" cy="461.69" rx="8.87" ry="1.56"/><ellipse cx="1180.19" cy="461.44" rx="8.25" ry="1.56"/><ellipse cx="1202.19" cy="461.24" rx="11.92" ry="1.56"/><ellipse cx="1229.08" cy="461" rx="5.81" ry="1.56"/><ellipse cx="1252.31" cy="460.78" rx="14.37" ry="1.56"/><ellipse cx="1303.64" cy="460.31" rx="16.81" ry="1.56"/><ellipse cx="1354.98" cy="459.82" rx="19.26" ry="1.56"/><ellipse cx="1388.96" cy="459.49" rx="4.34" ry="1.56"/><ellipse cx="1410.11" cy="459.28" rx="17.42" ry="1.56"/><ellipse cx="1457.78" cy="458.81" rx="21.09" ry="1.56"/><ellipse cx="1496.9" cy="458.42" rx="6.42" ry="1.56"/><ellipse cx="1517.68" cy="458.21" rx="12.53" ry="1.56"/><ellipse cx="1564.74" cy="457.73" rx="19.26" ry="1.56"/><ellipse cx="1591.02" cy="457.46" rx="5.2" ry="1.56"/><ellipse cx="1627.08" cy="457.08" rx="25.37" ry="1.56"/><ellipse cx="1668.03" cy="456.65" rx="10.09" ry="1.56"/><ellipse cx="1696.14" cy="456.35" rx="14.98" ry="1.56"/><ellipse cx="1741.37" cy="455.86" rx="25.98" ry="1.56"/><ellipse cx="1786.59" cy="455.36" rx="14.98" ry="1.56"/></g>
<g stroke="none" fill="#fff" fill-opacity="0.459"><ellipse cx="992.19" cy="463.08" rx="8.98" ry="1.39"/><ellipse cx="1033.51" cy="462.73" rx="14.12" ry="1.39"/><ellipse cx="1082.4" cy="462.31" rx="11.67" ry="1.39"/><ellipse cx="1103.18" cy="462.13" rx="5.56" ry="1.39"/><ellipse cx="1131.29" cy="461.88" rx="10.45" ry="1.39"/><ellipse cx="1152.68" cy="461.69" rx="8.62" ry="1.39"/><ellipse cx="1180.19" cy="461.44" rx="8.01" ry="1.39"/><ellipse cx="1202.19" cy="461.24" rx="11.67" ry="1.39"/><ellipse cx="1229.08" cy="461" rx="5.56" ry="1.39"/><ellipse cx="1252.31" cy="460.78" rx="14.12" ry="1.39"/><ellipse cx="1303.64" cy="460.31" rx="16.56" ry="1.39"/><ellipse cx="1354.98" cy="459.82" rx="19.01" ry="1.39"/><ellipse cx="1388.96" cy="459.49" rx="4.1" ry="1.39"/><ellipse cx="1410.11" cy="459.28" rx="17.17" ry="1.39"/><ellipse cx="1457.78" cy="458.81" rx="20.84" ry="1.39"/><ellipse cx="1496.9" cy="458.42" rx="6.17" ry="1.39"/><ellipse cx="1517.68" cy="458.21" rx="12.29" ry="1.39"/><ellipse cx="1564.74" cy="457.73" rx="19.01" ry="1.39"/><ellipse cx="1591.02" cy="457.46" rx="4.95" ry="1.39"/><ellipse cx="1627.08" cy="457.08" rx="25.12" ry="1.39"/><ellipse cx="1668.03" cy="456.65" rx="9.84" ry="1.39"/><ellipse cx="1696.14" cy="456.35" rx="14.73" ry="1.39"/><ellipse cx="1741.37" cy="455.86" rx="25.73" ry="1.39"/><ellipse cx="1786.59" cy="455.36" rx="14.73" ry="1.39"/></g>
<g stroke="none" fill="#fff" fill-opacity="1"><ellipse cx="992.19" cy="463.08" rx="8.76" ry="1.24"/><ellipse cx="1033.51" cy="462.73" rx="13.89" ry="1.24"/><ellipse cx="1082.4" cy="462.31" rx="11.45" ry="1.24"/><ellipse cx="1103.18" cy="462.13" rx="5.33" ry="1.24"/><ellipse cx="1131.29" cy="461.88" rx="10.22" ry="1.24"/><ellipse cx="1152.68" cy="461.69" rx="8.39" ry="1.24"/><ellipse cx="1180.19" cy="461.44" rx="7.78" ry="1.24"/><ellipse cx="1202.19" cy="461.24" rx="11.45" ry="1.24"/><ellipse cx="1229.08" cy="461" rx="5.33" ry="1.24"/><ellipse cx="1252.31" cy="460.78" rx="13.89" ry="1.24"/><ellipse cx="1303.64" cy="460.31" rx="16.34" ry="1.24"/><ellipse cx="1354.98" cy="459.82" rx="18.78" ry="1.24"/><ellipse cx="1388.96" cy="459.49" rx="3.87" ry="1.24"/><ellipse cx="1410.11" cy="459.28" rx="16.95" ry="1.24"/><ellipse cx="1457.78" cy="458.81" rx="20.61" ry="1.24"/><ellipse cx="1496.9" cy="458.42" rx="5.95" ry="1.24"/><ellipse cx="1517.68" cy="458.21" rx="12.06" ry="1.24"/><ellipse cx="1564.74" cy="457.73" rx="18.78" ry="1.24"/><ellipse cx="1591.02" cy="457.46" rx="4.72" ry="1.24"/><ellipse cx="1627.08" cy="457.08" rx="24.89" ry="1.24"/><ellipse cx="1668.03" cy="456.65" rx="9.61" ry="1.24"/><ellipse cx="1696.14" cy="456.35" rx="14.5" ry="1.24"/><ellipse cx="1741.37" cy="455.86" rx="25.5" ry="1.24"/><ellipse cx="1786.59" cy="455.36" rx="14.5" ry="1.24"/></g>
<g stroke="none" fill="#fff" fill-opacity="0.04"><ellipse cx="994.02" cy="500.05" rx="15.98" ry="5.08"/><ellipse cx="1035.95" cy="499.68" rx="20.5" ry="5.08"/><ellipse cx="1084.84" cy="499.23" rx="18.06" ry="5.08"/><ellipse cx="1105.62" cy="499.04" rx="11.95" ry="5.08"/><ellipse cx="1132.52" cy="498.8" rx="15.61" ry="5.08"/><ellipse cx="1155.13" cy="498.59" rx="15" ry="5.08"/><ellipse cx="1182.02" cy="498.34" rx="13.78" ry="5.08"/><ellipse cx="1205.25" cy="498.12" rx="17.45" ry="5.08"/><ellipse cx="1230.91" cy="497.88" rx="10.11" ry="5.08"/><ellipse cx="1254.75" cy="497.66" rx="20.5" ry="5.08"/><ellipse cx="1306.09" cy="497.18" rx="22.95" ry="5.08"/><ellipse cx="1356.82" cy="496.7" rx="24.78" ry="5.08"/><ellipse cx="1389.57" cy="496.38" rx="8.65" ry="5.08"/><ellipse cx="1411.95" cy="496.17" rx="24.17" ry="5.08"/><ellipse cx="1460.84" cy="495.7" rx="27.84" ry="5.08"/><ellipse cx="1498.73" cy="495.33" rx="10.73" ry="5.08"/><ellipse cx="1521.35" cy="495.11" rx="19.89" ry="5.08"/><ellipse cx="1566.57" cy="494.66" rx="24.78" ry="5.08"/><ellipse cx="1593.46" cy="494.39" rx="11.34" ry="5.08"/><ellipse cx="1629.52" cy="494.04" rx="31.51" ry="5.08"/><ellipse cx="1669.86" cy="493.63" rx="15.61" ry="5.08"/><ellipse cx="1697.36" cy="493.36" rx="19.89" ry="5.08"/><ellipse cx="1743.81" cy="492.89" rx="32.12" ry="5.08"/><ellipse cx="1787.82" cy="492.44" rx="18.67" ry="5.08"/></g>
<g stroke="none" fill="#fff" fill-opacity="0.042"><ellipse cx="994.02" cy="500.05" rx="14.97" ry="4.41"/><ellipse cx="1035.95" cy="499.68" rx="19.49" ry="4.41"/><ellipse cx="1084.84" cy="499.23" rx="17.05" ry="4.41"/><ellipse cx="1105.62" cy="499.04" rx="10.93" ry="4.41"/><ellipse cx="1132.52" cy="498.8" rx="14.6" ry="4.41"/><ellipse cx="1155.13" cy="498.59" rx="13.99" ry="4.41"/><ellipse cx="1182.02" cy="498.34" rx="12.77" ry="4.41"/><ellipse cx="1205.25" cy="498.12" rx="16.44" ry="4.41"/><ellipse cx="1230.91" cy="497.88" rx="9.1" ry="4.41"/><ellipse cx="1254.75" cy="497.66" rx="19.49" ry="4.41"/><ellipse cx="1306.09" cy="497.18" rx="21.94" ry="4.41"/><ellipse cx="1356.82" cy="496.7" rx="23.77" ry="4.41"/><ellipse cx="1389.57" cy="496.38" rx="7.63" ry="4.41"/><ellipse cx="1411.95" cy="496.17" rx="23.16" ry="4.41"/><ellipse cx="1460.84" cy="495.7" rx="26.83" ry="4.41"/><ellipse cx="1498.73" cy="495.33" rx="9.71" ry="4.41"/><ellipse cx="1521.35" cy="495.11" rx="18.88" ry="4.41"/><ellipse cx="1566.57" cy="494.66" rx="23.77" ry="4.41"/><ellipse cx="1593.46" cy="494.39" rx="10.32" ry="4.41"/><ellipse cx="1629.52" cy="494.04" rx="30.49" ry="4.41"/><ellipse cx="1669.86" cy="493.63" rx="14.6" ry="4.41"/><ellipse cx="1697.36" cy="493.36" rx="18.88" ry="4.41"/><ellipse cx="1743.81" cy="492.89" rx="31.1" ry="4.41"/><ellipse cx="1787.82" cy="492.44" rx="17.66" ry="4.41"/></g>
<g stroke="none" fill="#fff" fill-opacity="0.054"><ellipse cx="994.02" cy="500.05" rx="14.15" ry="3.87"/><ellipse cx="1035.95" cy="499.68" rx="18.68" ry="3.87"/><ellipse cx="1084.84" cy="499.23" rx="16.23" ry="3.87"/><ellipse cx="1105.62" cy="499.04" rx="10.12" ry="3.87"/><ellipse cx="1132.52" cy="498.8" rx="13.79" ry="3.87"/><ellipse cx="1155.13" cy="498.59" rx="13.18" ry="3.87"/><ellipse cx="1182.02" cy="498.34" rx="11.95" ry="3.87"/><ellipse cx="1205.25" cy="498.12" rx="15.62" ry="3.87"/><ellipse cx="1230.91" cy="497.88" rx="8.29" ry="3.87"/><ellipse cx="1254.75" cy="497.66" rx="18.68" ry="3.87"/><ellipse cx="1306.09" cy="497.18" rx="21.12" ry="3.87"/><ellipse cx="1356.82" cy="496.7" rx="22.96" ry="3.87"/><ellipse cx="1389.57" cy="496.38" rx="6.82" ry="3.87"/><ellipse cx="1411.95" cy="496.17" rx="22.34" ry="3.87"/><ellipse cx="1460.84" cy="495.7" rx="26.01" ry="3.87"/><ellipse cx="1498.73" cy="495.33" rx="8.9" ry="3.87"/><ellipse cx="1521.35" cy="495.11" rx="18.07" ry="3.87"/><ellipse cx="1566.57" cy="494.66" rx="22.96" ry="3.87"/><ellipse cx="1593.46" cy="494.39" rx="9.51" ry="3.87"/><ellipse cx="1629.52" cy="494.04" rx="29.68" ry="3.87"/><ellipse cx="1669.86" cy="493.63" rx="13.79" ry="3.87"/><ellipse cx="1697.36" cy="493.36" rx="18.07" ry="3.87"/><ellipse cx="1743.81" cy="492.89" rx="30.29" ry="3.87"/><ellipse cx="1787.82" cy="492.44" rx="16.84" ry="3.87"/></g>
<g stroke="none" fill="#fff" fill-opacity="0.069"><ellipse cx="994.02" cy="500.05" rx="13.43" ry="3.38"/><ellipse cx="1035.95" cy="499.68" rx="17.95" ry="3.38"/><ellipse cx="1084.84" cy="499.23" rx="15.51" ry="3.38"/><ellipse cx="1105.62" cy="499.04" rx="9.4" ry="3.38"/><ellipse cx="1132.52" cy="498.8" rx="13.06" ry="3.38"/><ellipse cx="1155.13" cy="498.59" rx="12.45" ry="3.38"/><ellipse cx="1182.02" cy="498.34" rx="11.23" ry="3.38"/><ellipse cx="1205.25" cy="498.12" rx="14.9" ry="3.38"/><ellipse cx="1230.91" cy="497.88" rx="7.56" ry="3.38"/><ellipse cx="1254.75" cy="497.66" rx="17.95" ry="3.38"/><ellipse cx="1306.09" cy="497.18" rx="20.4" ry="3.38"/><ellipse cx="1356.82" cy="496.7" rx="22.23" ry="3.38"/><ellipse cx="1389.57" cy="496.38" rx="6.1" ry="3.38"/><ellipse cx="1411.95" cy="496.17" rx="21.62" ry="3.38"/><ellipse cx="1460.84" cy="495.7" rx="25.29" ry="3.38"/><ellipse cx="1498.73" cy="495.33" rx="8.17" ry="3.38"/><ellipse cx="1521.35" cy="495.11" rx="17.34" ry="3.38"/><ellipse cx="1566.57" cy="494.66" rx="22.23" ry="3.38"/><ellipse cx="1593.46" cy="494.39" rx="8.79" ry="3.38"/><ellipse cx="1629.52" cy="494.04" rx="28.95" ry="3.38"/><ellipse cx="1669.86" cy="493.63" rx="13.06" ry="3.38"/><ellipse cx="1697.36" cy="493.36" rx="17.34" ry="3.38"/><ellipse cx="1743.81" cy="492.89" rx="29.57" ry="3.38"/><ellipse cx="1787.82" cy="492.44" rx="16.12" ry="3.38"/></g>
<g stroke="none" fill="#fff" fill-opacity="0.099"><ellipse cx="994.02" cy="500.05" rx="12.67" ry="2.87"/><ellipse cx="1035.95" cy="499.68" rx="17.19" ry="2.87"/><ellipse cx="1084.84" cy="499.23" rx="14.75" ry="2.87"/><ellipse cx="1105.62" cy="499.04" rx="8.63" ry="2.87"/><ellipse cx="1132.52" cy="498.8" rx="12.3" ry="2.87"/><ellipse cx="1155.13" cy="498.59" rx="11.69" ry="2.87"/><ellipse cx="1182.02" cy="498.34" rx="10.47" ry="2.87"/><ellipse cx="1205.25" cy="498.12" rx="14.13" ry="2.87"/><ellipse cx="1230.91" cy="497.88" rx="6.8" ry="2.87"/><ellipse cx="1254.75" cy="497.66" rx="17.19" ry="2.87"/><ellipse cx="1306.09" cy="497.18" rx="19.64" ry="2.87"/><ellipse cx="1356.82" cy="496.7" rx="21.47" ry="2.87"/><ellipse cx="1389.57" cy="496.38" rx="5.33" ry="2.87"/><ellipse cx="1411.95" cy="496.17" rx="20.86" ry="2.87"/><ellipse cx="1460.84" cy="495.7" rx="24.52" ry="2.87"/><ellipse cx="1498.73" cy="495.33" rx="7.41" ry="2.87"/><ellipse cx="1521.35" cy="495.11" rx="16.58" ry="2.87"/><ellipse cx="1566.57" cy="494.66" rx="21.47" ry="2.87"/><ellipse cx="1593.46" cy="494.39" rx="8.02" ry="2.87"/><ellipse cx="1629.52" cy="494.04" rx="28.19" ry="2.87"/><ellipse cx="1669.86" cy="493.63" rx="12.3" ry="2.87"/><ellipse cx="1697.36" cy="493.36" rx="16.58" ry="2.87"/><ellipse cx="1743.81" cy="492.89" rx="28.8" ry="2.87"/><ellipse cx="1787.82" cy="492.44" rx="15.36" ry="2.87"/></g>
<g stroke="none" fill="#fff" fill-opacity="0.137"><ellipse cx="994.02" cy="500.05" rx="11.97" ry="2.41"/><ellipse cx="1035.95" cy="499.68" rx="16.49" ry="2.41"/><ellipse cx="1084.84" cy="499.23" rx="14.04" ry="2.41"/><ellipse cx="1105.62" cy="499.04" rx="7.93" ry="2.41"/><ellipse cx="1132.52" cy="498.8" rx="11.6" ry="2.41"/><ellipse cx="1155.13" cy="498.59" rx="10.99" ry="2.41"/><ellipse cx="1182.02" cy="498.34" rx="9.77" ry="2.41"/><ellipse cx="1205.25" cy="498.12" rx="13.43" ry="2.41"/><ellipse cx="1230.91" cy="497.88" rx="6.1" ry="2.41"/><ellipse cx="1254.75" cy="497.66" rx="16.49" ry="2.41"/><ellipse cx="1306.09" cy="497.18" rx="18.93" ry="2.41"/><ellipse cx="1356.82" cy="496.7" rx="20.77" ry="2.41"/><ellipse cx="1389.57" cy="496.38" rx="4.63" ry="2.41"/><ellipse cx="1411.95" cy="496.17" rx="20.16" ry="2.41"/><ellipse cx="1460.84" cy="495.7" rx="23.82" ry="2.41"/><ellipse cx="1498.73" cy="495.33" rx="6.71" ry="2.41"/><ellipse cx="1521.35" cy="495.11" rx="15.88" ry="2.41"/><ellipse cx="1566.57" cy="494.66" rx="20.77" ry="2.41"/><ellipse cx="1593.46" cy="494.39" rx="7.32" ry="2.41"/><ellipse cx="1629.52" cy="494.04" rx="27.49" ry="2.41"/><ellipse cx="1669.86" cy="493.63" rx="11.6" ry="2.41"/><ellipse cx="1697.36" cy="493.36" rx="15.88" ry="2.41"/><ellipse cx="1743.81" cy="492.89" rx="28.1" ry="2.41"/><ellipse cx="1787.82" cy="492.44" rx="14.65" ry="2.41"/></g>
<g stroke="none" fill="#fff" fill-opacity="0.19"><ellipse cx="994.02" cy="500.05" rx="11.46" ry="2.07"/><ellipse cx="1035.95" cy="499.68" rx="15.98" ry="2.07"/><ellipse cx="1084.84" cy="499.23" rx="13.53" ry="2.07"/><ellipse cx="1105.62" cy="499.04" rx="7.42" ry="2.07"/><ellipse cx="1132.52" cy="498.8" rx="11.09" ry="2.07"/><ellipse cx="1155.13" cy="498.59" rx="10.48" ry="2.07"/><ellipse cx="1182.02" cy="498.34" rx="9.26" ry="2.07"/><ellipse cx="1205.25" cy="498.12" rx="12.92" ry="2.07"/><ellipse cx="1230.91" cy="497.88" rx="5.59" ry="2.07"/><ellipse cx="1254.75" cy="497.66" rx="15.98" ry="2.07"/><ellipse cx="1306.09" cy="497.18" rx="18.42" ry="2.07"/><ellipse cx="1356.82" cy="496.7" rx="20.26" ry="2.07"/><ellipse cx="1389.57" cy="496.38" rx="4.12" ry="2.07"/><ellipse cx="1411.95" cy="496.17" rx="19.65" ry="2.07"/><ellipse cx="1460.84" cy="495.7" rx="23.31" ry="2.07"/><ellipse cx="1498.73" cy="495.33" rx="6.2" ry="2.07"/><ellipse cx="1521.35" cy="495.11" rx="15.37" ry="2.07"/><ellipse cx="1566.57" cy="494.66" rx="20.26" ry="2.07"/><ellipse cx="1593.46" cy="494.39" rx="6.81" ry="2.07"/><ellipse cx="1629.52" cy="494.04" rx="26.98" ry="2.07"/><ellipse cx="1669.86" cy="493.63" rx="11.09" ry="2.07"/><ellipse cx="1697.36" cy="493.36" rx="15.37" ry="2.07"/><ellipse cx="1743.81" cy="492.89" rx="27.59" ry="2.07"/><ellipse cx="1787.82" cy="492.44" rx="14.14" ry="2.07"/></g>
<g stroke="none" fill="#fff" fill-opacity="0.275"><ellipse cx="994.02" cy="500.05" rx="11.1" ry="1.83"/><ellipse cx="1035.95" cy="499.68" rx="15.63" ry="1.83"/><ellipse cx="1084.84" cy="499.23" rx="13.18" ry="1.83"/><ellipse cx="1105.62" cy="499.04" rx="7.07" ry="1.83"/><ellipse cx="1132.52" cy="498.8" rx="10.74" ry="1.83"/><ellipse cx="1155.13" cy="498.59" rx="10.13" ry="1.83"/><ellipse cx="1182.02" cy="498.34" rx="8.9" ry="1.83"/><ellipse cx="1205.25" cy="498.12" rx="12.57" ry="1.83"/><ellipse cx="1230.91" cy="497.88" rx="5.24" ry="1.83"/><ellipse cx="1254.75" cy="497.66" rx="15.63" ry="1.83"/><ellipse cx="1306.09" cy="497.18" rx="18.07" ry="1.83"/><ellipse cx="1356.82" cy="496.7" rx="19.9" ry="1.83"/><ellipse cx="1389.57" cy="496.38" rx="3.77" ry="1.83"/><ellipse cx="1411.95" cy="496.17" rx="19.29" ry="1.83"/><ellipse cx="1460.84" cy="495.7" rx="22.96" ry="1.83"/><ellipse cx="1498.73" cy="495.33" rx="5.85" ry="1.83"/><ellipse cx="1521.35" cy="495.11" rx="15.02" ry="1.83"/><ellipse cx="1566.57" cy="494.66" rx="19.9" ry="1.83"/><ellipse cx="1593.46" cy="494.39" rx="6.46" ry="1.83"/><ellipse cx="1629.52" cy="494.04" rx="26.63" ry="1.83"/><ellipse cx="1669.86" cy="493.63" rx="10.74" ry="1.83"/><ellipse cx="1697.36" cy="493.36" rx="15.02" ry="1.83"/><ellipse cx="1743.81" cy="492.89" rx="27.24" ry="1.83"/><ellipse cx="1787.82" cy="492.44" rx="13.79" ry="1.83"/></g>
<g stroke="none" fill="#fff" fill-opacity="0.459"><ellipse cx="994.02" cy="500.05" rx="10.82" ry="1.64"/><ellipse cx="1035.95" cy="499.68" rx="15.35" ry="1.64"/><ellipse cx="1084.84" cy="499.23" rx="12.9" ry="1.64"/><ellipse cx="1105.62" cy="499.04" rx="6.79" ry="1.64"/><ellipse cx="1132.52" cy="498.8" rx="10.46" ry="1.64"/><ellipse cx="1155.13" cy="498.59" rx="9.85" ry="1.64"/><ellipse cx="1182.02" cy="498.34" rx="8.62" ry="1.64"/><ellipse cx="1205.25" cy="498.12" rx="12.29" ry="1.64"/><ellipse cx="1230.91" cy="497.88" rx="4.96" ry="1.64"/><ellipse cx="1254.75" cy="497.66" rx="15.35" ry="1.64"/><ellipse cx="1306.09" cy="497.18" rx="17.79" ry="1.64"/><ellipse cx="1356.82" cy="496.7" rx="19.62" ry="1.64"/><ellipse cx="1389.57" cy="496.38" rx="3.49" ry="1.64"/><ellipse cx="1411.95" cy="496.17" rx="19.01" ry="1.64"/><ellipse cx="1460.84" cy="495.7" rx="22.68" ry="1.64"/><ellipse cx="1498.73" cy="495.33" rx="5.57" ry="1.64"/><ellipse cx="1521.35" cy="495.11" rx="14.73" ry="1.64"/><ellipse cx="1566.57" cy="494.66" rx="19.62" ry="1.64"/><ellipse cx="1593.46" cy="494.39" rx="6.18" ry="1.64"/><ellipse cx="1629.52" cy="494.04" rx="26.35" ry="1.64"/><ellipse cx="1669.86" cy="493.63" rx="10.46" ry="1.64"/><ellipse cx="1697.36" cy="493.36" rx="14.73" ry="1.64"/><ellipse cx="1743.81" cy="492.89" rx="26.96" ry="1.64"/><ellipse cx="1787.82" cy="492.44" rx="13.51" ry="1.64"/></g>
<g stroke="none" fill="#fff" fill-opacity="1"><ellipse cx="994.02" cy="500.05" rx="10.58" ry="1.49"/><ellipse cx="1035.95" cy="499.68" rx="15.11" ry="1.49"/><ellipse cx="1084.84" cy="499.23" rx="12.66" ry="1.49"/><ellipse cx="1105.62" cy="499.04" rx="6.55" ry="1.49"/><ellipse cx="1132.52" cy="498.8" rx="10.22" ry="1.49"/><ellipse cx="1155.13" cy="498.59" rx="9.61" ry="1.49"/><ellipse cx="1182.02" cy="498.34" rx="8.38" ry="1.49"/><ellipse cx="1205.25" cy="498.12" rx="12.05" ry="1.49"/><ellipse cx="1230.91" cy="497.88" rx="4.72" ry="1.49"/><ellipse cx="1254.75" cy="497.66" rx="15.11" ry="1.49"/><ellipse cx="1306.09" cy="497.18" rx="17.55" ry="1.49"/><ellipse cx="1356.82" cy="496.7" rx="19.39" ry="1.49"/><ellipse cx="1389.57" cy="496.38" rx="3.25" ry="1.49"/><ellipse cx="1411.95" cy="496.17" rx="18.77" ry="1.49"/><ellipse cx="1460.84" cy="495.7" rx="22.44" ry="1.49"/><ellipse cx="1498.73" cy="495.33" rx="5.33" ry="1.49"/><ellipse cx="1521.35" cy="495.11" rx="14.5" ry="1.49"/><ellipse cx="1566.57" cy="494.66" rx="19.39" ry="1.49"/><ellipse cx="1593.46" cy="494.39" rx="5.94" ry="1.49"/><ellipse cx="1629.52" cy="494.04" rx="26.11" ry="1.49"/><ellipse cx="1669.86" cy="493.63" rx="10.22" ry="1.49"/><ellipse cx="1697.36" cy="493.36" rx="14.5" ry="1.49"/><ellipse cx="1743.81" cy="492.89" rx="26.72" ry="1.49"/><ellipse cx="1787.82" cy="492.44" rx="13.27" ry="1.49"/></g>
<defs><path id="t1_18" d="M1013.5 594.03Q1208.75 592.29 1404 590.66M1411.5 590.6Q1452.25 590.26 1493 589.92M1504.5 589.83Q1653.75 588.6 1803 587.44"/></defs>
<use href="#t1_18" stroke-width="10.17" stroke-opacity="0.04"/>
<use href="#t1_18" stroke-width="8.82" stroke-opacity="0.042"/>
<use href="#t1_18" stroke-width="7.73" stroke-opacity="0.054"/>
<use href="#t1_18" stroke-width="6.76" stroke-opacity="0.069"/>
<use href="#t1_18" stroke-width="5.75" stroke-opacity="0.099"/>
<use href="#t1_18" stroke-width="4.81" stroke-opacity="0.137"/>
<use href="#t1_18" stroke-width="4.13" stroke-opacity="0.19"/>
<use href="#t1_18" stroke-width="3.66" stroke-opacity="0.275"/>
<use href="#t1_18" stroke-width="3.29" stroke-opacity="0.459"/>
<use href="#t1_18" stroke-width="2.97" stroke-opacity="1"/>
<defs><path id="t1_19" d="M1013.5 630.63Q1211.25 628.86 1409 627.16M1414 627.12Q1456 626.76 1498 626.4M1505.5 626.34Q1654.25 625.08 1803 623.86M983 630.9Q984 630.89 985 630.88"/></defs>
<use href="#t1_19" stroke-width="10.83" stroke-opacity="0.04"/>
<use href="#t1_19" stroke-width="9.58" stroke-opacity="0.042"/>
<use href="#t1_19" stroke-width="8.59" stroke-opacity="0.054"/>
<use href="#t1_19" stroke-width="7.73" stroke-opacity="0.069"/>
<use href="#t1_19" stroke-width="6.84" stroke-opacity="0.099"/>
<use href="#t1_19" stroke-width="5.94" stroke-opacity="0.137"/>
<use href="#t1_19" stroke-width="5.09" stroke-opacity="0.19"/>
<use href="#t1_19" stroke-width="4.42" stroke-opacity="0.275"/>
<use href="#t1_19" stroke-width="3.91" stroke-opacity="0.459"/>
<use href="#t1_19" stroke-width="3.53" stroke-opacity="1"/>
<defs><path id="t1_20" d="M984 750.3Q994 750.23 1004 750.15M1022 750.03Q1061 749.75 1100 749.48M1590 745.98Q1615 745.8 1640 745.62M1755 744.79Q1777.5 744.62 1800 744.46"/></defs>
<use href="#t1_20" stroke-width="4.85" stroke-opacity="0.04"/>
<use href="#t1_20" stroke-width="3.43" stroke-opacity="0.042"/>
<use href="#t1_20" stroke-width="2.74" stroke-opacity="0.054"/>
<use href="#t1_20" stroke-width="2.22" stroke-opacity="0.069"/>
<use href="#t1_20" stroke-width="1.67" stroke-opacity="0.099"/>
<use href="#t1_20" stroke-width="1.02" stroke-opacity="0.137"/>
<use href="#t1_20" stroke-width="0.9" stroke-opacity="0.127"/>
<defs><path id="t1_21" d="M984 787.34Q998 787.24 1012 787.14M1027 787.03Q1068.5 786.73 1110 786.42M1600 782.7Q1625 782.5 1650 782.3M1725 781.71Q1762.5 781.41 1800 781.11"/></defs>
<use href="#t1_21" stroke-width="4.85" stroke-opacity="0.04"/>
<use href="#t1_21" stroke-width="3.43" stroke-opacity="0.042"/>
<use href="#t1_21" stroke-width="2.74" stroke-opacity="0.054"/>
<use href="#t1_21" stroke-width="2.22" stroke-opacity="0.069"/>
<use href="#t1_21" stroke-width="1.67" stroke-opacity="0.099"/>
<use href="#t1_21" stroke-width="1.02" stroke-opacity="0.137"/>
<use href="#t1_21" stroke-width="0.9" stroke-opacity="0.127"/>
</g>
</g>
<path d="M982.2 165.86Q1392.5 160.61 1802.8 155.53M982.2 181.46Q1392.5 176.67 1802.8 171.43M982.2 201.96Q1392.5 197.17 1802.8 191.93M982.2 217.66Q1392.5 212.87 1802.8 207.63M982.2 248.66Q1392.5 243.61 1802.8 239.13M982.2 264.36Q1392.5 259.36 1802.8 254.73M982.2 284.86Q1392.5 280.41 1802.8 275.33M982.2 300.46Q1392.5 296.11 1802.8 291.13M982.2 344.06Q1392.5 338.76 1802.8 336.24M982.2 359.76Q1392.5 354.41 1802.8 351.64M982.2 380.96Q1392.5 375.91 1802.8 372.64M982.2 396.66Q1392.5 391.31 1802.8 388.54M982.2 454.36Q1392.5 450.91 1802.8 446.43M982.2 470.16Q1392.5 466.76 1802.8 462.13M982.2 491.36Q1392.5 487.91 1802.8 483.43M982.2 507.16Q1392.5 503.26 1802.8 499.34M982.2 585.46Q1392.5 581.96 1802.8 578.84M982.2 601.36Q1392.5 597.51 1802.8 594.24M982.2 622.06Q1392.5 618.36 1802.8 615.04M982.2 637.96Q1392.5 634.28 1802.8 630.89M982.2 741.46Q1392.5 738.56 1802.8 735.64M982.2 757.36Q1392.5 754.51 1802.8 751.44M982.2 778.66Q1392.5 775.46 1802.8 772.24M982.2 794.26Q1392.5 791.51 1802.8 788.14" fill="none" stroke="#000" stroke-width="2.45"/>
<path d="M982.2 165.86Q1392.5 160.61 1802.8 155.53M982.2 181.46Q1392.5 176.67 1802.8 171.43M982.2 201.96Q1392.5 197.17 1802.8 191.93M982.2 217.66Q1392.5 212.87 1802.8 207.63M982.2 248.66Q1392.5 243.61 1802.8 239.13M982.2 264.36Q1392.5 259.36 1802.8 254.73M982.2 284.86Q1392.5 280.41 1802.8 275.33M982.2 300.46Q1392.5 296.11 1802.8 291.13M982.2 344.06Q1392.5 338.76 1802.8 336.24M982.2 359.76Q1392.5 354.41 1802.8 351.64M982.2 380.96Q1392.5 375.91 1802.8 372.64M982.2 396.66Q1392.5 391.31 1802.8 388.54M982.2 454.36Q1392.5 450.91 1802.8 446.43M982.2 470.16Q1392.5 466.76 1802.8 462.13M982.2 491.36Q1392.5 487.91 1802.8 483.43M982.2 507.16Q1392.5 503.26 1802.8 499.34M982.2 585.46Q1392.5 581.96 1802.8 578.84M982.2 601.36Q1392.5 597.51 1802.8 594.24M982.2 622.06Q1392.5 618.36 1802.8 615.04M982.2 637.96Q1392.5 634.28 1802.8 630.89M982.2 741.46Q1392.5 738.56 1802.8 735.64M982.2 757.36Q1392.5 754.51 1802.8 751.44M982.2 778.66Q1392.5 775.46 1802.8 772.24M982.2 794.26Q1392.5 791.51 1802.8 788.14" fill="none" stroke="#fff" stroke-width="2.35" stroke-dasharray="10 10.05" stroke-dashoffset="0.9"/>
</g>
<rect x="982" y="100" width="821" height="713" fill="none" stroke="#000" stroke-width="1.67"/>
<path d="M982 813v7.3M982 813h-7.3M1082 813v7.3M982 726h-7.3M1183 813v7.3M982 638h-7.3M1283 813v7.3M982 551h-7.3M1383 813v7.3M982 464h-7.3M1483 813v7.3M982 377h-7.3M1583 813v7.3M982 290h-7.3M1684 813v7.3M982 203h-7.3M1784 813v7.3M982 116h-7.3" fill="none" stroke="#000" stroke-width="1.67"/>
<g font-size="20.83" text-anchor="middle">
<text x="982" y="842.8">0</text>
<text x="1082" y="842.8">250</text>
<text x="1183" y="842.8">500</text>
<text x="1283" y="842.8">750</text>
<text x="1383" y="842.8">1000</text>
<text x="1483" y="842.8">1250</text>
<text x="1583" y="842.8">1500</text>
<text x="1684" y="842.8">1750</text>
<text x="1784" y="842.8">2000</text>
<text x="1393.1" y="871.8">pixel</text>
</g>
<text x="1392.2" y="86.7" font-size="25" text-anchor="middle">CHIP2</text>
<g clip-path="url(#c2)">
<g filter="url(#cm)">
<rect x="1843" y="98" width="824" height="717" fill="#101010" filter="url(#noiseLo)"/>
<g filter="url(#noiseHi)">
<g filter="url(#soft)">
<path d="M1841 149.11Q2255 144.8 2669 139.94L2669 202.99Q2255 207.47 1841 211.91Z" fill="#181818"/>
<path d="M1841 232.7Q2255 229.03 2669 224.29L2669 287.6Q2255 291.67 1841 295.7Z" fill="#1a1a1a"/>
<path d="M1841 330.25Q2255 326.05 2669 324.08L2669 377.73Q2255 387.68 1841 389.57Z" fill="#363636"/>
<path d="M1841 441.9Q2255 438.32 2669 434.5L2669 495.36Q2255 498.41 1841 502.05Z" fill="#424242"/>
<path d="M1841 573.29Q2255 570.26 2669 567.62L2669 628.92Q2255 631.56 1841 634.59Z" fill="url(#g2_4)"/>
<path d="M1841 730.58Q2255 728.46 2669 725.92L2669 787.82Q2255 790.52 1841 792.58Z" fill="url(#g2_5)"/>
</g>
</g>
<g filter="url(#halo)" fill="none" stroke="#fff">
<path d="M1840 127.53Q2255 122.36 2670 118.8" stroke-width="26" stroke-opacity="0.04"/>
<path d="M1840 127.53Q2255 122.36 2670 118.8" stroke-width="14.3" stroke-opacity="0.04"/>
</g>
<g filter="url(#tsm)" fill="none" stroke="#fff" stroke-linecap="round">
<defs><path id="t2_0" d="M1845 127.47Q1913.35 126.62 1981.7 125.81M2056.6 124.94Q2164.3 123.71 2272 122.58M2276 122.54Q2338.6 121.89 2401.2 121.27M2404.4 121.24Q2417.5 121.11 2430.6 120.99M2433.6 120.96Q2441.9 120.88 2450.2 120.8M2453.2 120.77Q2463.1 120.67 2473 120.58M2487.5 120.44Q2576.25 119.6 2665 118.84"/></defs>
<use href="#t2_0" stroke-width="12.3" stroke-opacity="0.04"/>
<use href="#t2_0" stroke-width="11.21" stroke-opacity="0.042"/>
<use href="#t2_0" stroke-width="10.38" stroke-opacity="0.054"/>
<use href="#t2_0" stroke-width="9.68" stroke-opacity="0.069"/>
<use href="#t2_0" stroke-width="8.99" stroke-opacity="0.099"/>
<use href="#t2_0" stroke-width="8.31" stroke-opacity="0.137"/>
<use href="#t2_0" stroke-width="7.66" stroke-opacity="0.19"/>
<use href="#t2_0" stroke-width="7.03" stroke-opacity="0.275"/>
<use href="#t2_0" stroke-width="6.38" stroke-opacity="0.459"/>
<use href="#t2_0" stroke-width="5.71" stroke-opacity="1"/>
<defs><path id="t2_1" d="M1990 125.71Q1997.9 125.62 2005.8 125.53"/></defs>
<use href="#t2_1" stroke-width="12.2" stroke-opacity="0.04"/>
<use href="#t2_1" stroke-width="11.1" stroke-opacity="0.042"/>
<use href="#t2_1" stroke-width="10.26" stroke-opacity="0.054"/>
<use href="#t2_1" stroke-width="9.55" stroke-opacity="0.069"/>
<use href="#t2_1" stroke-width="8.85" stroke-opacity="0.099"/>
<use href="#t2_1" stroke-width="8.16" stroke-opacity="0.137"/>
<use href="#t2_1" stroke-width="7.5" stroke-opacity="0.19"/>
<use href="#t2_1" stroke-width="6.85" stroke-opacity="0.275"/>
<use href="#t2_1" stroke-width="6.18" stroke-opacity="0.459"/>
<use href="#t2_1" stroke-width="5.51" stroke-opacity="1"/>
<defs><path id="t2_2" d="M2018.6 125.38Q2021.4 125.35 2024.2 125.31"/></defs>
<use href="#t2_2" stroke-width="11.9" stroke-opacity="0.04"/>
<use href="#t2_2" stroke-width="10.77" stroke-opacity="0.042"/>
<use href="#t2_2" stroke-width="9.9" stroke-opacity="0.054"/>
<use href="#t2_2" stroke-width="9.16" stroke-opacity="0.069"/>
<use href="#t2_2" stroke-width="8.42" stroke-opacity="0.099"/>
<use href="#t2_2" stroke-width="7.7" stroke-opacity="0.137"/>
<use href="#t2_2" stroke-width="6.99" stroke-opacity="0.19"/>
<use href="#t2_2" stroke-width="6.3" stroke-opacity="0.275"/>
<use href="#t2_2" stroke-width="5.58" stroke-opacity="0.459"/>
<use href="#t2_2" stroke-width="4.92" stroke-opacity="1"/>
<defs><path id="t2_3" d="M2031 125.23Q2037.2 125.16 2043.4 125.09"/></defs>
<use href="#t2_3" stroke-width="12.1" stroke-opacity="0.04"/>
<use href="#t2_3" stroke-width="10.99" stroke-opacity="0.042"/>
<use href="#t2_3" stroke-width="10.14" stroke-opacity="0.054"/>
<use href="#t2_3" stroke-width="9.42" stroke-opacity="0.069"/>
<use href="#t2_3" stroke-width="8.7" stroke-opacity="0.099"/>
<use href="#t2_3" stroke-width="8.01" stroke-opacity="0.137"/>
<use href="#t2_3" stroke-width="7.33" stroke-opacity="0.19"/>
<use href="#t2_3" stroke-width="6.67" stroke-opacity="0.275"/>
<use href="#t2_3" stroke-width="5.98" stroke-opacity="0.459"/>
<use href="#t2_3" stroke-width="5.31" stroke-opacity="1"/>
<defs><path id="t2_4" d="M2008 125.5Q2012.5 125.45 2017 125.4M2046 125.06Q2050.5 125.01 2055 124.96M2473 120.58Q2480.25 120.51 2487.5 120.44"/></defs>
<use href="#t2_4" stroke-width="8.18" stroke-opacity="0.04"/>
<use href="#t2_4" stroke-width="6.43" stroke-opacity="0.042"/>
<use href="#t2_4" stroke-width="4.98" stroke-opacity="0.054"/>
<use href="#t2_4" stroke-width="4.05" stroke-opacity="0.069"/>
<use href="#t2_4" stroke-width="3.44" stroke-opacity="0.099"/>
<use href="#t2_4" stroke-width="2.98" stroke-opacity="0.137"/>
<use href="#t2_4" stroke-width="2.6" stroke-opacity="0.19"/>
<use href="#t2_4" stroke-width="2.25" stroke-opacity="0.275"/>
<use href="#t2_4" stroke-width="1.9" stroke-opacity="0.459"/>
<use href="#t2_4" stroke-width="1.52" stroke-opacity="1"/>
<g stroke="none" fill="#fff" fill-opacity="0.04"><ellipse cx="2049.75" cy="125.02" rx="6.31" ry="4.67"/></g>
<g stroke="none" fill="#fff" fill-opacity="0.042"><ellipse cx="2049.75" cy="125.02" rx="5.19" ry="3.93"/></g>
<g stroke="none" fill="#fff" fill-opacity="0.054"><ellipse cx="2049.75" cy="125.02" rx="4.26" ry="3.31"/></g>
<g stroke="none" fill="#fff" fill-opacity="0.069"><ellipse cx="2049.75" cy="125.02" rx="3.42" ry="2.75"/></g>
<g stroke="none" fill="#fff" fill-opacity="0.099"><ellipse cx="2049.75" cy="125.02" rx="2.68" ry="2.25"/></g>
<g stroke="none" fill="#fff" fill-opacity="0.137"><ellipse cx="2049.75" cy="125.02" rx="2.18" ry="1.92"/></g>
<g stroke="none" fill="#fff" fill-opacity="0.19"><ellipse cx="2049.75" cy="125.02" rx="1.83" ry="1.69"/></g>
<g stroke="none" fill="#fff" fill-opacity="0.275"><ellipse cx="2049.75" cy="125.02" rx="1.56" ry="1.5"/></g>
<g stroke="none" fill="#fff" fill-opacity="0.459"><ellipse cx="2049.75" cy="125.02" rx="1.31" ry="1.34"/></g>
<g stroke="none" fill="#fff" fill-opacity="1"><ellipse cx="2049.75" cy="125.02" rx="1.08" ry="1.19"/></g>
<defs><path id="t2_6" d="M1983 125.79Q1985.5 125.77 1988 125.74M2025.5 125.3Q2027.5 125.27 2029.5 125.25"/></defs>
<use href="#t2_6" stroke-width="8.46" stroke-opacity="0.04"/>
<use href="#t2_6" stroke-width="6.79" stroke-opacity="0.042"/>
<use href="#t2_6" stroke-width="5.36" stroke-opacity="0.054"/>
<use href="#t2_6" stroke-width="4.33" stroke-opacity="0.069"/>
<use href="#t2_6" stroke-width="3.65" stroke-opacity="0.099"/>
<use href="#t2_6" stroke-width="3.16" stroke-opacity="0.137"/>
<use href="#t2_6" stroke-width="2.77" stroke-opacity="0.19"/>
<use href="#t2_6" stroke-width="2.43" stroke-opacity="0.275"/>
<use href="#t2_6" stroke-width="2.09" stroke-opacity="0.459"/>
<use href="#t2_6" stroke-width="1.74" stroke-opacity="1"/>
<defs><path id="t2_7" d="M2271 122.59Q2274 122.56 2277 122.53M2400.5 121.28Q2402.75 121.26 2405 121.24M2430 120.99Q2432 120.97 2434 120.95M2449.5 120.8Q2451.75 120.78 2454 120.76"/></defs>
<use href="#t2_7" stroke-width="11.57" stroke-opacity="0.04"/>
<use href="#t2_7" stroke-width="10.41" stroke-opacity="0.042"/>
<use href="#t2_7" stroke-width="9.51" stroke-opacity="0.054"/>
<use href="#t2_7" stroke-width="8.74" stroke-opacity="0.069"/>
<use href="#t2_7" stroke-width="7.96" stroke-opacity="0.099"/>
<use href="#t2_7" stroke-width="7.19" stroke-opacity="0.137"/>
<use href="#t2_7" stroke-width="6.43" stroke-opacity="0.19"/>
<use href="#t2_7" stroke-width="5.69" stroke-opacity="0.275"/>
<use href="#t2_7" stroke-width="4.97" stroke-opacity="0.459"/>
<use href="#t2_7" stroke-width="4.38" stroke-opacity="1"/>
<defs><path id="t2_8" d="M1845 163.76Q2255 159.74 2665 154.81"/></defs>
<use href="#t2_8" stroke-width="11.45" stroke-opacity="0.04"/>
<use href="#t2_8" stroke-width="10.27" stroke-opacity="0.042"/>
<use href="#t2_8" stroke-width="9.36" stroke-opacity="0.054"/>
<use href="#t2_8" stroke-width="8.58" stroke-opacity="0.069"/>
<use href="#t2_8" stroke-width="7.78" stroke-opacity="0.099"/>
<use href="#t2_8" stroke-width="6.99" stroke-opacity="0.137"/>
<use href="#t2_8" stroke-width="6.22" stroke-opacity="0.19"/>
<use href="#t2_8" stroke-width="5.46" stroke-opacity="0.275"/>
<use href="#t2_8" stroke-width="4.76" stroke-opacity="0.459"/>
<use href="#t2_8" stroke-width="4.22" stroke-opacity="1"/>
<defs><path id="t2_9" d="M1845 199.96Q2255 195.57 2665 191.14"/></defs>
<use href="#t2_9" stroke-width="12.62" stroke-opacity="0.04"/>
<use href="#t2_9" stroke-width="11.56" stroke-opacity="0.042"/>
<use href="#t2_9" stroke-width="10.75" stroke-opacity="0.054"/>
<use href="#t2_9" stroke-width="10.08" stroke-opacity="0.069"/>
<use href="#t2_9" stroke-width="9.41" stroke-opacity="0.099"/>
<use href="#t2_9" stroke-width="8.77" stroke-opacity="0.137"/>
<use href="#t2_9" stroke-width="8.16" stroke-opacity="0.19"/>
<use href="#t2_9" stroke-width="7.57" stroke-opacity="0.275"/>
<use href="#t2_9" stroke-width="6.96" stroke-opacity="0.459"/>
<use href="#t2_9" stroke-width="6.35" stroke-opacity="1"/>
<defs><path id="t2_10" d="M1845 247.51Q2255 243.65 2665 239.04"/></defs>
<use href="#t2_10" stroke-width="11.57" stroke-opacity="0.04"/>
<use href="#t2_10" stroke-width="10.41" stroke-opacity="0.042"/>
<use href="#t2_10" stroke-width="9.51" stroke-opacity="0.054"/>
<use href="#t2_10" stroke-width="8.74" stroke-opacity="0.069"/>
<use href="#t2_10" stroke-width="7.96" stroke-opacity="0.099"/>
<use href="#t2_10" stroke-width="7.19" stroke-opacity="0.137"/>
<use href="#t2_10" stroke-width="6.43" stroke-opacity="0.19"/>
<use href="#t2_10" stroke-width="5.69" stroke-opacity="0.275"/>
<use href="#t2_10" stroke-width="4.97" stroke-opacity="0.459"/>
<use href="#t2_10" stroke-width="4.38" stroke-opacity="1"/>
<defs><path id="t2_11" d="M1845 283.76Q2255 279.95 2665 275.59"/></defs>
<use href="#t2_11" stroke-width="12.73" stroke-opacity="0.04"/>
<use href="#t2_11" stroke-width="11.68" stroke-opacity="0.042"/>
<use href="#t2_11" stroke-width="10.88" stroke-opacity="0.054"/>
<use href="#t2_11" stroke-width="10.22" stroke-opacity="0.069"/>
<use href="#t2_11" stroke-width="9.56" stroke-opacity="0.099"/>
<use href="#t2_11" stroke-width="8.93" stroke-opacity="0.137"/>
<use href="#t2_11" stroke-width="8.33" stroke-opacity="0.19"/>
<use href="#t2_11" stroke-width="7.75" stroke-opacity="0.275"/>
<use href="#t2_11" stroke-width="7.16" stroke-opacity="0.459"/>
<use href="#t2_11" stroke-width="6.56" stroke-opacity="1"/>
<defs><path id="t2_12" d="M1845 455.09Q1856.27 454.99 1867.54 454.9M1872.91 454.85Q1899.93 454.62 1926.94 454.39M1932.08 454.35Q1959.7 454.11 1987.33 453.88M1992.7 453.83Q2006.88 453.71 2021.06 453.59M2026.2 453.54Q2037.08 453.45 2047.95 453.36M2053.09 453.31Q2130.83 452.64 2208.57 451.97M2213.95 451.92Q2307.34 451.1 2400.73 450.27M2404.15 450.24Q2499.74 449.39 2595.32 448.52M2601.19 448.47Q2633.1 448.18 2665 447.89"/></defs>
<use href="#t2_12" stroke-width="10.17" stroke-opacity="0.04"/>
<use href="#t2_12" stroke-width="8.82" stroke-opacity="0.042"/>
<use href="#t2_12" stroke-width="7.73" stroke-opacity="0.054"/>
<use href="#t2_12" stroke-width="6.76" stroke-opacity="0.069"/>
<use href="#t2_12" stroke-width="5.75" stroke-opacity="0.099"/>
<use href="#t2_12" stroke-width="4.81" stroke-opacity="0.137"/>
<use href="#t2_12" stroke-width="4.13" stroke-opacity="0.19"/>
<use href="#t2_12" stroke-width="3.66" stroke-opacity="0.275"/>
<use href="#t2_12" stroke-width="3.29" stroke-opacity="0.459"/>
<use href="#t2_12" stroke-width="2.97" stroke-opacity="1"/>
<defs><path id="t2_13" d="M1845 491.49Q1856.51 491.39 1868.03 491.29M1872.91 491.25Q1900.3 491.02 1927.68 490.79M1932.57 490.75Q1960.68 490.52 1988.79 490.29M1993.68 490.25Q2008.35 490.12 2023.02 490M2027.91 489.96Q2038.42 489.88 2048.93 489.79M2053.58 489.75Q2131.93 489.11 2210.28 488.47M2214.93 488.43Q2309.17 487.67 2403.41 486.92M2406.1 486.9Q2502.42 486.13 2598.75 485.38M2603.63 485.34Q2634.32 485.1 2665 484.87"/></defs>
<use href="#t2_13" stroke-width="11.01" stroke-opacity="0.04"/>
<use href="#t2_13" stroke-width="9.78" stroke-opacity="0.042"/>
<use href="#t2_13" stroke-width="8.82" stroke-opacity="0.054"/>
<use href="#t2_13" stroke-width="7.98" stroke-opacity="0.069"/>
<use href="#t2_13" stroke-width="7.12" stroke-opacity="0.099"/>
<use href="#t2_13" stroke-width="6.26" stroke-opacity="0.137"/>
<use href="#t2_13" stroke-width="5.41" stroke-opacity="0.19"/>
<use href="#t2_13" stroke-width="4.69" stroke-opacity="0.275"/>
<use href="#t2_13" stroke-width="4.12" stroke-opacity="0.459"/>
<use href="#t2_13" stroke-width="3.7" stroke-opacity="1"/>
<defs><path id="t2_14" d="M1845 586.66Q1908.5 586.24 1972 585.82M1993.5 585.68Q2149.75 584.63 2306 583.56M2428 582.71Q2506 582.17 2584 581.62M2626 581.32Q2645.5 581.18 2665 581.04"/></defs>
<use href="#t2_14" stroke-width="9.91" stroke-opacity="0.04"/>
<use href="#t2_14" stroke-width="8.51" stroke-opacity="0.042"/>
<use href="#t2_14" stroke-width="7.39" stroke-opacity="0.054"/>
<use href="#t2_14" stroke-width="6.37" stroke-opacity="0.069"/>
<use href="#t2_14" stroke-width="5.32" stroke-opacity="0.099"/>
<use href="#t2_14" stroke-width="4.44" stroke-opacity="0.137"/>
<use href="#t2_14" stroke-width="3.86" stroke-opacity="0.19"/>
<use href="#t2_14" stroke-width="3.44" stroke-opacity="0.275"/>
<use href="#t2_14" stroke-width="3.08" stroke-opacity="0.459"/>
<use href="#t2_14" stroke-width="2.78" stroke-opacity="1"/>
<defs><path id="t2_15" d="M2322 583.45Q2328.5 583.4 2335 583.36M2420 582.77Q2426 582.73 2432 582.68M2580 581.64Q2585 581.61 2590 581.57"/></defs>
<use href="#t2_15" stroke-width="4.85" stroke-opacity="0.04"/>
<use href="#t2_15" stroke-width="3.43" stroke-opacity="0.042"/>
<use href="#t2_15" stroke-width="2.74" stroke-opacity="0.054"/>
<use href="#t2_15" stroke-width="2.22" stroke-opacity="0.069"/>
<use href="#t2_15" stroke-width="1.67" stroke-opacity="0.099"/>
<use href="#t2_15" stroke-width="1.02" stroke-opacity="0.137"/>
<use href="#t2_15" stroke-width="0.9" stroke-opacity="0.127"/>
<defs><path id="t2_16" d="M1845 623.26Q1911 622.81 1977 622.36M1992.5 622.26Q2152.25 621.17 2312 620.06M2323.5 619.99Q2333.5 619.92 2343.5 619.85M2424 619.29Q2509 618.7 2594 618.11M2625 617.9Q2645 617.76 2665 617.62"/></defs>
<use href="#t2_16" stroke-width="10.41" stroke-opacity="0.04"/>
<use href="#t2_16" stroke-width="9.09" stroke-opacity="0.042"/>
<use href="#t2_16" stroke-width="8.05" stroke-opacity="0.054"/>
<use href="#t2_16" stroke-width="7.12" stroke-opacity="0.069"/>
<use href="#t2_16" stroke-width="6.15" stroke-opacity="0.099"/>
<use href="#t2_16" stroke-width="5.2" stroke-opacity="0.137"/>
<use href="#t2_16" stroke-width="4.43" stroke-opacity="0.19"/>
<use href="#t2_16" stroke-width="3.9" stroke-opacity="0.275"/>
<use href="#t2_16" stroke-width="3.49" stroke-opacity="0.459"/>
<use href="#t2_16" stroke-width="3.16" stroke-opacity="1"/>
<defs><path id="t2_17" d="M1854 744.16Q1894.5 743.96 1935 743.75M2003 743.4Q2076.5 743.01 2150 742.6M2180 742.44Q2218 742.22 2256 742"/></defs>
<use href="#t2_17" stroke-width="4.85" stroke-opacity="0.04"/>
<use href="#t2_17" stroke-width="3.43" stroke-opacity="0.042"/>
<use href="#t2_17" stroke-width="2.74" stroke-opacity="0.054"/>
<use href="#t2_17" stroke-width="2.22" stroke-opacity="0.069"/>
<use href="#t2_17" stroke-width="1.67" stroke-opacity="0.099"/>
<use href="#t2_17" stroke-width="1.02" stroke-opacity="0.137"/>
<use href="#t2_17" stroke-width="0.9" stroke-opacity="0.127"/>
<defs><path id="t2_18" d="M1850 780.98Q1905 780.71 1960 780.43M2000 780.22Q2128 779.55 2256 778.8"/></defs>
<use href="#t2_18" stroke-width="4.85" stroke-opacity="0.04"/>
<use href="#t2_18" stroke-width="3.43" stroke-opacity="0.042"/>
<use href="#t2_18" stroke-width="2.74" stroke-opacity="0.054"/>
<use href="#t2_18" stroke-width="2.22" stroke-opacity="0.069"/>
<use href="#t2_18" stroke-width="1.67" stroke-opacity="0.099"/>
<use href="#t2_18" stroke-width="1.02" stroke-opacity="0.137"/>
<use href="#t2_18" stroke-width="0.9" stroke-opacity="0.127"/>
</g>
<circle cx="2024.2" cy="652.5" r="0.7" fill="#fff"/>
</g>
<path d="M1845.2 155.06Q2255 150.8 2664.8 145.99M1845.2 170.66Q2255 166.87 2664.8 161.84M1845.2 191.26Q2255 186.87 2664.8 182.44M1845.2 206.86Q2255 202.47 2664.8 198.04M1845.2 238.66Q2255 235.02 2664.8 230.34M1845.2 254.56Q2255 250.47 2664.8 245.94M1845.2 275.06Q2255 271.42 2664.8 266.74M1845.2 290.66Q2255 286.67 2664.8 282.64M1845.2 340.66Q2255 338.29 2664.8 328.63M1845.2 356.26Q2255 354.04 2664.8 344.33M1845.2 371.96Q2255 370.06 2664.8 360.18M1845.2 387.56Q2255 385.64 2664.8 375.83M1845.2 446.46Q2255 442.92 2664.8 439.14M1845.2 461.91Q2255 458.54 2664.8 454.84M1845.2 482.76Q2255 479.47 2664.8 476.14M1845.2 498.41Q2255 494.82 2664.8 491.79M1845.2 578.06Q2255 575.06 2664.8 572.44M1845.2 593.46Q2255 591.06 2664.8 587.84M1845.2 614.56Q2255 611.99 2664.8 608.89M1845.2 630.16Q2255 627.16 2664.8 624.54M1845.2 735.36Q2255 733.26 2664.8 730.74M1845.2 751.26Q2255 749.31 2664.8 746.34M1845.2 772.26Q2255 770.31 2664.8 767.34M1845.2 787.96Q2255 785.91 2664.8 783.24" fill="none" stroke="#000" stroke-width="2.45"/>
<path d="M1845.2 155.06Q2255 150.8 2664.8 145.99M1845.2 170.66Q2255 166.87 2664.8 161.84M1845.2 191.26Q2255 186.87 2664.8 182.44M1845.2 206.86Q2255 202.47 2664.8 198.04M1845.2 238.66Q2255 235.02 2664.8 230.34M1845.2 254.56Q2255 250.47 2664.8 245.94M1845.2 275.06Q2255 271.42 2664.8 266.74M1845.2 290.66Q2255 286.67 2664.8 282.64M1845.2 340.66Q2255 338.29 2664.8 328.63M1845.2 356.26Q2255 354.04 2664.8 344.33M1845.2 371.96Q2255 370.06 2664.8 360.18M1845.2 387.56Q2255 385.64 2664.8 375.83M1845.2 446.46Q2255 442.92 2664.8 439.14M1845.2 461.91Q2255 458.54 2664.8 454.84M1845.2 482.76Q2255 479.47 2664.8 476.14M1845.2 498.41Q2255 494.82 2664.8 491.79M1845.2 578.06Q2255 575.06 2664.8 572.44M1845.2 593.46Q2255 591.06 2664.8 587.84M1845.2 614.56Q2255 611.99 2664.8 608.89M1845.2 630.16Q2255 627.16 2664.8 624.54M1845.2 735.36Q2255 733.26 2664.8 730.74M1845.2 751.26Q2255 749.31 2664.8 746.34M1845.2 772.26Q2255 770.31 2664.8 767.34M1845.2 787.96Q2255 785.91 2664.8 783.24" fill="none" stroke="#fff" stroke-width="2.35" stroke-dasharray="10 10.05" stroke-dashoffset="0.9"/>
</g>
<rect x="1845" y="100" width="820" height="713" fill="none" stroke="#000" stroke-width="1.67"/>
<path d="M1845 813v7.3M1845 813h-7.3M1945 813v7.3M1845 726h-7.3M2046 813v7.3M1845 638h-7.3M2146 813v7.3M1845 551h-7.3M2246 813v7.3M1845 464h-7.3M2346 813v7.3M1845 377h-7.3M2446 813v7.3M1845 290h-7.3M2547 813v7.3M1845 203h-7.3M2647 813v7.3M1845 116h-7.3" fill="none" stroke="#000" stroke-width="1.67"/>
<g font-size="20.83" text-anchor="middle">
<text x="1845" y="842.8">0</text>
<text x="1945" y="842.8">250</text>
<text x="2046" y="842.8">500</text>
<text x="2146" y="842.8">750</text>
<text x="2246" y="842.8">1000</text>
<text x="2346" y="842.8">1250</text>
<text x="2446" y="842.8">1500</text>
<text x="2547" y="842.8">1750</text>
<text x="2647" y="842.8">2000</text>
<text x="2255.6" y="871.8">pixel</text>
</g>
<text x="2254.7" y="86.7" font-size="25" text-anchor="middle">CHIP3</text>
<g font-size="20.83" text-anchor="end">
<text x="104.6" y="820.65">0</text>
<text x="104.6" y="733.65">250</text>
<text x="104.6" y="645.65">500</text>
<text x="104.6" y="558.65">750</text>
<text x="104.6" y="471.65">1000</text>
<text x="104.6" y="384.65">1250</text>
<text x="104.6" y="297.65">1500</text>
<text x="104.6" y="210.65">1750</text>
<text x="104.6" y="123.65">2000</text>
</g>
<text transform="translate(40.2 458.3) rotate(-90)" font-size="20.83" text-anchor="middle">pixel</text>
<text x="1350" y="33.95" font-size="20.83" text-anchor="middle" textLength="621.5" lengthAdjust="spacing" xml:space="preserve">bet01_Sco_M4211_2023-04-16_06394  (extract_height=45)</text>
</svg></body></html>
